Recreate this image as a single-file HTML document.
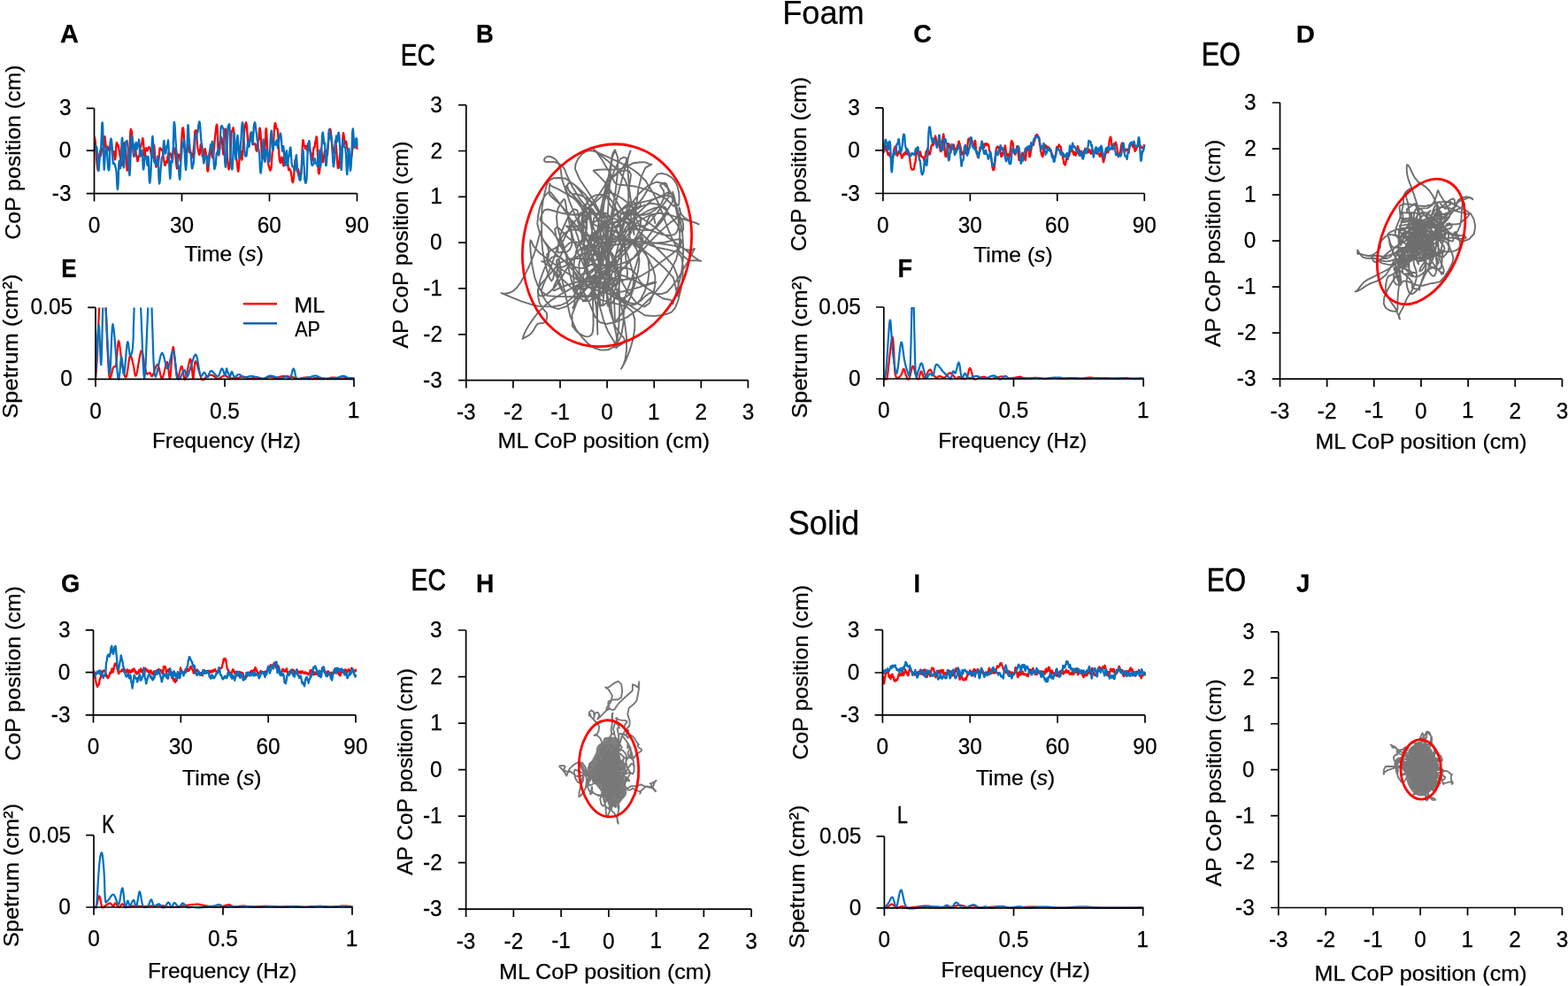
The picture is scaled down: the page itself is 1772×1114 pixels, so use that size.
<!DOCTYPE html>
<html><head><meta charset="utf-8"><title>Figure</title>
<style>html,body{margin:0;padding:0;background:#fff;width:1772px;height:1114px;overflow:hidden} text{stroke:#000;stroke-width:0.25px}</style>
</head><body>
<svg width="1772" height="1114" viewBox="0 0 1772 1114" style="display:block;font-family:&quot;Liberation Sans&quot;, sans-serif">
<defs><clipPath id="cA"><rect x="106.5" y="120.4" width="299" height="100.2"/></clipPath><clipPath id="cC"><rect x="997.9" y="119.9" width="297.4" height="100.6"/></clipPath><clipPath id="cG"><rect x="105.5" y="709.8" width="298.5" height="100"/></clipPath><clipPath id="cI"><rect x="997.4" y="709.7" width="298.6" height="100.2"/></clipPath><clipPath id="cE"><rect x="107" y="347.4" width="295" height="84.9"/></clipPath><clipPath id="cF"><rect x="997.8" y="347" width="296.4" height="85"/></clipPath><clipPath id="cK"><rect x="105" y="943.7" width="295" height="85.3"/></clipPath><clipPath id="cL"><rect x="998.4" y="944.9" width="295.3" height="85"/></clipPath></defs><rect width="100%" height="100%" fill="#fff"/>
<polyline points="106.5,159.4 106.8,154.9 107.2,156.5 107.5,158.5 107.8,161.0 108.2,165.0 108.5,170.6 108.8,176.0 109.1,180.6 109.5,184.4 109.8,186.9 110.1,189.2 110.5,191.7 110.8,192.4 111.1,190.7 111.5,186.8 111.8,181.7 112.1,177.4 112.4,174.4 112.8,173.0 113.1,173.2 113.4,175.1 113.8,176.0 114.1,174.5 114.4,172.9 114.8,171.0 115.1,169.1 115.4,168.0 115.7,167.7 116.1,168.5 116.4,169.4 116.7,169.9 117.1,168.2 117.4,163.2 117.7,157.8 118.0,154.7 118.4,154.1 118.7,155.6 119.0,158.6 119.4,163.6 119.7,167.9 120.0,168.2 120.4,166.9 120.7,166.4 121.0,165.6 121.3,165.4 121.7,165.8 122.0,166.8 122.3,168.3 122.7,169.2 123.0,169.6 123.3,170.0 123.7,170.4 124.0,170.5 124.3,168.3 124.7,163.9 125.0,159.9 125.3,159.0 125.6,160.0 126.0,162.1 126.3,165.2 126.6,167.8 127.0,169.3 127.3,170.3 127.6,172.0 128.0,173.4 128.3,172.8 128.6,171.2 128.9,172.4 129.3,175.9 129.6,178.8 129.9,180.3 130.3,179.8 130.6,177.3 130.9,172.7 131.2,166.6 131.6,162.0 131.9,161.0 132.2,162.4 132.6,164.4 132.9,165.2 133.2,164.6 133.6,163.7 133.9,164.4 134.2,166.7 134.6,169.4 134.9,171.6 135.2,173.6 135.5,175.2 135.9,177.7 136.2,180.4 136.5,182.4 136.9,184.1 137.2,186.1 137.5,187.2 137.8,186.0 138.2,184.6 138.5,183.7 138.8,181.7 139.2,177.6 139.5,171.2 139.8,165.3 140.2,162.2 140.5,161.3 140.8,162.3 141.2,164.2 141.5,166.3 141.8,168.3 142.1,170.2 142.5,174.3 142.8,181.3 143.1,187.8 143.5,191.4 143.8,192.6 144.1,192.6 144.4,190.4 144.8,186.7 145.1,182.6 145.4,179.3 145.8,176.6 146.1,174.2 146.4,170.2 146.8,163.4 147.1,155.3 147.4,149.0 147.8,145.9 148.1,146.0 148.4,147.1 148.7,148.1 149.1,150.3 149.4,155.7 149.7,161.8 150.1,166.2 150.4,170.3 150.7,174.0 151.1,176.1 151.4,176.8 151.7,176.0 152.0,174.3 152.4,172.5 152.7,171.2 153.0,169.5 153.4,170.2 153.7,173.2 154.0,175.0 154.3,175.8 154.7,177.5 155.0,180.2 155.3,182.2 155.7,182.1 156.0,180.5 156.3,178.5 156.7,176.7 157.0,176.1 157.3,175.9 157.7,174.2 158.0,170.5 158.3,167.6 158.6,166.7 159.0,166.0 159.3,164.9 159.6,163.3 160.0,162.7 160.3,162.2 160.6,160.1 160.9,157.5 161.3,156.1 161.6,157.5 161.9,160.2 162.3,164.0 162.6,168.4 162.9,172.8 163.3,176.4 163.6,177.6 163.9,175.7 164.2,171.8 164.6,168.8 164.9,167.6 165.2,167.3 165.6,168.0 165.9,169.2 166.2,169.9 166.6,170.3 166.9,169.6 167.2,168.1 167.6,167.2 167.9,166.5 168.2,166.0 168.5,166.3 168.9,166.8 169.2,167.0 169.5,167.4 169.9,168.9 170.2,170.7 170.5,172.4 170.8,174.6 171.2,177.0 171.5,178.2 171.8,178.1 172.2,175.8 172.5,171.7 172.8,168.0 173.2,165.9 173.5,164.4 173.8,163.6 174.1,163.8 174.5,166.9 174.8,171.8 175.1,176.6 175.5,180.4 175.8,184.6 176.1,187.9 176.5,188.5 176.8,187.8 177.1,186.8 177.4,186.5 177.8,187.1 178.1,187.2 178.4,186.6 178.8,185.9 179.1,184.1 179.4,180.7 179.8,176.7 180.1,172.3 180.4,168.4 180.8,167.1 181.1,167.8 181.4,168.8 181.7,168.9 182.1,169.2 182.4,169.5 182.7,169.1 183.1,168.5 183.4,169.0 183.7,170.1 184.1,172.5 184.4,175.9 184.7,178.8 185.0,180.1 185.4,181.4 185.7,183.8 186.0,186.0 186.4,186.9 186.7,186.8 187.0,185.6 187.3,183.9 187.7,182.5 188.0,182.2 188.3,182.9 188.7,183.9 189.0,182.4 189.3,178.6 189.7,176.2 190.0,175.5 190.3,174.0 190.6,172.4 191.0,172.3 191.3,173.0 191.6,173.5 192.0,173.5 192.3,173.4 192.6,173.5 193.0,174.0 193.3,175.3 193.6,177.0 193.9,178.6 194.3,179.2 194.6,178.1 194.9,176.4 195.3,174.1 195.6,171.5 195.9,168.8 196.3,166.9 196.6,167.1 196.9,167.6 197.2,168.1 197.6,168.8 197.9,169.9 198.2,173.5 198.6,178.6 198.9,182.7 199.2,185.2 199.6,188.1 199.9,190.3 200.2,188.7 200.6,183.5 200.9,178.3 201.2,175.3 201.5,174.5 201.9,174.9 202.2,175.0 202.5,175.0 202.9,175.6 203.2,177.5 203.5,180.5 203.8,181.6 204.2,177.6 204.5,171.7 204.8,165.8 205.2,160.0 205.5,154.5 205.8,148.8 206.2,145.6 206.5,144.6 206.8,144.3 207.1,145.2 207.5,148.0 207.8,152.6 208.1,158.7 208.5,165.6 208.8,170.3 209.1,173.1 209.5,174.6 209.8,173.9 210.1,172.2 210.4,171.5 210.8,170.7 211.1,169.6 211.4,168.7 211.8,167.4 212.1,165.0 212.4,163.9 212.8,165.7 213.1,168.4 213.4,170.5 213.8,171.9 214.1,171.9 214.4,171.6 214.7,171.5 215.1,172.0 215.4,173.0 215.7,173.2 216.1,173.0 216.4,174.3 216.7,176.5 217.1,178.0 217.4,177.8 217.7,176.2 218.0,174.9 218.4,172.7 218.7,169.7 219.0,166.5 219.4,162.9 219.7,159.1 220.0,153.8 220.3,148.7 220.7,147.7 221.0,147.7 221.3,147.3 221.7,147.2 222.0,148.6 222.3,153.5 222.7,160.1 223.0,164.7 223.3,166.9 223.6,168.2 224.0,169.6 224.3,171.3 224.6,172.9 225.0,174.3 225.3,174.9 225.6,174.1 226.0,171.8 226.3,168.0 226.6,164.3 226.9,163.0 227.3,163.3 227.6,164.0 227.9,166.2 228.3,170.6 228.6,174.8 228.9,176.5 229.3,177.3 229.6,177.3 229.9,176.5 230.2,175.8 230.6,174.5 230.9,172.0 231.2,169.7 231.6,168.2 231.9,168.2 232.2,170.0 232.6,172.6 232.9,174.5 233.2,176.2 233.6,180.4 233.9,186.0 234.2,190.5 234.5,193.1 234.9,193.6 235.2,192.9 235.5,190.3 235.9,186.0 236.2,182.5 236.5,179.4 236.8,175.8 237.2,172.0 237.5,169.6 237.8,168.1 238.2,166.4 238.5,166.0 238.8,168.6 239.2,172.8 239.5,175.6 239.8,177.1 240.2,178.2 240.5,178.5 240.8,177.2 241.1,174.7 241.5,172.3 241.8,169.1 242.1,164.4 242.5,160.3 242.8,157.2 243.1,154.7 243.4,151.7 243.8,148.3 244.1,145.5 244.4,143.0 244.8,141.0 245.1,140.6 245.4,142.2 245.8,146.3 246.1,155.7 246.4,165.7 246.8,172.7 247.1,175.4 247.4,174.1 247.7,170.8 248.1,167.6 248.4,164.0 248.7,161.0 249.1,159.4 249.4,157.3 249.7,155.6 250.0,155.1 250.4,155.8 250.7,157.2 251.0,159.6 251.4,163.7 251.7,168.6 252.0,172.8 252.4,174.6 252.7,173.0 253.0,168.6 253.3,162.8 253.7,155.4 254.0,148.4 254.3,146.0 254.7,145.6 255.0,145.9 255.3,146.6 255.7,148.4 256.0,154.7 256.3,163.3 256.6,171.9 257.0,179.1 257.3,183.6 257.6,185.7 258.0,188.4 258.3,190.7 258.6,191.5 259.0,190.3 259.3,188.0 259.6,186.1 259.9,183.0 260.3,176.9 260.6,170.5 260.9,163.7 261.3,155.6 261.6,149.8 261.9,148.2 262.3,147.8 262.6,147.5 262.9,146.3 263.2,144.9 263.6,144.3 263.9,145.5 264.2,148.0 264.6,151.3 264.9,156.3 265.2,161.7 265.6,165.6 265.9,169.8 266.2,174.6 266.5,177.0 266.9,177.8 267.2,179.2 267.5,181.4 267.9,184.1 268.2,187.6 268.5,190.3 268.9,192.4 269.2,193.7 269.5,193.0 269.9,189.5 270.2,184.4 270.5,179.6 270.8,175.7 271.2,172.9 271.5,170.9 271.8,170.4 272.2,171.5 272.5,173.8 272.8,177.4 273.1,180.6 273.5,179.9 273.8,177.2 274.1,174.1 274.5,170.2 274.8,165.5 275.1,160.0 275.5,154.8 275.8,151.5 276.1,149.2 276.4,146.7 276.8,144.0 277.1,142.0 277.4,140.4 277.8,138.9 278.1,138.3 278.4,139.1 278.8,141.3 279.1,144.9 279.4,149.8 279.8,155.7 280.1,161.1 280.4,164.6 280.7,165.7 281.1,165.7 281.4,165.1 281.7,163.7 282.1,161.0 282.4,157.5 282.7,153.7 283.0,151.1 283.4,151.6 283.7,151.6 284.0,150.5 284.4,149.5 284.7,149.8 285.0,152.9 285.4,156.5 285.7,159.4 286.0,161.4 286.4,162.6 286.7,163.1 287.0,163.1 287.3,162.8 287.7,162.4 288.0,162.2 288.3,162.5 288.7,163.4 289.0,165.2 289.3,167.9 289.6,170.0 290.0,170.7 290.3,170.1 290.6,168.6 291.0,166.4 291.3,163.0 291.6,159.7 292.0,158.6 292.3,158.5 292.6,155.6 292.9,149.6 293.3,145.1 293.6,144.6 293.9,146.0 294.3,148.4 294.6,152.0 294.9,157.8 295.3,165.3 295.6,170.4 295.9,174.8 296.2,178.5 296.6,179.5 296.9,177.9 297.2,177.2 297.6,177.7 297.9,178.4 298.2,178.9 298.6,177.7 298.9,174.8 299.2,170.9 299.5,165.6 299.9,158.8 300.2,151.5 300.5,146.1 300.9,145.1 301.2,147.8 301.5,154.2 301.9,161.9 302.2,169.4 302.5,176.0 302.9,181.1 303.2,184.4 303.5,186.8 303.8,188.1 304.2,188.7 304.5,189.9 304.8,191.5 305.2,192.5 305.5,192.5 305.8,192.1 306.1,191.2 306.5,189.7 306.8,186.6 307.1,181.0 307.5,175.4 307.8,172.0 308.1,170.8 308.5,170.2 308.8,167.2 309.1,161.5 309.4,155.3 309.8,149.6 310.1,144.7 310.4,141.4 310.8,139.6 311.1,139.0 311.4,139.7 311.8,141.7 312.1,143.9 312.4,145.3 312.8,145.5 313.1,145.3 313.4,145.7 313.7,146.5 314.1,149.0 314.4,154.9 314.7,162.9 315.1,169.9 315.4,174.7 315.7,178.5 316.0,181.0 316.4,182.7 316.7,183.7 317.0,184.1 317.4,183.8 317.7,181.9 318.0,179.1 318.4,177.5 318.7,178.2 319.0,179.3 319.4,180.3 319.7,182.6 320.0,185.4 320.3,187.3 320.7,187.4 321.0,184.5 321.3,180.8 321.7,177.4 322.0,175.5 322.3,175.3 322.6,174.6 323.0,174.5 323.3,176.5 323.6,179.0 324.0,181.4 324.3,184.8 324.6,187.0 325.0,186.2 325.3,185.6 325.6,187.4 325.9,190.2 326.3,192.2 326.6,191.9 326.9,190.5 327.3,190.6 327.6,192.0 327.9,192.5 328.3,192.8 328.6,193.6 328.9,195.0 329.2,197.1 329.6,199.7 329.9,202.3 330.2,204.4 330.6,205.7 330.9,206.2 331.2,205.6 331.6,203.9 331.9,201.1 332.2,197.6 332.5,193.4 332.9,188.5 333.2,184.1 333.5,180.7 333.9,179.9 334.2,182.0 334.5,184.7 334.9,187.5 335.2,190.4 335.5,192.9 335.9,193.6 336.2,192.8 336.5,191.5 336.8,190.8 337.2,192.0 337.5,193.6 337.8,194.8 338.2,196.0 338.5,197.6 338.8,198.7 339.1,199.0 339.5,198.9 339.8,198.2 340.1,196.7 340.5,193.9 340.8,188.9 341.1,181.0 341.5,172.5 341.8,165.4 342.1,160.3 342.4,158.2 342.8,158.7 343.1,160.6 343.4,162.7 343.8,164.1 344.1,164.8 344.4,165.7 344.8,166.9 345.1,167.9 345.4,167.5 345.8,166.4 346.1,164.8 346.4,164.8 346.7,167.5 347.1,169.8 347.4,168.6 347.7,164.9 348.1,162.3 348.4,163.6 348.7,166.1 349.0,166.6 349.4,166.9 349.7,168.3 350.0,169.4 350.4,170.1 350.7,170.9 351.0,171.9 351.4,172.7 351.7,174.7 352.0,178.2 352.4,180.6 352.7,181.4 353.0,181.5 353.3,179.7 353.7,175.8 354.0,171.8 354.3,168.7 354.7,166.7 355.0,166.2 355.3,166.8 355.6,165.4 356.0,162.6 356.3,160.7 356.6,159.4 357.0,158.0 357.3,156.2 357.6,154.3 358.0,154.6 358.3,159.5 358.6,166.3 358.9,172.9 359.3,181.0 359.6,189.6 359.9,195.0 360.3,196.3 360.6,196.2 360.9,194.9 361.3,192.3 361.6,187.3 361.9,180.7 362.2,174.3 362.6,169.0 362.9,167.8 363.2,169.8 363.6,172.6 363.9,175.9 364.2,179.0 364.6,181.3 364.9,183.2 365.2,183.0 365.6,180.0 365.9,177.3 366.2,175.7 366.5,173.8 366.9,171.3 367.2,170.2 367.5,169.9 367.9,169.5 368.2,171.3 368.5,172.9 368.8,173.1 369.2,173.8 369.5,175.2 369.8,175.4 370.2,173.2 370.5,168.8 370.8,164.1 371.2,160.0 371.5,156.3 371.8,153.0 372.1,149.9 372.5,147.2 372.8,145.8 373.1,145.7 373.5,146.5 373.8,148.3 374.1,151.4 374.5,154.9 374.8,158.0 375.1,162.0 375.4,165.3 375.8,167.0 376.1,169.2 376.4,171.2 376.8,171.5 377.1,172.1 377.4,172.8 377.8,172.2 378.1,169.6 378.4,165.6 378.8,161.5 379.1,159.1 379.4,159.7 379.7,163.0 380.1,167.5 380.4,171.6 380.7,176.6 381.1,182.0 381.4,185.6 381.7,188.5 382.1,189.9 382.4,189.8 382.7,189.7 383.0,188.4 383.4,183.3 383.7,178.0 384.0,175.7 384.4,174.4 384.7,173.1 385.0,172.7 385.3,172.7 385.7,172.1 386.0,169.9 386.3,166.9 386.7,165.1 387.0,162.0 387.3,156.7 387.7,152.2 388.0,150.1 388.3,150.9 388.6,153.2 389.0,156.0 389.3,159.0 389.6,161.3 390.0,162.6 390.3,162.5 390.6,161.2 391.0,159.7 391.3,159.9 391.6,162.2 391.9,165.4 392.3,167.3 392.6,167.7 392.9,168.5 393.3,170.0 393.6,171.8 393.9,174.1 394.3,177.0 394.6,179.6 394.9,181.3 395.2,181.5 395.6,181.4 395.9,181.8 396.2,181.3 396.6,179.9 396.9,178.7 397.2,177.3 397.6,174.5 397.9,171.8 398.2,169.9 398.6,166.6 398.9,163.0 399.2,162.3 399.5,162.8 399.9,162.5 400.2,161.7 400.5,161.1 400.9,161.1 401.2,161.1 401.5,160.9 401.8,161.0 402.2,160.7 402.5,160.8 402.8,161.9 403.2,164.1 403.5,167.9" fill="none" stroke="#ff0000" stroke-width="2.3" stroke-linejoin="round" stroke-linecap="round" clip-path="url(#cA)"/>
<polyline points="106.5,165.1 106.8,161.0 107.2,162.8 107.5,166.7 107.8,168.9 108.2,169.1 108.5,168.8 108.8,167.6 109.1,166.0 109.5,167.1 109.8,171.4 110.1,177.9 110.5,184.4 110.8,187.8 111.1,190.9 111.5,192.9 111.8,190.5 112.1,185.9 112.4,181.6 112.8,176.4 113.1,171.7 113.4,169.3 113.8,169.3 114.1,168.4 114.4,162.2 114.8,152.5 115.1,143.4 115.4,138.8 115.7,138.4 116.1,141.7 116.4,151.5 116.7,163.1 117.1,175.4 117.4,186.9 117.7,191.8 118.0,188.3 118.4,182.0 118.7,176.9 119.0,172.8 119.4,169.7 119.7,167.5 120.0,166.3 120.4,166.4 120.7,167.5 121.0,170.6 121.3,175.9 121.7,182.4 122.0,187.9 122.3,190.8 122.7,191.8 123.0,192.4 123.3,191.9 123.7,187.9 124.0,179.1 124.3,168.5 124.7,160.8 125.0,157.8 125.3,156.6 125.6,156.6 126.0,158.9 126.3,162.2 126.6,166.9 127.0,172.9 127.3,178.1 127.6,182.4 128.0,185.0 128.3,184.9 128.6,184.5 128.9,184.1 129.3,184.7 129.6,185.7 129.9,186.8 130.3,188.2 130.6,188.8 130.9,190.0 131.2,191.7 131.6,194.6 131.9,200.5 132.2,207.5 132.6,212.4 132.9,214.0 133.2,212.6 133.6,207.3 133.9,197.9 134.2,187.8 134.6,182.0 134.9,181.8 135.2,185.0 135.5,189.0 135.9,190.3 136.2,188.1 136.5,183.0 136.9,175.3 137.2,168.1 137.5,161.3 137.8,156.5 138.2,155.8 138.5,160.2 138.8,168.5 139.2,178.7 139.5,186.7 139.8,189.3 140.2,187.2 140.5,183.2 140.8,177.7 141.2,171.7 141.5,167.0 141.8,162.9 142.1,160.4 142.5,160.1 142.8,160.3 143.1,159.2 143.5,159.0 143.8,160.9 144.1,162.7 144.4,164.8 144.8,169.7 145.1,177.6 145.4,185.2 145.8,190.7 146.1,195.8 146.4,198.2 146.8,195.9 147.1,189.1 147.4,180.4 147.8,171.8 148.1,162.8 148.4,156.3 148.7,153.6 149.1,153.3 149.4,155.3 149.7,157.2 150.1,159.4 150.4,162.7 150.7,166.8 151.1,172.0 151.4,176.5 151.7,176.4 152.0,172.6 152.4,167.0 152.7,163.1 153.0,163.0 153.4,161.9 153.7,160.8 154.0,164.1 154.3,168.4 154.7,168.6 155.0,165.1 155.3,162.7 155.7,164.0 156.0,165.3 156.3,163.3 156.7,159.9 157.0,157.6 157.3,160.0 157.7,165.9 158.0,171.6 158.3,175.7 158.6,176.8 159.0,174.7 159.3,172.1 159.6,170.6 160.0,169.7 160.3,169.6 160.6,170.5 160.9,173.6 161.3,179.9 161.6,187.0 161.9,191.3 162.3,191.4 162.6,188.8 162.9,185.0 163.3,181.2 163.6,178.9 163.9,178.0 164.2,178.3 164.6,178.6 164.9,177.8 165.2,176.2 165.6,177.1 165.9,180.6 166.2,184.8 166.6,186.8 166.9,184.6 167.2,179.4 167.6,176.8 167.9,180.5 168.2,189.7 168.5,199.0 168.9,204.9 169.2,206.8 169.5,205.7 169.9,203.0 170.2,199.2 170.5,193.7 170.8,186.8 171.2,178.5 171.5,169.2 171.8,160.6 172.2,155.0 172.5,153.8 172.8,156.9 173.2,162.8 173.5,170.2 173.8,177.7 174.1,182.4 174.5,183.4 174.8,182.7 175.1,182.7 175.5,183.9 175.8,185.4 176.1,186.7 176.5,186.1 176.8,184.2 177.1,182.4 177.4,180.9 177.8,178.5 178.1,176.4 178.4,176.8 178.8,180.8 179.1,190.0 179.4,200.0 179.8,205.3 180.1,207.5 180.4,206.6 180.8,203.8 181.1,198.9 181.4,193.1 181.7,189.8 182.1,187.0 182.4,183.3 182.7,179.3 183.1,177.8 183.4,177.2 183.7,176.4 184.1,174.4 184.4,170.7 184.7,165.1 185.0,160.3 185.4,158.9 185.7,162.0 186.0,167.5 186.4,171.8 186.7,173.5 187.0,173.5 187.3,173.2 187.7,171.4 188.0,168.6 188.3,165.9 188.7,164.5 189.0,164.6 189.3,163.4 189.7,160.1 190.0,158.5 190.3,160.9 190.6,167.8 191.0,176.9 191.3,186.3 191.6,194.2 192.0,199.7 192.3,201.8 192.6,199.2 193.0,192.7 193.3,185.9 193.6,181.7 193.9,181.5 194.3,183.6 194.6,183.6 194.9,181.5 195.3,178.8 195.6,172.2 195.9,160.2 196.3,146.5 196.6,139.1 196.9,137.9 197.2,139.2 197.6,142.3 197.9,147.2 198.2,153.9 198.6,160.0 198.9,164.9 199.2,169.3 199.6,172.1 199.9,174.6 200.2,179.2 200.6,184.8 200.9,188.7 201.2,188.0 201.5,186.8 201.9,188.8 202.2,193.2 202.5,198.3 202.9,202.2 203.2,202.9 203.5,201.1 203.8,195.2 204.2,186.9 204.5,180.7 204.8,177.6 205.2,174.4 205.5,168.9 205.8,163.5 206.2,161.4 206.5,162.7 206.8,165.2 207.1,165.7 207.5,161.6 207.8,157.4 208.1,157.9 208.5,163.6 208.8,172.8 209.1,181.6 209.5,187.1 209.8,190.7 210.1,192.0 210.4,189.9 210.8,183.5 211.1,175.4 211.4,167.1 211.8,157.3 212.1,147.3 212.4,141.2 212.8,141.6 213.1,146.8 213.4,153.6 213.8,158.4 214.1,162.0 214.4,165.4 214.7,167.9 215.1,170.4 215.4,172.4 215.7,174.1 216.1,178.7 216.4,184.9 216.7,188.8 217.1,190.5 217.4,190.2 217.7,188.6 218.0,186.8 218.4,185.8 218.7,185.0 219.0,181.5 219.4,177.2 219.7,172.5 220.0,164.7 220.3,156.7 220.7,153.2 221.0,152.8 221.3,154.5 221.7,156.7 222.0,156.4 222.3,153.2 222.7,150.8 223.0,150.1 223.3,149.6 223.6,148.0 224.0,145.3 224.3,142.4 224.6,139.8 225.0,138.0 225.3,137.4 225.6,138.1 226.0,140.1 226.3,143.6 226.6,148.3 226.9,153.5 227.3,157.6 227.6,160.4 227.9,162.4 228.3,164.5 228.6,167.0 228.9,170.1 229.3,174.0 229.6,178.0 229.9,182.0 230.2,184.4 230.6,183.7 230.9,181.4 231.2,179.1 231.6,177.2 231.9,176.8 232.2,177.7 232.6,178.1 232.9,177.2 233.2,176.3 233.6,175.8 233.9,177.6 234.2,182.0 234.5,185.5 234.9,187.6 235.2,188.7 235.5,187.7 235.9,182.7 236.2,176.9 236.5,172.8 236.8,171.1 237.2,171.1 237.5,168.5 237.8,164.4 238.2,163.2 238.5,164.1 238.8,164.9 239.2,164.5 239.5,162.4 239.8,160.0 240.2,160.1 240.5,162.0 240.8,166.3 241.1,172.5 241.5,179.4 241.8,185.9 242.1,190.1 242.5,191.2 242.8,189.1 243.1,187.9 243.4,187.9 243.8,185.7 244.1,181.7 244.4,177.3 244.8,173.6 245.1,172.4 245.4,172.7 245.8,171.7 246.1,170.2 246.4,169.6 246.8,170.7 247.1,173.4 247.4,174.3 247.7,172.5 248.1,169.9 248.4,167.9 248.7,161.8 249.1,151.9 249.4,144.9 249.7,143.2 250.0,142.9 250.4,142.7 250.7,142.2 251.0,142.2 251.4,143.6 251.7,144.6 252.0,144.7 252.4,145.1 252.7,146.9 253.0,153.0 253.3,161.9 253.7,170.1 254.0,178.1 254.3,184.4 254.7,188.1 255.0,188.9 255.3,186.8 255.7,182.1 256.0,175.5 256.3,169.0 256.6,162.8 257.0,155.1 257.3,147.2 257.6,143.5 258.0,142.1 258.3,141.9 258.6,141.1 259.0,140.2 259.3,141.2 259.6,145.0 259.9,155.5 260.3,169.5 260.6,178.3 260.9,182.2 261.3,186.8 261.6,190.0 261.9,190.7 262.3,191.5 262.6,190.6 262.9,186.6 263.2,179.9 263.6,171.7 263.9,161.8 264.2,153.9 264.6,149.9 264.9,150.8 265.2,156.8 265.6,165.6 265.9,173.8 266.2,179.0 266.5,180.3 266.9,177.8 267.2,172.2 267.5,165.2 267.9,159.9 268.2,155.0 268.5,152.9 268.9,155.8 269.2,160.8 269.5,166.7 269.9,172.2 270.2,176.8 270.5,178.9 270.8,177.7 271.2,174.7 271.5,170.0 271.8,164.6 272.2,161.3 272.5,157.4 272.8,151.4 273.1,145.1 273.5,140.9 273.8,138.5 274.1,138.5 274.5,140.2 274.8,142.4 275.1,145.9 275.5,152.5 275.8,159.8 276.1,165.8 276.4,171.2 276.8,174.9 277.1,176.3 277.4,176.5 277.8,176.5 278.1,176.6 278.4,176.2 278.8,174.5 279.1,171.7 279.4,168.0 279.8,163.6 280.1,160.4 280.4,159.9 280.7,162.0 281.1,165.2 281.4,165.7 281.7,162.3 282.1,160.5 282.4,160.3 282.7,158.3 283.0,154.2 283.4,151.1 283.7,149.8 284.0,149.5 284.4,151.0 284.7,154.6 285.0,159.4 285.4,163.4 285.7,163.2 286.0,158.2 286.4,151.2 286.7,145.2 287.0,141.7 287.3,140.0 287.7,138.8 288.0,138.2 288.3,139.0 288.7,141.2 289.0,144.2 289.3,147.0 289.6,149.0 290.0,151.0 290.3,154.4 290.6,157.7 291.0,159.3 291.3,161.8 291.6,165.6 292.0,168.3 292.3,169.2 292.6,170.9 292.9,172.7 293.3,175.7 293.6,182.5 293.9,190.1 294.3,194.2 294.6,195.5 294.9,194.7 295.3,190.1 295.6,186.5 295.9,184.5 296.2,182.4 296.6,177.5 296.9,169.3 297.2,161.1 297.6,157.3 297.9,159.6 298.2,165.3 298.6,171.7 298.9,177.6 299.2,181.3 299.5,182.9 299.9,181.5 300.2,176.8 300.5,172.2 300.9,169.5 301.2,169.4 301.5,170.3 301.9,170.6 302.2,171.3 302.5,173.2 302.9,175.7 303.2,178.1 303.5,178.8 303.8,180.0 304.2,182.6 304.5,182.2 304.8,176.5 305.2,168.6 305.5,161.4 305.8,156.0 306.1,151.8 306.5,148.7 306.8,147.6 307.1,150.4 307.5,156.4 307.8,162.2 308.1,166.8 308.5,169.2 308.8,168.2 309.1,164.3 309.4,160.7 309.8,160.5 310.1,161.8 310.4,162.8 310.8,163.4 311.1,163.7 311.4,163.4 311.8,162.6 312.1,161.2 312.4,159.2 312.8,158.2 313.1,159.9 313.4,163.4 313.7,166.3 314.1,167.5 314.4,166.0 314.7,163.2 315.1,160.8 315.4,157.1 315.7,154.1 316.0,153.3 316.4,152.6 316.7,150.9 317.0,150.6 317.4,152.5 317.7,154.5 318.0,158.1 318.4,163.8 318.7,168.3 319.0,170.5 319.4,171.0 319.7,169.2 320.0,166.5 320.3,165.2 320.7,168.1 321.0,174.0 321.3,179.6 321.7,184.3 322.0,186.7 322.3,186.0 322.6,183.5 323.0,178.3 323.3,173.0 323.6,170.6 324.0,170.1 324.3,172.8 324.6,179.9 325.0,185.6 325.3,186.3 325.6,182.4 325.9,178.4 326.3,176.8 326.6,176.8 326.9,175.2 327.3,171.8 327.6,169.0 327.9,167.1 328.3,166.5 328.6,168.6 328.9,173.5 329.2,179.0 329.6,183.9 329.9,186.9 330.2,187.9 330.6,187.9 330.9,187.9 331.2,188.1 331.6,188.9 331.9,190.0 332.2,191.3 332.5,192.3 332.9,192.4 333.2,190.9 333.5,187.1 333.9,182.9 334.2,179.7 334.5,176.8 334.9,175.2 335.2,177.2 335.5,183.2 335.9,188.9 336.2,192.0 336.5,194.0 336.8,196.2 337.2,198.1 337.5,198.6 337.8,199.9 338.2,201.7 338.5,203.0 338.8,203.6 339.1,203.8 339.5,203.3 339.8,201.6 340.1,198.8 340.5,194.9 340.8,190.3 341.1,185.4 341.5,179.8 341.8,173.8 342.1,169.4 342.4,168.9 342.8,172.3 343.1,178.7 343.4,185.0 343.8,190.4 344.1,197.9 344.4,203.1 344.8,205.1 345.1,206.3 345.4,206.8 345.8,206.4 346.1,205.1 346.4,203.3 346.7,198.6 347.1,188.3 347.4,178.1 347.7,171.1 348.1,166.6 348.4,163.5 348.7,161.6 349.0,160.6 349.4,159.1 349.7,159.9 350.0,163.7 350.4,168.4 350.7,172.7 351.0,175.4 351.4,177.8 351.7,181.5 352.0,184.6 352.4,185.9 352.7,186.8 353.0,186.9 353.3,186.4 353.7,185.8 354.0,185.5 354.3,185.7 354.7,183.6 355.0,181.0 355.3,179.4 355.6,179.0 356.0,179.5 356.3,180.9 356.6,182.9 357.0,184.6 357.3,184.9 357.6,184.3 358.0,184.2 358.3,185.8 358.6,187.5 358.9,186.9 359.3,182.6 359.6,176.6 359.9,171.5 360.3,169.9 360.6,174.2 360.9,181.8 361.3,187.1 361.6,188.9 361.9,189.1 362.2,188.5 362.6,185.6 362.9,179.4 363.2,171.5 363.6,164.3 363.9,158.0 364.2,152.9 364.6,150.1 364.9,149.6 365.2,151.9 365.6,155.7 365.9,159.7 366.2,162.6 366.5,162.4 366.9,161.0 367.2,163.4 367.5,171.7 367.9,181.4 368.2,186.6 368.5,187.3 368.8,186.1 369.2,182.0 369.5,176.3 369.8,172.4 370.2,169.2 370.5,165.6 370.8,161.5 371.2,156.9 371.5,151.4 371.8,146.7 372.1,146.6 372.5,148.8 372.8,152.6 373.1,156.1 373.5,156.5 373.8,154.4 374.1,154.1 374.5,155.5 374.8,158.3 375.1,162.6 375.4,168.2 375.8,173.8 376.1,179.2 376.4,184.4 376.8,188.0 377.1,188.4 377.4,185.8 377.8,182.4 378.1,179.3 378.4,175.3 378.8,170.0 379.1,164.6 379.4,160.5 379.7,156.6 380.1,153.5 380.4,153.9 380.7,157.9 381.1,160.0 381.4,157.6 381.7,154.7 382.1,152.4 382.4,150.3 382.7,149.8 383.0,150.8 383.4,153.7 383.7,158.5 384.0,164.4 384.4,170.9 384.7,177.8 385.0,185.3 385.3,190.1 385.7,191.9 386.0,190.5 386.3,184.0 386.7,173.5 387.0,164.1 387.3,159.4 387.7,157.9 388.0,158.8 388.3,161.6 388.6,164.5 389.0,165.8 389.3,165.7 389.6,165.6 390.0,166.0 390.3,168.0 390.6,170.9 391.0,174.4 391.3,180.5 391.6,188.8 391.9,195.2 392.3,197.2 392.6,193.5 392.9,186.1 393.3,178.9 393.6,172.7 393.9,168.7 394.3,168.0 394.6,170.7 394.9,177.0 395.2,184.9 395.6,191.0 395.9,192.9 396.2,192.0 396.6,189.0 396.9,184.2 397.2,178.3 397.6,170.3 397.9,160.3 398.2,150.9 398.6,146.0 398.9,145.5 399.2,148.4 399.5,153.0 399.9,158.1 400.2,163.4 400.5,166.7 400.9,166.9 401.2,165.2 401.5,163.1 401.8,160.9 402.2,158.2 402.5,156.5 402.8,156.1 403.2,157.5 403.5,163.4" fill="none" stroke="#0070c0" stroke-width="2.3" stroke-linejoin="round" stroke-linecap="round" clip-path="url(#cA)"/>
<path d="M106.5 122.4V218.6M97.7 218.6H403.5M97.7 122.4H106.5M97.7 170.2H106.5M97.7 218.6H106.5M106.5 218.6V227.4M205.5 218.6V227.4M304.5 218.6V227.4M403.5 218.6V227.4" stroke="#000" stroke-width="1.7" fill="none"/>
<text x="66.95" y="130.43" font-size="25" textLength="13.56" lengthAdjust="spacingAndGlyphs">3</text>
<text x="66.83" y="178.22" font-size="25" textLength="13.56" lengthAdjust="spacingAndGlyphs">0</text>
<text x="58.78" y="226.62" font-size="25" textLength="21.67" lengthAdjust="spacingAndGlyphs">-3</text>
<text x="99.67" y="262.9" font-size="25" textLength="13.56" lengthAdjust="spacingAndGlyphs">0</text>
<text x="191.91" y="262.9" font-size="25" textLength="27.11" lengthAdjust="spacingAndGlyphs">30</text>
<text x="290.79" y="262.9" font-size="25" textLength="27.11" lengthAdjust="spacingAndGlyphs">60</text>
<text x="389.85" y="262.9" font-size="25" textLength="27.11" lengthAdjust="spacingAndGlyphs">90</text>
<polyline points="997.9,171.2 998.2,170.8 998.6,169.8 998.9,170.4 999.2,171.2 999.5,170.2 999.9,167.8 1000.2,166.3 1000.5,165.1 1000.9,164.2 1001.2,165.0 1001.5,166.3 1001.8,167.8 1002.2,170.4 1002.5,171.6 1002.8,171.5 1003.2,173.4 1003.5,174.8 1003.8,173.8 1004.1,172.7 1004.5,172.9 1004.8,173.2 1005.1,174.7 1005.4,176.3 1005.8,176.1 1006.1,176.5 1006.4,177.3 1006.8,177.3 1007.1,177.6 1007.4,177.9 1007.7,179.0 1008.1,181.6 1008.4,182.1 1008.7,179.8 1009.1,177.5 1009.4,176.4 1009.7,174.5 1010.0,171.8 1010.4,168.8 1010.7,167.5 1011.0,167.3 1011.4,166.0 1011.7,165.4 1012.0,165.9 1012.3,167.2 1012.7,168.4 1013.0,169.3 1013.3,171.8 1013.7,175.2 1014.0,176.0 1014.3,173.8 1014.6,173.3 1015.0,174.4 1015.3,173.6 1015.6,172.1 1016.0,171.3 1016.3,170.2 1016.6,170.7 1016.9,172.7 1017.3,173.2 1017.6,173.0 1017.9,173.5 1018.2,174.2 1018.6,175.7 1018.9,177.9 1019.2,178.6 1019.6,178.3 1019.9,177.3 1020.2,176.3 1020.5,175.8 1020.9,174.9 1021.2,173.5 1021.5,173.5 1021.9,174.1 1022.2,174.9 1022.5,174.4 1022.8,173.4 1023.2,171.9 1023.5,171.4 1023.8,171.2 1024.2,172.0 1024.5,173.5 1024.8,174.1 1025.1,174.2 1025.5,173.3 1025.8,170.9 1026.1,170.0 1026.5,171.0 1026.8,172.8 1027.1,172.7 1027.4,172.4 1027.8,175.4 1028.1,178.7 1028.4,181.7 1028.8,184.6 1029.1,186.9 1029.4,188.7 1029.7,190.1 1030.1,191.1 1030.4,191.5 1030.7,191.5 1031.1,191.5 1031.4,191.5 1031.7,191.5 1032.0,191.2 1032.4,191.2 1032.7,191.3 1033.0,190.0 1033.3,188.1 1033.7,185.9 1034.0,184.1 1034.3,183.7 1034.7,182.0 1035.0,178.5 1035.3,174.9 1035.6,173.2 1036.0,172.5 1036.3,171.8 1036.6,171.1 1037.0,171.2 1037.3,171.8 1037.6,173.0 1037.9,174.3 1038.3,175.2 1038.6,175.5 1038.9,176.0 1039.3,175.1 1039.6,172.6 1039.9,171.4 1040.2,172.1 1040.6,173.9 1040.9,175.4 1041.2,176.6 1041.6,177.3 1041.9,177.2 1042.2,177.1 1042.5,177.1 1042.9,177.3 1043.2,177.7 1043.5,178.1 1043.9,179.1 1044.2,181.1 1044.5,181.8 1044.8,180.9 1045.2,179.2 1045.5,177.7 1045.8,175.8 1046.1,173.3 1046.5,172.6 1046.8,171.1 1047.1,170.4 1047.5,170.2 1047.8,169.3 1048.1,168.3 1048.4,168.7 1048.8,169.8 1049.1,171.3 1049.4,173.3 1049.8,174.5 1050.1,174.7 1050.4,174.6 1050.7,174.4 1051.1,173.6 1051.4,172.0 1051.7,169.5 1052.1,167.0 1052.4,165.2 1052.7,164.4 1053.0,164.3 1053.4,163.7 1053.7,162.9 1054.0,163.9 1054.4,164.3 1054.7,163.6 1055.0,162.7 1055.3,161.8 1055.7,161.2 1056.0,159.4 1056.3,156.8 1056.7,154.6 1057.0,153.5 1057.3,154.1 1057.6,155.8 1058.0,157.8 1058.3,160.7 1058.6,163.3 1058.9,164.5 1059.3,164.4 1059.6,163.2 1059.9,160.9 1060.3,160.0 1060.6,160.5 1060.9,162.4 1061.2,163.8 1061.6,164.3 1061.9,165.2 1062.2,167.6 1062.6,169.9 1062.9,171.0 1063.2,171.3 1063.5,171.0 1063.9,169.4 1064.2,166.1 1064.5,162.9 1064.9,160.9 1065.2,158.8 1065.5,156.5 1065.8,153.4 1066.2,151.5 1066.5,152.8 1066.8,156.4 1067.2,161.4 1067.5,166.3 1067.8,170.5 1068.1,174.3 1068.5,176.6 1068.8,177.1 1069.1,176.9 1069.5,176.3 1069.8,174.7 1070.1,172.0 1070.4,168.8 1070.8,165.6 1071.1,164.1 1071.4,163.4 1071.8,162.3 1072.1,162.7 1072.4,162.7 1072.7,163.3 1073.1,165.5 1073.4,167.5 1073.7,169.3 1074.0,171.7 1074.4,172.3 1074.7,170.3 1075.0,169.0 1075.4,168.8 1075.7,168.4 1076.0,167.8 1076.3,166.8 1076.7,166.7 1077.0,165.7 1077.3,163.8 1077.7,163.5 1078.0,164.7 1078.3,166.2 1078.6,167.6 1079.0,167.7 1079.3,168.1 1079.6,168.9 1080.0,168.3 1080.3,168.4 1080.6,169.6 1080.9,170.0 1081.3,168.8 1081.6,167.0 1081.9,165.7 1082.3,164.2 1082.6,163.4 1082.9,163.5 1083.2,161.4 1083.6,159.6 1083.9,160.2 1084.2,161.3 1084.6,162.4 1084.9,164.1 1085.2,164.9 1085.5,166.2 1085.9,168.0 1086.2,169.8 1086.5,172.1 1086.8,173.9 1087.2,174.6 1087.5,174.0 1087.8,173.5 1088.2,173.4 1088.5,172.1 1088.8,171.7 1089.1,172.3 1089.5,171.7 1089.8,171.3 1090.1,171.5 1090.5,172.2 1090.8,173.4 1091.1,172.8 1091.4,171.6 1091.8,172.4 1092.1,173.1 1092.4,172.0 1092.8,170.1 1093.1,167.5 1093.4,164.7 1093.7,161.6 1094.1,158.8 1094.4,157.0 1094.7,156.8 1095.1,157.9 1095.4,158.5 1095.7,158.3 1096.0,157.2 1096.4,156.1 1096.7,155.7 1097.0,156.1 1097.4,156.5 1097.7,157.0 1098.0,157.7 1098.3,158.8 1098.7,161.1 1099.0,162.9 1099.3,163.6 1099.6,164.2 1100.0,165.1 1100.3,164.2 1100.6,162.9 1101.0,163.2 1101.3,162.3 1101.6,159.8 1101.9,158.9 1102.3,160.2 1102.6,163.8 1102.9,168.1 1103.3,170.5 1103.6,170.9 1103.9,171.2 1104.2,172.5 1104.6,174.9 1104.9,177.2 1105.2,177.8 1105.6,176.5 1105.9,175.5 1106.2,174.6 1106.5,173.2 1106.9,171.7 1107.2,168.6 1107.5,166.6 1107.9,167.5 1108.2,167.8 1108.5,166.8 1108.8,166.8 1109.2,167.8 1109.5,167.2 1109.8,166.9 1110.2,167.5 1110.5,166.0 1110.8,163.5 1111.1,163.0 1111.5,165.5 1111.8,167.2 1112.1,166.1 1112.4,163.6 1112.8,162.5 1113.1,163.0 1113.4,163.8 1113.8,164.3 1114.1,163.6 1114.4,162.3 1114.7,162.1 1115.1,163.0 1115.4,163.3 1115.7,163.7 1116.1,163.2 1116.4,162.8 1116.7,163.2 1117.0,163.6 1117.4,164.9 1117.7,167.7 1118.0,169.6 1118.4,170.8 1118.7,172.2 1119.0,174.1 1119.3,175.1 1119.7,176.4 1120.0,178.2 1120.3,179.8 1120.7,181.9 1121.0,184.9 1121.3,187.5 1121.6,189.5 1122.0,191.1 1122.3,192.0 1122.6,192.3 1123.0,192.1 1123.3,191.4 1123.6,190.2 1123.9,187.9 1124.3,184.4 1124.6,180.4 1124.9,177.1 1125.3,174.1 1125.6,170.9 1125.9,168.1 1126.2,167.0 1126.6,167.0 1126.9,166.0 1127.2,165.5 1127.5,166.2 1127.9,166.5 1128.2,166.3 1128.5,167.2 1128.9,168.4 1129.2,167.7 1129.5,166.6 1129.8,166.8 1130.2,169.1 1130.5,172.7 1130.8,174.2 1131.2,175.6 1131.5,177.1 1131.8,176.0 1132.1,173.6 1132.5,173.0 1132.8,174.5 1133.1,175.6 1133.5,174.6 1133.8,172.2 1134.1,169.8 1134.4,169.0 1134.8,169.2 1135.1,168.9 1135.4,166.8 1135.8,164.5 1136.1,164.9 1136.4,167.3 1136.7,169.4 1137.1,171.7 1137.4,173.1 1137.7,173.9 1138.1,176.2 1138.4,176.9 1138.7,175.5 1139.0,174.2 1139.4,174.5 1139.7,175.7 1140.0,178.0 1140.3,178.9 1140.7,177.3 1141.0,175.6 1141.3,173.3 1141.7,170.5 1142.0,168.1 1142.3,165.1 1142.6,161.8 1143.0,159.4 1143.3,159.1 1143.6,159.9 1144.0,160.4 1144.3,160.5 1144.6,161.4 1144.9,164.5 1145.3,168.7 1145.6,171.0 1145.9,172.5 1146.3,173.2 1146.6,172.9 1146.9,173.5 1147.2,174.7 1147.6,174.1 1147.9,171.4 1148.2,168.9 1148.6,168.3 1148.9,167.9 1149.2,166.3 1149.5,165.1 1149.9,167.8 1150.2,170.4 1150.5,171.4 1150.9,174.1 1151.2,177.8 1151.5,180.5 1151.8,181.0 1152.2,180.5 1152.5,179.4 1152.8,178.5 1153.1,178.4 1153.5,177.9 1153.8,177.2 1154.1,176.7 1154.5,177.0 1154.8,177.0 1155.1,174.6 1155.4,172.7 1155.8,173.3 1156.1,173.9 1156.4,174.0 1156.8,174.1 1157.1,174.4 1157.4,176.2 1157.7,177.6 1158.1,179.2 1158.4,180.5 1158.7,181.1 1159.1,179.9 1159.4,176.2 1159.7,172.3 1160.0,170.0 1160.4,169.2 1160.7,168.0 1161.0,166.8 1161.4,166.4 1161.7,166.4 1162.0,166.8 1162.3,168.1 1162.7,170.5 1163.0,174.1 1163.3,177.1 1163.7,177.2 1164.0,176.6 1164.3,175.5 1164.6,173.4 1165.0,171.0 1165.3,169.0 1165.6,167.2 1165.9,164.6 1166.3,163.5 1166.6,163.5 1166.9,163.0 1167.3,162.4 1167.6,163.2 1167.9,163.8 1168.2,161.9 1168.6,159.9 1168.9,159.8 1169.2,158.9 1169.6,157.3 1169.9,155.3 1170.2,153.7 1170.5,153.2 1170.9,153.1 1171.2,152.7 1171.5,152.2 1171.9,152.1 1172.2,152.3 1172.5,152.9 1172.8,153.8 1173.2,154.6 1173.5,155.5 1173.8,155.5 1174.2,155.1 1174.5,156.7 1174.8,160.8 1175.1,163.8 1175.5,164.7 1175.8,167.6 1176.1,171.3 1176.5,172.1 1176.8,172.7 1177.1,174.7 1177.4,175.4 1177.8,175.8 1178.1,176.8 1178.4,177.0 1178.8,175.9 1179.1,172.1 1179.4,167.2 1179.7,164.9 1180.1,164.1 1180.4,164.8 1180.7,166.4 1181.0,167.1 1181.4,165.7 1181.7,164.2 1182.0,165.0 1182.4,166.0 1182.7,166.3 1183.0,167.1 1183.3,167.8 1183.7,166.8 1184.0,165.8 1184.3,166.5 1184.7,167.8 1185.0,167.2 1185.3,166.7 1185.6,168.3 1186.0,169.9 1186.3,169.6 1186.6,169.1 1187.0,168.7 1187.3,169.3 1187.6,169.6 1187.9,171.1 1188.3,173.6 1188.6,174.3 1188.9,174.2 1189.3,174.9 1189.6,176.0 1189.9,176.3 1190.2,177.1 1190.6,177.9 1190.9,178.0 1191.2,178.2 1191.6,177.9 1191.9,177.3 1192.2,177.4 1192.5,177.4 1192.9,175.3 1193.2,173.2 1193.5,171.6 1193.8,168.7 1194.2,166.2 1194.5,167.0 1194.8,168.9 1195.2,168.5 1195.5,167.6 1195.8,166.7 1196.1,165.8 1196.5,164.0 1196.8,163.4 1197.1,164.3 1197.5,164.5 1197.8,164.7 1198.1,165.7 1198.4,165.8 1198.8,166.1 1199.1,167.7 1199.4,169.9 1199.8,172.0 1200.1,172.8 1200.4,172.8 1200.7,174.9 1201.1,177.9 1201.4,179.3 1201.7,180.3 1202.1,183.2 1202.4,185.1 1202.7,184.4 1203.0,184.5 1203.4,185.8 1203.7,186.6 1204.0,186.1 1204.4,184.0 1204.7,182.0 1205.0,180.2 1205.3,177.8 1205.7,176.3 1206.0,176.5 1206.3,176.2 1206.6,174.6 1207.0,174.0 1207.3,175.3 1207.6,176.6 1208.0,176.4 1208.3,175.5 1208.6,174.4 1208.9,172.9 1209.3,171.1 1209.6,169.7 1209.9,169.4 1210.3,169.6 1210.6,169.9 1210.9,169.7 1211.2,170.8 1211.6,171.2 1211.9,170.3 1212.2,169.9 1212.6,171.3 1212.9,173.1 1213.2,174.0 1213.5,174.9 1213.9,174.5 1214.2,172.9 1214.5,171.9 1214.9,171.7 1215.2,173.2 1215.5,175.7 1215.8,175.5 1216.2,173.6 1216.5,173.0 1216.8,173.0 1217.2,172.4 1217.5,169.0 1217.8,165.2 1218.1,165.1 1218.5,167.3 1218.8,168.5 1219.1,168.8 1219.5,169.0 1219.8,170.2 1220.1,172.2 1220.4,174.1 1220.8,175.3 1221.1,175.5 1221.4,174.1 1221.7,172.7 1222.1,172.1 1222.4,172.0 1222.7,173.0 1223.1,175.1 1223.4,177.4 1223.7,178.8 1224.0,177.8 1224.4,175.0 1224.7,172.9 1225.0,171.4 1225.4,170.1 1225.7,169.4 1226.0,168.6 1226.3,167.8 1226.7,167.7 1227.0,169.6 1227.3,171.4 1227.7,171.8 1228.0,172.5 1228.3,172.3 1228.6,171.7 1229.0,171.9 1229.3,171.3 1229.6,171.4 1230.0,172.2 1230.3,171.6 1230.6,169.9 1230.9,168.8 1231.3,169.0 1231.6,169.7 1231.9,171.0 1232.3,172.2 1232.6,173.2 1232.9,173.8 1233.2,173.1 1233.6,172.7 1233.9,171.2 1234.2,169.0 1234.5,169.3 1234.9,170.7 1235.2,171.3 1235.5,171.1 1235.9,170.8 1236.2,171.7 1236.5,171.9 1236.8,170.9 1237.2,171.0 1237.5,171.7 1237.8,172.1 1238.2,170.9 1238.5,170.6 1238.8,171.9 1239.1,173.1 1239.5,173.8 1239.8,173.4 1240.1,171.8 1240.5,170.8 1240.8,170.9 1241.1,172.1 1241.4,173.1 1241.8,173.4 1242.1,174.0 1242.4,175.2 1242.8,176.6 1243.1,176.8 1243.4,176.6 1243.7,175.9 1244.1,173.3 1244.4,170.9 1244.7,170.8 1245.1,171.2 1245.4,172.8 1245.7,175.8 1246.0,178.5 1246.4,179.7 1246.7,181.5 1247.0,183.4 1247.3,182.9 1247.7,180.3 1248.0,178.6 1248.3,178.8 1248.7,177.5 1249.0,174.0 1249.3,172.3 1249.6,172.7 1250.0,173.0 1250.3,172.0 1250.6,170.6 1251.0,170.6 1251.3,170.5 1251.6,170.8 1251.9,172.0 1252.3,172.0 1252.6,170.3 1252.9,167.4 1253.3,163.6 1253.6,159.8 1253.9,157.9 1254.2,157.3 1254.6,155.6 1254.9,154.6 1255.2,154.8 1255.6,156.8 1255.9,159.7 1256.2,162.0 1256.5,165.0 1256.9,167.9 1257.2,168.6 1257.5,168.1 1257.9,168.4 1258.2,167.9 1258.5,167.0 1258.8,167.1 1259.2,166.5 1259.5,164.3 1259.8,163.3 1260.1,162.7 1260.5,161.1 1260.8,160.7 1261.1,162.0 1261.5,162.4 1261.8,163.3 1262.1,166.3 1262.4,167.9 1262.8,169.4 1263.1,172.6 1263.4,175.7 1263.8,177.1 1264.1,176.8 1264.4,176.0 1264.7,175.9 1265.1,175.4 1265.4,173.9 1265.7,172.5 1266.1,170.8 1266.4,169.3 1266.7,167.3 1267.0,165.0 1267.4,163.4 1267.7,162.4 1268.0,161.6 1268.4,161.7 1268.7,162.5 1269.0,162.9 1269.3,163.2 1269.7,164.8 1270.0,167.4 1270.3,170.6 1270.7,172.2 1271.0,171.1 1271.3,169.6 1271.6,169.0 1272.0,169.7 1272.3,170.3 1272.6,169.8 1273.0,168.6 1273.3,169.0 1273.6,169.9 1273.9,168.8 1274.3,168.9 1274.6,169.6 1274.9,170.2 1275.2,171.7 1275.6,172.6 1275.9,171.4 1276.2,168.3 1276.6,166.3 1276.9,165.3 1277.2,163.4 1277.5,162.3 1277.9,161.7 1278.2,161.3 1278.5,162.0 1278.9,163.3 1279.2,162.9 1279.5,161.7 1279.8,163.2 1280.2,165.6 1280.5,166.3 1280.8,164.7 1281.2,163.0 1281.5,163.3 1281.8,164.7 1282.1,167.6 1282.5,170.3 1282.8,170.8 1283.1,170.3 1283.5,169.3 1283.8,168.7 1284.1,168.5 1284.4,167.7 1284.8,166.6 1285.1,165.7 1285.4,165.2 1285.8,165.7 1286.1,164.9 1286.4,162.0 1286.7,159.8 1287.1,158.7 1287.4,158.4 1287.7,160.2 1288.0,163.7 1288.4,165.5 1288.7,164.9 1289.0,164.6 1289.4,165.4 1289.7,166.5 1290.0,167.1 1290.3,166.9 1290.7,167.2 1291.0,167.2 1291.3,166.6 1291.7,167.7 1292.0,167.7 1292.3,166.6 1292.6,165.5 1293.0,164.1 1293.3,165.2" fill="none" stroke="#ff0000" stroke-width="2.3" stroke-linejoin="round" stroke-linecap="round" clip-path="url(#cC)"/>
<polyline points="997.9,171.3 998.2,172.1 998.6,171.7 998.9,169.6 999.2,167.0 999.5,164.2 999.9,162.0 1000.2,160.7 1000.5,158.1 1000.9,157.8 1001.2,159.3 1001.5,160.8 1001.8,160.3 1002.2,160.5 1002.5,163.5 1002.8,167.0 1003.2,168.5 1003.5,169.2 1003.8,169.1 1004.1,165.9 1004.5,161.7 1004.8,160.1 1005.1,160.0 1005.4,159.8 1005.8,160.8 1006.1,163.7 1006.4,169.2 1006.8,178.7 1007.1,187.6 1007.4,192.8 1007.7,194.3 1008.1,193.1 1008.4,189.5 1008.7,184.4 1009.1,179.4 1009.4,175.5 1009.7,172.8 1010.0,171.9 1010.4,171.4 1010.7,171.8 1011.0,172.3 1011.4,173.8 1011.7,174.5 1012.0,173.4 1012.3,172.2 1012.7,169.5 1013.0,166.1 1013.3,163.7 1013.7,162.8 1014.0,163.2 1014.3,162.5 1014.6,161.0 1015.0,159.6 1015.3,157.9 1015.6,157.0 1016.0,158.2 1016.3,161.1 1016.6,164.3 1016.9,168.5 1017.3,172.1 1017.6,172.9 1017.9,172.3 1018.2,171.7 1018.6,170.4 1018.9,168.5 1019.2,167.1 1019.6,165.3 1019.9,162.3 1020.2,158.9 1020.5,155.5 1020.9,152.8 1021.2,151.6 1021.5,151.8 1021.9,152.0 1022.2,153.2 1022.5,156.7 1022.8,161.8 1023.2,165.1 1023.5,166.3 1023.8,166.9 1024.2,168.4 1024.5,171.2 1024.8,171.7 1025.1,169.1 1025.5,168.5 1025.8,170.2 1026.1,172.0 1026.5,172.8 1026.8,173.6 1027.1,175.3 1027.4,176.2 1027.8,176.1 1028.1,176.4 1028.4,176.8 1028.8,176.3 1029.1,175.9 1029.4,175.8 1029.7,175.0 1030.1,173.8 1030.4,173.2 1030.7,173.0 1031.1,173.2 1031.4,173.5 1031.7,174.1 1032.0,174.3 1032.4,174.0 1032.7,174.0 1033.0,174.5 1033.3,175.0 1033.7,174.3 1034.0,172.4 1034.3,170.8 1034.7,168.6 1035.0,167.9 1035.3,169.1 1035.6,169.8 1036.0,168.7 1036.3,167.8 1036.6,166.8 1037.0,166.1 1037.3,166.2 1037.6,167.4 1037.9,170.8 1038.3,174.5 1038.6,177.3 1038.9,179.8 1039.3,181.2 1039.6,181.0 1039.9,182.0 1040.2,185.1 1040.6,188.6 1040.9,191.6 1041.2,194.2 1041.6,196.0 1041.9,196.9 1042.2,197.2 1042.5,197.0 1042.9,196.4 1043.2,195.4 1043.5,194.4 1043.9,192.6 1044.2,189.2 1044.5,185.1 1044.8,182.4 1045.2,181.2 1045.5,180.1 1045.8,181.2 1046.1,184.1 1046.5,186.1 1046.8,186.6 1047.1,186.8 1047.5,186.2 1047.8,183.0 1048.1,178.6 1048.4,172.6 1048.8,164.5 1049.1,156.8 1049.4,150.6 1049.8,146.4 1050.1,143.9 1050.4,143.3 1050.7,143.3 1051.1,144.4 1051.4,147.4 1051.7,150.1 1052.1,152.4 1052.4,155.5 1052.7,157.0 1053.0,157.6 1053.4,159.4 1053.7,161.2 1054.0,160.2 1054.4,157.7 1054.7,156.5 1055.0,157.2 1055.3,158.3 1055.7,158.4 1056.0,158.7 1056.3,159.6 1056.7,160.2 1057.0,160.5 1057.3,161.6 1057.6,163.1 1058.0,163.9 1058.3,164.5 1058.6,165.9 1058.9,166.8 1059.3,166.1 1059.6,164.6 1059.9,162.5 1060.3,160.8 1060.6,158.7 1060.9,155.1 1061.2,152.7 1061.6,152.9 1061.9,155.7 1062.2,158.1 1062.6,158.7 1062.9,160.4 1063.2,164.1 1063.5,168.0 1063.9,169.7 1064.2,169.2 1064.5,168.5 1064.9,168.8 1065.2,168.8 1065.5,169.5 1065.8,168.8 1066.2,164.8 1066.5,160.8 1066.8,158.2 1067.2,156.4 1067.5,157.1 1067.8,157.5 1068.1,157.0 1068.5,157.4 1068.8,158.4 1069.1,160.5 1069.5,162.0 1069.8,162.0 1070.1,162.1 1070.4,163.7 1070.8,167.0 1071.1,171.1 1071.4,175.9 1071.8,179.8 1072.1,181.3 1072.4,181.0 1072.7,180.5 1073.1,177.9 1073.4,174.6 1073.7,172.4 1074.0,170.2 1074.4,167.7 1074.7,166.0 1075.0,165.3 1075.4,164.2 1075.7,163.0 1076.0,163.5 1076.3,165.1 1076.7,166.5 1077.0,167.6 1077.3,168.4 1077.7,169.1 1078.0,169.1 1078.3,170.2 1078.6,173.5 1079.0,175.1 1079.3,173.4 1079.6,171.7 1080.0,172.0 1080.3,172.7 1080.6,171.6 1080.9,170.4 1081.3,170.0 1081.6,169.8 1081.9,169.1 1082.3,167.8 1082.6,167.9 1082.9,167.3 1083.2,165.9 1083.6,164.8 1083.9,163.9 1084.2,164.9 1084.6,166.4 1084.9,168.2 1085.2,172.5 1085.5,177.1 1085.9,180.8 1086.2,184.6 1086.5,187.7 1086.8,187.5 1087.2,184.3 1087.5,181.6 1087.8,180.7 1088.2,180.5 1088.5,180.9 1088.8,179.7 1089.1,175.8 1089.5,170.3 1089.8,166.8 1090.1,165.5 1090.5,164.6 1090.8,163.9 1091.1,164.0 1091.4,166.1 1091.8,168.8 1092.1,170.9 1092.4,172.4 1092.8,174.2 1093.1,175.7 1093.4,174.6 1093.7,173.6 1094.1,173.4 1094.4,172.3 1094.7,169.6 1095.1,167.1 1095.4,167.2 1095.7,167.3 1096.0,166.1 1096.4,162.0 1096.7,157.5 1097.0,155.4 1097.4,155.1 1097.7,155.6 1098.0,157.2 1098.3,158.4 1098.7,161.2 1099.0,165.1 1099.3,165.9 1099.6,165.6 1100.0,166.8 1100.3,167.5 1100.6,167.0 1101.0,166.2 1101.3,166.0 1101.6,167.3 1101.9,169.3 1102.3,169.6 1102.6,169.2 1102.9,170.4 1103.3,172.0 1103.6,172.8 1103.9,174.1 1104.2,174.3 1104.6,172.6 1104.9,172.8 1105.2,174.4 1105.6,176.6 1105.9,178.4 1106.2,177.1 1106.5,173.0 1106.9,170.9 1107.2,171.3 1107.5,170.9 1107.9,169.4 1108.2,167.8 1108.5,166.1 1108.8,163.4 1109.2,161.1 1109.5,159.7 1109.8,159.8 1110.2,161.5 1110.5,163.2 1110.8,166.0 1111.1,168.8 1111.5,170.9 1111.8,172.5 1112.1,173.5 1112.4,173.9 1112.8,174.0 1113.1,173.9 1113.4,172.3 1113.8,169.8 1114.1,169.6 1114.4,171.5 1114.7,173.4 1115.1,174.0 1115.4,174.0 1115.7,174.5 1116.1,175.3 1116.4,177.9 1116.7,179.5 1117.0,179.5 1117.4,179.4 1117.7,177.6 1118.0,175.7 1118.4,175.7 1118.7,175.2 1119.0,172.8 1119.3,171.7 1119.7,173.1 1120.0,175.2 1120.3,178.2 1120.7,181.5 1121.0,183.8 1121.3,185.0 1121.6,186.1 1122.0,187.1 1122.3,187.5 1122.6,187.5 1123.0,187.4 1123.3,186.8 1123.6,185.3 1123.9,183.4 1124.3,181.5 1124.6,179.2 1124.9,175.9 1125.3,172.4 1125.6,171.4 1125.9,171.5 1126.2,172.3 1126.6,174.2 1126.9,175.1 1127.2,174.9 1127.5,175.1 1127.9,174.5 1128.2,172.5 1128.5,170.4 1128.9,169.4 1129.2,169.1 1129.5,168.3 1129.8,166.9 1130.2,166.0 1130.5,164.4 1130.8,164.3 1131.2,165.8 1131.5,166.4 1131.8,167.5 1132.1,168.9 1132.5,168.1 1132.8,167.1 1133.1,167.4 1133.5,168.4 1133.8,170.8 1134.1,171.6 1134.4,170.6 1134.8,170.8 1135.1,171.8 1135.4,173.4 1135.8,176.0 1136.1,178.4 1136.4,179.8 1136.7,181.3 1137.1,182.2 1137.4,181.8 1137.7,180.7 1138.1,179.2 1138.4,178.6 1138.7,178.9 1139.0,178.7 1139.4,177.8 1139.7,177.1 1140.0,179.4 1140.3,183.5 1140.7,184.8 1141.0,184.0 1141.3,184.5 1141.7,185.3 1142.0,185.1 1142.3,184.5 1142.6,182.1 1143.0,177.7 1143.3,174.5 1143.6,172.4 1144.0,169.5 1144.3,167.6 1144.6,167.2 1144.9,167.9 1145.3,168.2 1145.6,168.8 1145.9,169.8 1146.3,170.4 1146.6,170.7 1146.9,172.0 1147.2,173.4 1147.6,172.1 1147.9,170.0 1148.2,171.1 1148.6,172.3 1148.9,170.1 1149.2,168.2 1149.5,168.4 1149.9,167.6 1150.2,166.6 1150.5,165.8 1150.9,165.3 1151.2,165.8 1151.5,167.0 1151.8,168.4 1152.2,170.7 1152.5,173.7 1152.8,177.1 1153.1,180.2 1153.5,182.9 1153.8,184.8 1154.1,184.4 1154.5,181.2 1154.8,179.0 1155.1,180.1 1155.4,181.9 1155.8,181.9 1156.1,180.0 1156.4,176.8 1156.8,175.6 1157.1,174.3 1157.4,172.7 1157.7,172.1 1158.1,171.9 1158.4,170.0 1158.7,167.9 1159.1,167.7 1159.4,168.1 1159.7,168.0 1160.0,167.4 1160.4,166.6 1160.7,166.4 1161.0,167.2 1161.4,167.8 1161.7,166.9 1162.0,165.6 1162.3,165.5 1162.7,164.9 1163.0,165.3 1163.3,166.4 1163.7,168.9 1164.0,170.7 1164.3,168.5 1164.6,165.4 1165.0,162.8 1165.3,161.2 1165.6,162.7 1165.9,164.9 1166.3,165.3 1166.6,164.1 1166.9,162.0 1167.3,161.7 1167.6,160.9 1167.9,158.8 1168.2,157.9 1168.6,156.9 1168.9,156.2 1169.2,156.7 1169.6,156.4 1169.9,155.4 1170.2,154.8 1170.5,154.7 1170.9,154.7 1171.2,154.8 1171.5,155.1 1171.9,155.3 1172.2,155.1 1172.5,154.8 1172.8,154.5 1173.2,154.5 1173.5,154.7 1173.8,155.7 1174.2,157.0 1174.5,158.4 1174.8,160.0 1175.1,161.3 1175.5,162.9 1175.8,164.6 1176.1,166.4 1176.5,168.2 1176.8,168.7 1177.1,168.0 1177.4,166.7 1177.8,165.8 1178.1,165.1 1178.4,164.5 1178.8,164.3 1179.1,163.4 1179.4,162.0 1179.7,162.2 1180.1,165.0 1180.4,168.3 1180.7,169.8 1181.0,171.1 1181.4,173.4 1181.7,174.8 1182.0,173.7 1182.4,173.0 1182.7,173.0 1183.0,172.5 1183.3,170.5 1183.7,168.4 1184.0,167.2 1184.3,168.0 1184.7,168.8 1185.0,169.0 1185.3,169.4 1185.6,169.9 1186.0,168.6 1186.3,167.5 1186.6,169.1 1187.0,170.9 1187.3,171.3 1187.6,170.8 1187.9,170.9 1188.3,172.9 1188.6,176.0 1188.9,177.7 1189.3,177.1 1189.6,175.5 1189.9,176.1 1190.2,178.7 1190.6,181.2 1190.9,182.7 1191.2,182.4 1191.6,182.6 1191.9,181.5 1192.2,179.2 1192.5,177.3 1192.9,176.3 1193.2,175.9 1193.5,173.8 1193.8,171.5 1194.2,171.1 1194.5,169.8 1194.8,167.5 1195.2,167.5 1195.5,168.8 1195.8,169.0 1196.1,168.5 1196.5,168.8 1196.8,169.1 1197.1,169.3 1197.5,169.9 1197.8,171.6 1198.1,172.4 1198.4,173.3 1198.8,174.6 1199.1,174.2 1199.4,173.1 1199.8,173.8 1200.1,174.3 1200.4,173.1 1200.7,172.9 1201.1,174.0 1201.4,173.6 1201.7,173.3 1202.1,175.7 1202.4,177.0 1202.7,177.0 1203.0,177.1 1203.4,176.9 1203.7,175.8 1204.0,175.2 1204.4,175.1 1204.7,175.2 1205.0,174.7 1205.3,173.8 1205.7,173.0 1206.0,174.4 1206.3,177.6 1206.6,180.1 1207.0,179.2 1207.3,175.9 1207.6,173.2 1208.0,173.5 1208.3,173.1 1208.6,169.8 1208.9,165.6 1209.3,164.5 1209.6,166.1 1209.9,167.4 1210.3,167.7 1210.6,168.3 1210.9,169.6 1211.2,168.8 1211.6,166.1 1211.9,163.1 1212.2,161.7 1212.6,163.6 1212.9,165.1 1213.2,166.3 1213.5,166.3 1213.9,165.1 1214.2,165.6 1214.5,166.1 1214.9,166.1 1215.2,166.8 1215.5,167.4 1215.8,168.4 1216.2,169.6 1216.5,169.3 1216.8,169.3 1217.2,171.0 1217.5,171.4 1217.8,169.3 1218.1,169.1 1218.5,172.2 1218.8,173.8 1219.1,174.1 1219.5,174.8 1219.8,175.7 1220.1,175.9 1220.4,175.6 1220.8,174.6 1221.1,173.8 1221.4,172.9 1221.7,171.6 1222.1,170.6 1222.4,170.8 1222.7,174.3 1223.1,178.2 1223.4,179.1 1223.7,179.4 1224.0,179.6 1224.4,177.9 1224.7,176.5 1225.0,175.3 1225.4,173.5 1225.7,171.7 1226.0,170.1 1226.3,168.9 1226.7,168.8 1227.0,169.8 1227.3,171.4 1227.7,173.1 1228.0,172.4 1228.3,170.5 1228.6,169.6 1229.0,168.2 1229.3,166.9 1229.6,165.0 1230.0,162.0 1230.3,159.2 1230.6,158.9 1230.9,160.3 1231.3,160.4 1231.6,160.4 1231.9,160.3 1232.3,159.9 1232.6,160.6 1232.9,163.3 1233.2,164.9 1233.6,164.1 1233.9,163.8 1234.2,165.7 1234.5,168.8 1234.9,171.6 1235.2,173.3 1235.5,176.1 1235.9,177.6 1236.2,175.8 1236.5,173.3 1236.8,171.8 1237.2,171.2 1237.5,170.5 1237.8,168.3 1238.2,166.8 1238.5,166.4 1238.8,166.2 1239.1,167.6 1239.5,170.9 1239.8,173.1 1240.1,173.3 1240.5,173.1 1240.8,171.8 1241.1,169.2 1241.4,167.7 1241.8,167.5 1242.1,167.3 1242.4,166.8 1242.8,168.7 1243.1,170.9 1243.4,171.0 1243.7,169.2 1244.1,166.2 1244.4,164.6 1244.7,165.0 1245.1,165.9 1245.4,167.8 1245.7,170.2 1246.0,172.0 1246.4,174.2 1246.7,175.8 1247.0,176.3 1247.3,177.5 1247.7,178.1 1248.0,176.8 1248.3,175.0 1248.7,173.5 1249.0,172.0 1249.3,170.6 1249.6,168.8 1250.0,167.4 1250.3,169.1 1250.6,170.1 1251.0,168.5 1251.3,166.5 1251.6,166.4 1251.9,168.1 1252.3,168.9 1252.6,167.1 1252.9,164.9 1253.3,165.8 1253.6,167.4 1253.9,168.4 1254.2,169.0 1254.6,169.0 1254.9,168.8 1255.2,168.2 1255.6,167.8 1255.9,167.2 1256.2,167.7 1256.5,167.7 1256.9,165.9 1257.2,165.8 1257.5,166.8 1257.9,166.1 1258.2,164.1 1258.5,162.5 1258.8,163.6 1259.2,164.9 1259.5,166.6 1259.8,169.1 1260.1,169.7 1260.5,170.6 1260.8,173.2 1261.1,175.2 1261.5,174.5 1261.8,173.6 1262.1,174.3 1262.4,174.3 1262.8,173.9 1263.1,173.7 1263.4,174.0 1263.8,175.6 1264.1,177.0 1264.4,176.4 1264.7,175.4 1265.1,175.7 1265.4,176.1 1265.7,175.9 1266.1,176.0 1266.4,176.6 1266.7,175.8 1267.0,175.1 1267.4,173.8 1267.7,170.7 1268.0,167.7 1268.4,165.9 1268.7,164.6 1269.0,162.4 1269.3,161.6 1269.7,162.4 1270.0,162.9 1270.3,165.9 1270.7,170.2 1271.0,173.7 1271.3,175.9 1271.6,176.7 1272.0,176.6 1272.3,176.8 1272.6,176.7 1273.0,176.4 1273.3,177.7 1273.6,179.9 1273.9,178.4 1274.3,175.0 1274.6,172.7 1274.9,171.7 1275.2,170.7 1275.6,168.8 1275.9,166.4 1276.2,164.9 1276.6,163.3 1276.9,162.4 1277.2,163.9 1277.5,164.6 1277.9,162.6 1278.2,160.9 1278.5,161.2 1278.9,161.9 1279.2,162.0 1279.5,161.1 1279.8,160.6 1280.2,161.5 1280.5,161.7 1280.8,161.3 1281.2,160.6 1281.5,159.6 1281.8,160.7 1282.1,162.7 1282.5,164.0 1282.8,164.9 1283.1,165.2 1283.5,164.6 1283.8,165.2 1284.1,165.9 1284.4,165.0 1284.8,165.3 1285.1,165.0 1285.4,164.4 1285.8,163.5 1286.1,160.7 1286.4,157.3 1286.7,155.5 1287.1,155.3 1287.4,157.2 1287.7,161.1 1288.0,165.0 1288.4,169.7 1288.7,174.8 1289.0,179.4 1289.4,181.8 1289.7,181.4 1290.0,180.1 1290.3,177.2 1290.7,173.5 1291.0,170.9 1291.3,170.6 1291.7,171.2 1292.0,170.3 1292.3,169.5 1292.6,168.6 1293.0,165.3 1293.3,165.0" fill="none" stroke="#0070c0" stroke-width="2.3" stroke-linejoin="round" stroke-linecap="round" clip-path="url(#cC)"/>
<path d="M997.9 121.9V218.5M989.1 218.5H1293.3M989.1 121.9H997.9M989.1 169.8H997.9M989.1 218.5H997.9M997.9 218.5V227.3M1096.37 218.5V227.3M1194.83 218.5V227.3M1293.3 218.5V227.3" stroke="#000" stroke-width="1.7" fill="none"/>
<text x="958.35" y="129.93" font-size="25" textLength="13.56" lengthAdjust="spacingAndGlyphs">3</text>
<text x="958.23" y="177.83" font-size="25" textLength="13.56" lengthAdjust="spacingAndGlyphs">0</text>
<text x="950.18" y="226.53" font-size="25" textLength="21.67" lengthAdjust="spacingAndGlyphs">-3</text>
<text x="991.07" y="262.8" font-size="25" textLength="13.56" lengthAdjust="spacingAndGlyphs">0</text>
<text x="1082.78" y="262.8" font-size="25" textLength="27.11" lengthAdjust="spacingAndGlyphs">30</text>
<text x="1181.12" y="262.8" font-size="25" textLength="27.11" lengthAdjust="spacingAndGlyphs">60</text>
<text x="1279.65" y="262.8" font-size="25" textLength="27.11" lengthAdjust="spacingAndGlyphs">90</text>
<polyline points="105.5,758.7 105.8,758.1 106.2,758.6 106.5,759.0 106.8,759.3 107.1,760.6 107.5,763.4 107.8,766.2 108.1,768.6 108.5,770.7 108.8,772.6 109.1,773.4 109.5,774.0 109.8,775.4 110.1,775.9 110.4,774.6 110.8,774.6 111.1,774.0 111.4,773.2 111.8,773.1 112.1,772.1 112.4,769.9 112.7,767.6 113.1,766.4 113.4,766.2 113.7,765.9 114.1,763.8 114.4,761.2 114.7,760.2 115.1,760.1 115.4,760.8 115.7,760.5 116.0,758.4 116.4,758.0 116.7,758.2 117.0,757.6 117.4,757.3 117.7,757.5 118.0,757.8 118.3,758.4 118.7,759.0 119.0,759.5 119.3,760.7 119.7,761.3 120.0,762.6 120.3,764.2 120.7,763.3 121.0,763.4 121.3,765.2 121.6,765.9 122.0,766.1 122.3,765.5 122.6,764.6 123.0,764.4 123.3,763.4 123.6,763.2 123.9,762.1 124.3,759.9 124.6,760.1 124.9,759.2 125.3,759.5 125.6,760.6 125.9,759.2 126.3,756.6 126.6,755.3 126.9,756.9 127.2,759.4 127.6,759.5 127.9,758.7 128.2,757.6 128.6,756.2 128.9,753.7 129.2,751.9 129.5,751.4 129.9,750.3 130.2,749.6 130.5,749.5 130.9,749.6 131.2,750.5 131.5,752.5 131.9,752.9 132.2,753.9 132.5,755.9 132.8,756.7 133.2,757.1 133.5,759.0 133.8,760.9 134.2,761.2 134.5,760.2 134.8,759.3 135.2,759.2 135.5,758.7 135.8,758.4 136.1,758.7 136.5,758.5 136.8,758.4 137.1,758.5 137.5,757.4 137.8,756.3 138.1,756.6 138.4,756.5 138.8,756.4 139.1,757.2 139.4,758.1 139.8,758.7 140.1,759.1 140.4,757.8 140.8,756.4 141.1,756.7 141.4,757.9 141.7,759.2 142.1,759.1 142.4,759.2 142.7,759.3 143.1,759.6 143.4,758.7 143.7,756.5 144.0,756.4 144.4,757.8 144.7,757.9 145.0,758.2 145.4,759.8 145.7,759.3 146.0,757.3 146.4,757.3 146.7,758.5 147.0,759.7 147.3,760.0 147.7,759.0 148.0,758.4 148.3,759.3 148.7,758.9 149.0,756.7 149.3,756.6 149.6,756.7 150.0,757.8 150.3,758.5 150.6,757.5 151.0,756.1 151.3,755.4 151.6,756.0 152.0,756.5 152.3,757.0 152.6,757.5 152.9,759.4 153.3,760.6 153.6,760.2 153.9,759.5 154.3,759.5 154.6,761.1 154.9,761.6 155.2,761.2 155.6,760.7 155.9,759.2 156.2,758.9 156.6,760.2 156.9,759.0 157.2,757.0 157.6,757.9 157.9,759.1 158.2,758.4 158.5,757.4 158.9,756.7 159.2,755.4 159.5,756.9 159.9,758.7 160.2,759.1 160.5,759.3 160.8,758.6 161.2,758.4 161.5,757.1 161.8,756.3 162.2,757.4 162.5,758.9 162.8,760.7 163.2,760.8 163.5,758.9 163.8,757.6 164.1,756.0 164.5,754.9 164.8,755.7 165.1,756.4 165.5,756.5 165.8,757.0 166.1,757.7 166.4,758.8 166.8,758.3 167.1,757.0 167.4,757.7 167.8,759.4 168.1,759.6 168.4,759.2 168.8,759.6 169.1,760.3 169.4,758.8 169.7,757.8 170.1,757.7 170.4,757.4 170.7,758.6 171.1,759.0 171.4,759.9 171.7,761.6 172.0,760.8 172.4,760.5 172.7,761.2 173.0,761.8 173.4,760.5 173.7,758.7 174.0,758.4 174.4,758.9 174.7,759.6 175.0,761.7 175.3,762.8 175.7,760.6 176.0,759.1 176.3,759.1 176.7,757.8 177.0,757.5 177.3,757.8 177.6,757.2 178.0,758.1 178.3,759.4 178.6,758.6 179.0,756.5 179.3,756.0 179.6,757.3 180.0,757.2 180.3,756.6 180.6,757.7 180.9,758.0 181.3,757.1 181.6,757.0 181.9,757.4 182.3,757.8 182.6,758.6 182.9,759.0 183.2,760.4 183.6,761.1 183.9,760.2 184.2,759.4 184.6,756.6 184.9,753.0 185.2,753.2 185.6,754.3 185.9,754.1 186.2,754.0 186.5,753.3 186.9,753.1 187.2,754.8 187.5,757.4 187.9,759.8 188.2,760.3 188.5,759.3 188.8,758.3 189.2,758.1 189.5,758.4 189.8,757.7 190.2,756.3 190.5,757.1 190.8,758.9 191.2,759.2 191.5,758.8 191.8,759.3 192.1,760.6 192.5,761.7 192.8,762.0 193.1,762.5 193.5,763.1 193.8,763.6 194.1,765.2 194.4,766.1 194.8,764.5 195.1,764.9 195.4,767.0 195.8,767.2 196.1,767.9 196.4,769.1 196.8,768.7 197.1,767.0 197.4,767.7 197.7,770.6 198.1,770.8 198.4,769.3 198.7,768.3 199.1,768.4 199.4,769.4 199.7,768.9 200.1,767.0 200.4,766.3 200.7,765.9 201.0,764.9 201.4,764.4 201.7,764.9 202.0,764.6 202.4,762.9 202.7,760.9 203.0,761.0 203.3,760.7 203.7,757.5 204.0,754.4 204.3,755.3 204.7,756.9 205.0,757.2 205.3,758.0 205.7,759.0 206.0,760.0 206.3,760.2 206.6,760.5 207.0,761.1 207.3,760.8 207.6,760.4 208.0,759.2 208.3,758.8 208.6,758.6 208.9,758.3 209.3,757.8 209.6,756.2 209.9,756.5 210.3,757.5 210.6,757.9 210.9,758.6 211.3,758.1 211.6,756.8 211.9,755.6 212.2,756.2 212.6,757.6 212.9,758.1 213.2,758.0 213.6,757.2 213.9,757.0 214.2,756.9 214.5,755.2 214.9,753.8 215.2,754.1 215.5,754.0 215.9,753.1 216.2,753.4 216.5,754.1 216.9,755.6 217.2,756.3 217.5,756.3 217.8,756.6 218.2,757.8 218.5,759.3 218.8,760.7 219.2,759.8 219.5,758.0 219.8,757.1 220.1,756.3 220.5,757.3 220.8,759.9 221.1,760.1 221.5,758.1 221.8,757.4 222.1,757.3 222.5,757.3 222.8,756.5 223.1,757.0 223.4,758.2 223.8,758.3 224.1,758.6 224.4,759.5 224.8,761.2 225.1,761.6 225.4,762.1 225.7,762.3 226.1,761.6 226.4,761.1 226.7,760.6 227.1,760.1 227.4,760.6 227.7,761.8 228.1,762.6 228.4,763.1 228.7,763.3 229.0,762.5 229.4,761.3 229.7,761.0 230.0,759.9 230.4,757.5 230.7,757.0 231.0,758.6 231.3,759.1 231.7,758.6 232.0,758.2 232.3,758.5 232.7,759.6 233.0,758.7 233.3,758.2 233.7,758.3 234.0,759.0 234.3,759.1 234.6,759.6 235.0,760.0 235.3,759.4 235.6,758.1 236.0,757.6 236.3,758.8 236.6,758.4 236.9,758.1 237.3,759.8 237.6,759.4 237.9,758.3 238.3,759.0 238.6,759.6 238.9,758.2 239.3,757.5 239.6,758.0 239.9,758.8 240.2,759.0 240.6,759.0 240.9,758.9 241.2,757.7 241.6,756.7 241.9,757.2 242.2,758.1 242.5,758.0 242.9,756.6 243.2,756.2 243.5,757.1 243.9,758.1 244.2,758.4 244.5,759.3 244.9,760.2 245.2,760.2 245.5,759.4 245.8,759.4 246.2,758.9 246.5,757.8 246.8,757.2 247.2,756.9 247.5,756.7 247.8,756.2 248.1,755.5 248.5,754.8 248.8,754.8 249.1,755.1 249.5,755.1 249.8,755.2 250.1,755.1 250.5,754.3 250.8,753.9 251.1,752.4 251.4,750.7 251.8,749.3 252.1,749.0 252.4,747.0 252.8,744.3 253.1,744.7 253.4,745.4 253.8,745.6 254.1,744.5 254.4,743.9 254.7,744.5 255.1,744.8 255.4,745.9 255.7,748.7 256.1,750.9 256.4,753.5 256.7,755.1 257.0,755.9 257.4,756.9 257.7,756.9 258.0,756.7 258.4,757.7 258.7,759.0 259.0,759.7 259.4,759.9 259.7,759.8 260.0,760.2 260.3,760.6 260.7,760.4 261.0,759.6 261.3,760.3 261.7,761.3 262.0,760.4 262.3,758.7 262.6,757.6 263.0,756.9 263.3,756.1 263.6,756.8 264.0,757.4 264.3,757.4 264.6,758.2 265.0,760.2 265.3,761.2 265.6,760.4 265.9,759.5 266.3,759.1 266.6,760.6 266.9,761.1 267.3,760.6 267.6,761.5 267.9,763.2 268.2,763.1 268.6,762.0 268.9,762.7 269.2,763.6 269.6,762.6 269.9,762.0 270.2,762.2 270.6,761.0 270.9,759.0 271.2,760.0 271.5,760.8 271.9,760.7 272.2,760.7 272.5,760.2 272.9,759.6 273.2,760.0 273.5,760.4 273.8,760.4 274.2,760.2 274.5,760.5 274.8,762.6 275.2,764.6 275.5,765.4 275.8,765.4 276.2,765.7 276.5,765.3 276.8,765.5 277.1,765.9 277.5,766.9 277.8,765.7 278.1,763.3 278.5,763.2 278.8,764.2 279.1,764.4 279.4,763.5 279.8,762.3 280.1,762.4 280.4,762.6 280.8,762.4 281.1,761.8 281.4,761.0 281.8,761.1 282.1,763.1 282.4,762.6 282.7,760.5 283.1,759.4 283.4,758.4 283.7,758.2 284.1,758.2 284.4,757.6 284.7,758.3 285.0,759.0 285.4,758.8 285.7,758.5 286.0,758.7 286.4,759.2 286.7,758.3 287.0,756.8 287.4,756.4 287.7,756.6 288.0,756.0 288.3,754.4 288.7,753.9 289.0,756.5 289.3,758.1 289.7,757.1 290.0,756.6 290.3,757.7 290.6,759.1 291.0,759.9 291.3,760.1 291.6,760.5 292.0,760.5 292.3,761.2 292.6,761.1 293.0,759.8 293.3,759.5 293.6,759.4 293.9,759.8 294.3,759.0 294.6,758.0 294.9,759.2 295.3,761.0 295.6,760.2 295.9,758.9 296.2,759.3 296.6,759.6 296.9,759.7 297.2,760.0 297.6,760.3 297.9,759.6 298.2,758.9 298.6,758.9 298.9,760.3 299.2,760.8 299.5,759.9 299.9,758.9 300.2,758.6 300.5,758.8 300.9,758.2 301.2,758.3 301.5,758.6 301.8,758.3 302.2,757.6 302.5,756.6 302.8,756.4 303.2,756.3 303.5,756.2 303.8,755.8 304.2,755.1 304.5,754.3 304.8,754.2 305.1,753.7 305.5,752.2 305.8,751.2 306.1,751.5 306.5,752.1 306.8,752.3 307.1,752.9 307.4,753.4 307.8,753.2 308.1,752.6 308.4,753.0 308.8,752.7 309.1,751.3 309.4,749.7 309.8,748.9 310.1,749.7 310.4,749.7 310.7,750.1 311.1,751.0 311.4,752.3 311.7,753.0 312.1,753.9 312.4,754.9 312.7,754.2 313.0,752.1 313.4,751.3 313.7,752.5 314.0,753.5 314.4,752.5 314.7,752.6 315.0,753.9 315.4,755.6 315.7,756.7 316.0,757.4 316.3,758.6 316.7,760.6 317.0,760.8 317.3,759.8 317.7,760.7 318.0,760.4 318.3,759.3 318.7,758.7 319.0,757.3 319.3,755.8 319.6,755.9 320.0,757.9 320.3,758.1 320.6,756.6 321.0,757.4 321.3,758.2 321.6,758.8 321.9,758.5 322.3,758.6 322.6,758.5 322.9,757.5 323.3,756.9 323.6,755.4 323.9,755.3 324.3,757.3 324.6,758.7 324.9,760.0 325.2,760.7 325.6,761.1 325.9,761.1 326.2,760.4 326.6,759.4 326.9,759.4 327.2,760.4 327.5,760.6 327.9,760.6 328.2,760.0 328.5,758.9 328.9,759.5 329.2,760.2 329.5,759.2 329.9,757.2 330.2,756.6 330.5,757.3 330.8,757.0 331.2,756.7 331.5,757.0 331.8,757.1 332.2,758.0 332.5,759.7 332.8,760.8 333.1,761.0 333.5,760.8 333.8,759.8 334.1,759.6 334.5,759.1 334.8,757.8 335.1,756.8 335.5,756.9 335.8,758.0 336.1,759.1 336.4,758.5 336.8,759.3 337.1,759.7 337.4,759.5 337.8,760.4 338.1,760.5 338.4,759.4 338.7,758.3 339.1,758.7 339.4,759.4 339.7,760.0 340.1,760.7 340.4,760.7 340.7,760.2 341.1,758.6 341.4,758.1 341.7,759.8 342.0,759.8 342.4,759.5 342.7,759.6 343.0,760.2 343.4,760.9 343.7,760.7 344.0,760.3 344.3,759.5 344.7,759.5 345.0,760.1 345.3,760.9 345.7,760.6 346.0,759.8 346.3,760.4 346.7,761.1 347.0,760.5 347.3,760.5 347.6,761.1 348.0,761.7 348.3,762.3 348.6,761.6 349.0,760.6 349.3,760.9 349.6,761.2 349.9,759.9 350.3,757.9 350.6,757.4 350.9,757.5 351.3,757.5 351.6,757.6 351.9,756.9 352.3,757.6 352.6,759.3 352.9,760.3 353.2,759.1 353.6,758.8 353.9,760.0 354.2,761.7 354.6,762.3 354.9,760.9 355.2,759.3 355.5,759.9 355.9,761.9 356.2,761.6 356.5,760.9 356.9,760.0 357.2,759.4 357.5,760.0 357.9,761.3 358.2,762.1 358.5,762.1 358.8,762.1 359.2,761.9 359.5,760.1 359.8,759.5 360.2,760.0 360.5,759.9 360.8,760.8 361.1,761.1 361.5,760.0 361.8,759.7 362.1,760.4 362.5,760.5 362.8,759.0 363.1,757.9 363.5,757.9 363.8,757.7 364.1,757.2 364.4,756.5 364.8,756.3 365.1,756.4 365.4,754.9 365.8,753.8 366.1,754.5 366.4,756.3 366.7,757.8 367.1,758.3 367.4,759.4 367.7,760.5 368.1,761.8 368.4,762.7 368.7,761.6 369.1,760.0 369.4,759.7 369.7,759.7 370.0,758.9 370.4,758.4 370.7,758.2 371.0,758.5 371.4,758.9 371.7,759.9 372.0,760.7 372.3,761.3 372.7,762.3 373.0,762.5 373.3,761.6 373.7,760.5 374.0,760.0 374.3,759.7 374.7,760.9 375.0,762.7 375.3,761.7 375.6,760.0 376.0,759.8 376.3,761.1 376.6,761.4 377.0,760.7 377.3,759.0 377.6,757.0 378.0,757.5 378.3,760.1 378.6,759.4 378.9,758.8 379.3,759.2 379.6,757.4 379.9,757.0 380.3,758.2 380.6,758.6 380.9,756.5 381.2,755.9 381.6,757.0 381.9,758.0 382.2,760.2 382.6,761.7 382.9,761.2 383.2,760.7 383.6,762.1 383.9,763.0 384.2,763.1 384.5,763.5 384.9,762.3 385.2,760.8 385.5,759.3 385.9,758.5 386.2,758.7 386.5,759.4 386.8,759.7 387.2,759.5 387.5,759.8 387.8,759.8 388.2,760.0 388.5,759.8 388.8,760.5 389.2,758.5 389.5,756.6 389.8,758.1 390.1,757.9 390.5,756.7 390.8,756.6 391.1,757.3 391.5,758.5 391.8,760.1 392.1,760.2 392.4,759.2 392.8,758.9 393.1,758.2 393.4,756.9 393.8,756.1 394.1,756.7 394.4,757.4 394.8,757.7 395.1,758.2 395.4,758.8 395.7,758.9 396.1,759.5 396.4,758.8 396.7,756.1 397.1,754.9 397.4,754.8 397.7,755.5 398.0,757.6 398.4,758.9 398.7,758.4 399.0,757.8 399.4,758.1 399.7,758.3 400.0,757.9 400.4,758.1 400.7,758.4 401.0,758.6 401.3,757.4 401.7,756.6 402.0,758.0" fill="none" stroke="#ff0000" stroke-width="2.3" stroke-linejoin="round" stroke-linecap="round" clip-path="url(#cG)"/>
<polyline points="105.5,763.4 105.8,765.5 106.2,764.7 106.5,762.9 106.8,762.0 107.1,762.1 107.5,761.9 107.8,761.4 108.1,761.7 108.5,761.6 108.8,760.5 109.1,760.6 109.5,761.3 109.8,759.7 110.1,758.4 110.4,758.6 110.8,759.4 111.1,760.2 111.4,760.5 111.8,760.1 112.1,758.6 112.4,757.4 112.7,759.1 113.1,761.9 113.4,760.8 113.7,758.0 114.1,758.2 114.4,759.4 114.7,759.8 115.1,762.0 115.4,762.7 115.7,762.4 116.0,764.2 116.4,765.5 116.7,766.1 117.0,765.3 117.4,764.2 117.7,764.0 118.0,763.3 118.3,762.2 118.7,762.7 119.0,762.6 119.3,760.2 119.7,754.9 120.0,749.3 120.3,747.8 120.7,746.5 121.0,744.0 121.3,742.0 121.6,740.9 122.0,740.7 122.3,739.6 122.6,741.0 123.0,741.1 123.3,740.3 123.6,741.8 123.9,741.0 124.3,739.0 124.6,738.6 124.9,736.3 125.3,732.6 125.6,731.4 125.9,730.9 126.3,729.8 126.6,732.6 126.9,735.4 127.2,736.4 127.6,738.2 127.9,739.0 128.2,738.6 128.6,736.9 128.9,734.4 129.2,732.3 129.5,730.7 129.9,731.0 130.2,730.4 130.5,729.9 130.9,732.1 131.2,735.6 131.5,738.8 131.9,742.7 132.2,746.2 132.5,750.8 132.8,754.5 133.2,754.7 133.5,756.0 133.8,757.1 134.2,755.4 134.5,753.9 134.8,752.3 135.2,750.0 135.5,747.8 135.8,747.3 136.1,745.8 136.5,742.5 136.8,740.5 137.1,741.4 137.5,743.5 137.8,745.1 138.1,745.5 138.4,746.8 138.8,749.5 139.1,752.0 139.4,753.3 139.8,754.2 140.1,755.1 140.4,756.7 140.8,758.3 141.1,759.4 141.4,760.6 141.7,762.0 142.1,763.6 142.4,763.8 142.7,764.2 143.1,762.9 143.4,763.1 143.7,764.3 144.0,763.2 144.4,761.9 144.7,761.8 145.0,761.4 145.4,761.7 145.7,764.3 146.0,766.1 146.4,766.6 146.7,766.6 147.0,763.9 147.3,762.8 147.7,763.6 148.0,766.3 148.3,770.1 148.7,771.7 149.0,772.6 149.3,775.8 149.6,777.5 150.0,774.9 150.3,772.7 150.6,770.3 151.0,768.1 151.3,765.1 151.6,762.8 152.0,762.9 152.3,764.5 152.6,766.1 152.9,766.2 153.3,765.5 153.6,766.0 153.9,767.1 154.3,766.7 154.6,766.3 154.9,768.4 155.2,770.6 155.6,769.8 155.9,767.4 156.2,765.3 156.6,765.3 156.9,764.8 157.2,763.7 157.6,762.9 157.9,761.8 158.2,763.5 158.5,768.4 158.9,768.8 159.2,765.7 159.5,765.7 159.9,768.1 160.2,767.4 160.5,765.4 160.8,764.9 161.2,764.3 161.5,763.2 161.8,760.9 162.2,757.9 162.5,754.5 162.8,755.1 163.2,759.5 163.5,763.6 163.8,766.1 164.1,766.8 164.5,767.8 164.8,769.8 165.1,772.3 165.5,772.0 165.8,769.0 166.1,767.9 166.4,767.7 166.8,765.7 167.1,764.8 167.4,764.5 167.8,762.7 168.1,762.2 168.4,762.5 168.8,761.3 169.1,762.0 169.4,762.9 169.7,763.6 170.1,764.8 170.4,765.8 170.7,765.5 171.1,764.8 171.4,766.1 171.7,766.7 172.0,767.6 172.4,768.3 172.7,767.5 173.0,767.7 173.4,767.8 173.7,764.5 174.0,763.3 174.4,765.7 174.7,765.0 175.0,762.2 175.3,759.6 175.7,758.4 176.0,758.7 176.3,759.3 176.7,760.8 177.0,762.0 177.3,761.7 177.6,760.0 178.0,758.1 178.3,758.8 178.6,760.8 179.0,760.9 179.3,760.4 179.6,758.4 180.0,756.8 180.3,758.4 180.6,761.2 180.9,762.5 181.3,763.7 181.6,764.6 181.9,765.8 182.3,767.1 182.6,770.0 182.9,770.4 183.2,768.9 183.6,767.3 183.9,766.5 184.2,764.9 184.6,762.5 184.9,760.8 185.2,762.4 185.6,764.0 185.9,762.7 186.2,762.5 186.5,763.4 186.9,763.0 187.2,761.9 187.5,762.1 187.9,764.9 188.2,765.7 188.5,763.3 188.8,761.7 189.2,762.5 189.5,764.3 189.8,766.8 190.2,766.4 190.5,762.8 190.8,762.0 191.2,761.5 191.5,760.3 191.8,757.2 192.1,755.2 192.5,756.4 192.8,757.1 193.1,758.1 193.5,761.9 193.8,763.7 194.1,764.7 194.4,763.3 194.8,759.8 195.1,761.7 195.4,764.9 195.8,764.1 196.1,760.9 196.4,758.5 196.8,758.5 197.1,761.1 197.4,761.3 197.7,760.2 198.1,762.4 198.4,764.1 198.7,763.0 199.1,762.6 199.4,766.8 199.7,768.3 200.1,764.4 200.4,760.6 200.7,759.1 201.0,759.4 201.4,761.8 201.7,763.2 202.0,764.1 202.4,764.4 202.7,765.6 203.0,766.4 203.3,765.9 203.7,763.7 204.0,760.5 204.3,759.0 204.7,757.3 205.0,757.2 205.3,758.1 205.7,759.0 206.0,759.9 206.3,760.6 206.6,761.2 207.0,761.7 207.3,763.4 207.6,763.3 208.0,761.2 208.3,760.0 208.6,760.3 208.9,759.4 209.3,760.4 209.6,760.2 209.9,757.9 210.3,757.6 210.6,756.6 210.9,754.3 211.3,753.7 211.6,753.2 211.9,752.4 212.2,750.7 212.6,747.9 212.9,746.0 213.2,745.1 213.6,743.2 213.9,742.1 214.2,742.2 214.5,742.6 214.9,743.1 215.2,744.2 215.5,745.7 215.9,746.2 216.2,746.9 216.5,747.7 216.9,747.5 217.2,748.2 217.5,750.0 217.8,752.0 218.2,752.5 218.5,751.2 218.8,752.4 219.2,754.5 219.5,753.8 219.8,752.2 220.1,753.2 220.5,757.7 220.8,760.7 221.1,760.5 221.5,761.4 221.8,761.1 222.1,761.3 222.5,763.1 222.8,763.0 223.1,761.9 223.4,761.3 223.8,759.9 224.1,758.2 224.4,759.2 224.8,759.7 225.1,759.2 225.4,760.2 225.7,761.5 226.1,762.9 226.4,762.4 226.7,761.7 227.1,761.5 227.4,760.7 227.7,760.9 228.1,761.6 228.4,761.1 228.7,760.1 229.0,758.9 229.4,757.2 229.7,758.1 230.0,760.9 230.4,760.4 230.7,757.6 231.0,758.4 231.3,760.8 231.7,760.2 232.0,759.4 232.3,759.0 232.7,758.1 233.0,760.1 233.3,760.8 233.7,759.0 234.0,758.9 234.3,757.9 234.6,758.0 235.0,759.1 235.3,759.8 235.6,760.1 236.0,761.0 236.3,762.4 236.6,764.3 236.9,765.1 237.3,765.2 237.6,764.9 237.9,765.7 238.3,766.7 238.6,765.6 238.9,763.1 239.3,762.4 239.6,762.4 239.9,763.5 240.2,765.9 240.6,765.3 240.9,764.2 241.2,766.1 241.6,766.4 241.9,765.2 242.2,765.8 242.5,765.6 242.9,764.5 243.2,764.5 243.5,763.9 243.9,761.6 244.2,762.2 244.5,761.7 244.9,760.0 245.2,759.7 245.5,760.7 245.8,760.5 246.2,760.2 246.5,759.1 246.8,756.5 247.2,755.0 247.5,754.0 247.8,755.2 248.1,757.7 248.5,757.9 248.8,760.7 249.1,762.6 249.5,762.7 249.8,762.3 250.1,763.1 250.5,764.2 250.8,765.5 251.1,766.5 251.4,766.6 251.8,767.4 252.1,767.5 252.4,765.9 252.8,766.6 253.1,766.2 253.4,764.7 253.8,764.5 254.1,763.9 254.4,763.6 254.7,764.8 255.1,766.0 255.4,765.8 255.7,765.1 256.1,765.3 256.4,766.1 256.7,765.7 257.0,763.1 257.4,761.0 257.7,759.5 258.0,758.8 258.4,758.8 258.7,760.6 259.0,762.6 259.4,762.3 259.7,761.9 260.0,762.9 260.3,763.7 260.7,764.5 261.0,765.1 261.3,762.4 261.7,761.3 262.0,764.3 262.3,766.8 262.6,765.6 263.0,763.4 263.3,764.1 263.6,764.7 264.0,763.9 264.3,764.7 264.6,766.7 265.0,768.4 265.3,768.8 265.6,767.0 265.9,765.6 266.3,765.3 266.6,763.8 266.9,761.8 267.3,760.3 267.6,758.6 267.9,759.3 268.2,762.3 268.6,761.5 268.9,759.6 269.2,758.9 269.6,758.8 269.9,760.6 270.2,763.5 270.6,764.5 270.9,764.5 271.2,765.6 271.5,766.0 271.9,763.8 272.2,761.1 272.5,760.9 272.9,762.3 273.2,762.6 273.5,762.1 273.8,762.3 274.2,764.6 274.5,767.7 274.8,768.6 275.2,767.7 275.5,766.2 275.8,766.5 276.2,767.8 276.5,767.3 276.8,766.9 277.1,767.2 277.5,764.6 277.8,762.7 278.1,761.8 278.5,760.0 278.8,760.1 279.1,762.4 279.4,763.1 279.8,761.3 280.1,759.6 280.4,760.0 280.8,759.8 281.1,759.7 281.4,762.3 281.8,763.3 282.1,763.1 282.4,763.1 282.7,762.0 283.1,761.2 283.4,762.4 283.7,763.4 284.1,761.7 284.4,760.8 284.7,760.7 285.0,760.8 285.4,760.6 285.7,760.1 286.0,760.8 286.4,763.1 286.7,763.6 287.0,762.4 287.4,761.4 287.7,760.0 288.0,760.0 288.3,762.0 288.7,763.1 289.0,761.9 289.3,761.5 289.7,762.7 290.0,762.6 290.3,762.0 290.6,761.6 291.0,762.0 291.3,762.1 291.6,762.2 292.0,763.5 292.3,765.0 292.6,766.3 293.0,766.3 293.3,764.9 293.6,764.5 293.9,764.1 294.3,763.3 294.6,760.6 294.9,759.2 295.3,759.2 295.6,759.4 295.9,760.3 296.2,760.6 296.6,760.5 296.9,759.8 297.2,759.4 297.6,760.6 297.9,761.4 298.2,761.8 298.6,762.1 298.9,763.3 299.2,764.5 299.5,765.1 299.9,763.1 300.2,760.0 300.5,761.1 300.9,762.3 301.2,762.0 301.5,761.2 301.8,758.8 302.2,756.5 302.5,755.0 302.8,753.6 303.2,752.6 303.5,753.7 303.8,756.3 304.2,757.2 304.5,758.8 304.8,760.6 305.1,760.2 305.5,758.3 305.8,758.2 306.1,756.8 306.5,755.2 306.8,753.3 307.1,751.4 307.4,751.6 307.8,752.1 308.1,752.5 308.4,753.8 308.8,755.3 309.1,755.5 309.4,754.0 309.8,752.8 310.1,751.7 310.4,751.1 310.7,750.3 311.1,749.0 311.4,747.9 311.7,748.3 312.1,748.1 312.4,747.8 312.7,749.4 313.0,754.2 313.4,759.6 313.7,760.3 314.0,757.1 314.4,754.8 314.7,755.0 315.0,755.6 315.4,754.6 315.7,755.3 316.0,758.7 316.3,761.8 316.7,762.7 317.0,761.1 317.3,759.2 317.7,761.1 318.0,763.4 318.3,762.5 318.7,761.9 319.0,762.2 319.3,762.8 319.6,761.7 320.0,761.3 320.3,762.2 320.6,763.1 321.0,765.4 321.3,768.0 321.6,771.3 321.9,771.1 322.3,769.2 322.6,770.8 322.9,772.3 323.3,770.6 323.6,768.9 323.9,767.3 324.3,764.5 324.6,762.9 324.9,761.9 325.2,761.6 325.6,762.1 325.9,761.6 326.2,760.3 326.6,761.0 326.9,763.0 327.2,762.4 327.5,758.8 327.9,758.0 328.2,758.6 328.5,758.3 328.9,757.4 329.2,756.6 329.5,757.4 329.9,758.1 330.2,757.8 330.5,759.6 330.8,761.4 331.2,762.5 331.5,763.5 331.8,762.9 332.2,762.4 332.5,764.4 332.8,764.7 333.1,763.2 333.5,761.3 333.8,760.1 334.1,760.4 334.5,760.6 334.8,760.1 335.1,757.4 335.5,756.4 335.8,759.1 336.1,761.9 336.4,762.4 336.8,762.4 337.1,763.5 337.4,763.1 337.8,764.1 338.1,766.0 338.4,766.0 338.7,765.4 339.1,764.2 339.4,763.9 339.7,763.5 340.1,764.4 340.4,766.2 340.7,767.5 341.1,770.3 341.4,771.7 341.7,770.3 342.0,770.9 342.4,772.7 342.7,773.2 343.0,772.7 343.4,771.8 343.7,773.2 344.0,775.3 344.3,773.6 344.7,771.0 345.0,768.5 345.3,767.0 345.7,767.8 346.0,766.6 346.3,765.0 346.7,765.0 347.0,766.0 347.3,767.0 347.6,768.2 348.0,769.0 348.3,770.0 348.6,771.8 349.0,770.2 349.3,767.9 349.6,767.2 349.9,767.5 350.3,767.1 350.6,765.0 350.9,762.6 351.3,763.1 351.6,764.9 351.9,762.7 352.3,759.1 352.6,759.2 352.9,762.0 353.2,762.3 353.6,758.9 353.9,755.3 354.2,753.8 354.6,754.2 354.9,754.6 355.2,754.4 355.5,754.5 355.9,752.8 356.2,752.4 356.5,752.9 356.9,754.7 357.2,756.2 357.5,756.2 357.9,755.9 358.2,758.2 358.5,760.8 358.8,761.3 359.2,760.9 359.5,760.6 359.8,762.5 360.2,764.0 360.5,760.8 360.8,757.7 361.1,759.0 361.5,760.5 361.8,761.8 362.1,764.3 362.5,765.3 362.8,764.9 363.1,764.4 363.5,761.1 363.8,757.4 364.1,754.7 364.4,754.6 364.8,755.3 365.1,753.7 365.4,753.4 365.8,755.8 366.1,758.4 366.4,759.5 366.7,759.3 367.1,758.0 367.4,758.5 367.7,760.8 368.1,761.4 368.4,762.1 368.7,764.0 369.1,764.0 369.4,763.3 369.7,764.2 370.0,762.8 370.4,762.4 370.7,762.9 371.0,761.5 371.4,760.3 371.7,760.0 372.0,761.1 372.3,761.8 372.7,761.8 373.0,760.7 373.3,762.4 373.7,765.9 374.0,766.7 374.3,766.8 374.7,767.9 375.0,768.5 375.3,768.1 375.6,766.4 376.0,763.7 376.3,761.4 376.6,759.8 377.0,759.0 377.3,759.3 377.6,758.6 378.0,758.2 378.3,757.2 378.6,755.3 378.9,755.2 379.3,757.8 379.6,760.2 379.9,760.7 380.3,757.7 380.6,754.9 380.9,756.0 381.2,756.3 381.6,755.5 381.9,754.8 382.2,755.5 382.6,757.1 382.9,756.2 383.2,756.4 383.6,758.9 383.9,757.9 384.2,755.9 384.5,755.9 384.9,757.6 385.2,757.9 385.5,756.2 385.9,755.5 386.2,755.6 386.5,756.9 386.8,758.3 387.2,758.8 387.5,757.5 387.8,757.0 388.2,759.2 388.5,759.8 388.8,760.7 389.2,761.9 389.5,762.4 389.8,762.5 390.1,761.5 390.5,759.4 390.8,758.6 391.1,760.8 391.5,762.2 391.8,762.9 392.1,764.8 392.4,765.8 392.8,766.2 393.1,765.4 393.4,763.0 393.8,762.6 394.1,763.6 394.4,763.0 394.8,760.4 395.1,760.3 395.4,762.4 395.7,762.2 396.1,760.5 396.4,761.6 396.7,760.9 397.1,757.2 397.4,756.1 397.7,757.2 398.0,756.9 398.4,755.4 398.7,756.4 399.0,759.2 399.4,759.8 399.7,758.9 400.0,760.6 400.4,762.2 400.7,761.9 401.0,763.6 401.3,764.5 401.7,764.6 402.0,763.1" fill="none" stroke="#0070c0" stroke-width="2.3" stroke-linejoin="round" stroke-linecap="round" clip-path="url(#cG)"/>
<path d="M105.5 711.8V807.8M96.7 807.8H402M96.7 711.8H105.5M96.7 759.7H105.5M96.7 807.8H105.5M105.5 807.8V816.6M204.33 807.8V816.6M303.17 807.8V816.6M402 807.8V816.6" stroke="#000" stroke-width="1.7" fill="none"/>
<text x="65.95" y="719.82" font-size="25" textLength="13.56" lengthAdjust="spacingAndGlyphs">3</text>
<text x="65.83" y="767.73" font-size="25" textLength="13.56" lengthAdjust="spacingAndGlyphs">0</text>
<text x="57.78" y="815.82" font-size="25" textLength="21.67" lengthAdjust="spacingAndGlyphs">-3</text>
<text x="98.67" y="852.1" font-size="25" textLength="13.56" lengthAdjust="spacingAndGlyphs">0</text>
<text x="190.74" y="852.1" font-size="25" textLength="27.11" lengthAdjust="spacingAndGlyphs">30</text>
<text x="289.46" y="852.1" font-size="25" textLength="27.11" lengthAdjust="spacingAndGlyphs">60</text>
<text x="388.35" y="852.1" font-size="25" textLength="27.11" lengthAdjust="spacingAndGlyphs">90</text>
<polyline points="997.4,763.6 997.7,766.1 998.1,767.9 998.4,770.9 998.7,772.4 999.0,772.2 999.4,770.8 999.7,768.0 1000.0,765.1 1000.4,763.7 1000.7,763.8 1001.0,761.9 1001.4,760.0 1001.7,759.5 1002.0,759.6 1002.3,759.6 1002.7,759.5 1003.0,760.0 1003.3,758.7 1003.7,759.2 1004.0,761.9 1004.3,763.5 1004.7,765.2 1005.0,764.1 1005.3,763.0 1005.6,764.0 1006.0,764.8 1006.3,766.0 1006.6,767.1 1007.0,765.4 1007.3,763.2 1007.6,763.1 1007.9,762.8 1008.3,761.6 1008.6,761.9 1008.9,763.8 1009.3,765.4 1009.6,764.7 1009.9,764.9 1010.3,767.3 1010.6,769.2 1010.9,769.1 1011.2,769.4 1011.6,769.8 1011.9,768.6 1012.2,768.0 1012.6,767.9 1012.9,768.0 1013.2,768.8 1013.5,768.6 1013.9,768.2 1014.2,766.9 1014.5,766.4 1014.9,765.8 1015.2,763.6 1015.5,762.0 1015.9,762.5 1016.2,763.0 1016.5,760.9 1016.8,760.6 1017.2,763.0 1017.5,763.3 1017.8,763.0 1018.2,761.8 1018.5,761.7 1018.8,762.7 1019.2,762.5 1019.5,761.2 1019.8,758.8 1020.1,758.5 1020.5,760.9 1020.8,763.0 1021.1,763.1 1021.5,761.7 1021.8,760.3 1022.1,760.1 1022.4,759.8 1022.8,758.6 1023.1,756.5 1023.4,757.1 1023.8,758.7 1024.1,759.7 1024.4,759.0 1024.8,759.3 1025.1,760.9 1025.4,762.0 1025.7,762.7 1026.1,763.0 1026.4,763.0 1026.7,762.3 1027.1,760.1 1027.4,757.8 1027.7,756.8 1028.0,755.9 1028.4,755.3 1028.7,756.1 1029.0,757.0 1029.4,757.5 1029.7,757.5 1030.0,758.3 1030.4,758.4 1030.7,759.0 1031.0,759.7 1031.3,759.7 1031.7,760.7 1032.0,762.0 1032.3,761.5 1032.7,761.1 1033.0,761.7 1033.3,761.7 1033.7,762.3 1034.0,762.6 1034.3,762.1 1034.6,761.0 1035.0,759.4 1035.3,759.4 1035.6,761.3 1036.0,761.9 1036.3,762.1 1036.6,762.7 1036.9,761.3 1037.3,760.1 1037.6,759.1 1037.9,758.8 1038.3,759.8 1038.6,761.0 1038.9,761.5 1039.3,760.8 1039.6,759.5 1039.9,757.8 1040.2,756.6 1040.6,758.4 1040.9,761.6 1041.2,761.6 1041.6,760.8 1041.9,761.4 1042.2,761.1 1042.5,759.9 1042.9,761.2 1043.2,762.4 1043.5,761.7 1043.9,759.6 1044.2,757.7 1044.5,756.7 1044.9,756.4 1045.2,756.7 1045.5,757.2 1045.8,757.7 1046.2,757.5 1046.5,759.8 1046.8,762.1 1047.2,763.9 1047.5,765.2 1047.8,763.4 1048.2,761.5 1048.5,760.9 1048.8,761.5 1049.1,761.7 1049.5,761.0 1049.8,759.9 1050.1,759.5 1050.5,760.1 1050.8,761.8 1051.1,764.2 1051.4,764.1 1051.8,761.6 1052.1,758.6 1052.4,757.1 1052.8,756.5 1053.1,755.4 1053.4,754.5 1053.8,755.0 1054.1,755.4 1054.4,755.3 1054.7,755.6 1055.1,755.2 1055.4,756.7 1055.7,759.5 1056.1,759.6 1056.4,760.2 1056.7,761.6 1057.0,762.4 1057.4,765.3 1057.7,764.9 1058.0,762.8 1058.4,762.0 1058.7,761.3 1059.0,759.6 1059.4,758.6 1059.7,758.2 1060.0,757.7 1060.3,757.9 1060.7,759.0 1061.0,760.2 1061.3,760.4 1061.7,759.2 1062.0,758.3 1062.3,757.8 1062.7,757.4 1063.0,757.6 1063.3,758.7 1063.6,758.9 1064.0,757.5 1064.3,756.9 1064.6,758.2 1065.0,760.0 1065.3,760.0 1065.6,758.1 1065.9,757.1 1066.3,759.7 1066.6,762.4 1066.9,762.2 1067.3,761.6 1067.6,761.6 1067.9,760.7 1068.3,760.6 1068.6,761.8 1068.9,761.4 1069.2,759.8 1069.6,760.3 1069.9,761.2 1070.2,760.6 1070.6,760.5 1070.9,761.5 1071.2,760.8 1071.5,759.1 1071.9,758.8 1072.2,759.3 1072.5,758.7 1072.9,757.8 1073.2,757.6 1073.5,758.1 1073.9,759.2 1074.2,759.6 1074.5,760.0 1074.8,759.9 1075.2,761.1 1075.5,763.2 1075.8,763.3 1076.2,762.0 1076.5,761.9 1076.8,763.3 1077.2,762.6 1077.5,759.9 1077.8,759.4 1078.1,759.9 1078.5,760.0 1078.8,761.1 1079.1,759.5 1079.5,757.6 1079.8,756.6 1080.1,756.0 1080.4,755.5 1080.8,754.9 1081.1,756.1 1081.4,757.8 1081.8,759.2 1082.1,760.0 1082.4,760.7 1082.8,760.2 1083.1,760.2 1083.4,761.1 1083.7,762.5 1084.1,764.6 1084.4,767.1 1084.7,767.9 1085.1,766.5 1085.4,764.9 1085.7,763.4 1086.1,762.4 1086.4,761.9 1086.7,762.4 1087.0,764.4 1087.4,765.8 1087.7,766.9 1088.0,767.9 1088.4,767.8 1088.7,767.8 1089.0,768.4 1089.3,768.5 1089.7,768.1 1090.0,768.1 1090.3,767.3 1090.7,766.2 1091.0,766.1 1091.3,766.9 1091.7,768.0 1092.0,767.4 1092.3,765.5 1092.6,764.8 1093.0,764.0 1093.3,762.3 1093.6,761.2 1094.0,761.5 1094.3,762.2 1094.6,761.9 1094.9,761.3 1095.3,760.7 1095.6,759.3 1095.9,757.9 1096.3,757.4 1096.6,759.4 1096.9,761.4 1097.3,759.8 1097.6,758.6 1097.9,760.1 1098.2,762.4 1098.6,763.3 1098.9,763.2 1099.2,763.2 1099.6,762.3 1099.9,759.8 1100.2,757.2 1100.6,756.3 1100.9,756.2 1101.2,756.0 1101.5,756.5 1101.9,757.0 1102.2,757.7 1102.5,759.3 1102.9,760.5 1103.2,760.1 1103.5,759.8 1103.8,760.3 1104.2,759.1 1104.5,757.3 1104.8,756.0 1105.2,756.1 1105.5,757.6 1105.8,758.8 1106.2,758.2 1106.5,758.2 1106.8,758.8 1107.1,759.2 1107.5,759.9 1107.8,760.3 1108.1,759.7 1108.5,758.4 1108.8,759.7 1109.1,760.3 1109.4,757.7 1109.8,756.6 1110.1,757.8 1110.4,758.5 1110.8,758.7 1111.1,759.4 1111.4,760.8 1111.8,761.9 1112.1,761.7 1112.4,761.2 1112.7,761.0 1113.1,760.8 1113.4,760.3 1113.7,759.5 1114.1,760.1 1114.4,761.5 1114.7,761.5 1115.1,761.3 1115.4,761.0 1115.7,761.0 1116.0,760.1 1116.4,758.6 1116.7,758.9 1117.0,759.1 1117.4,757.1 1117.7,754.9 1118.0,754.6 1118.3,756.2 1118.7,757.5 1119.0,756.5 1119.3,756.8 1119.7,758.5 1120.0,760.5 1120.3,761.0 1120.7,759.2 1121.0,758.7 1121.3,757.7 1121.6,755.9 1122.0,757.7 1122.3,760.1 1122.6,759.8 1123.0,760.6 1123.3,760.3 1123.6,759.4 1123.9,760.4 1124.3,760.3 1124.6,760.1 1124.9,760.1 1125.3,758.6 1125.6,757.0 1125.9,755.6 1126.3,754.5 1126.6,754.2 1126.9,752.9 1127.2,752.3 1127.6,753.9 1127.9,754.1 1128.2,753.0 1128.6,753.1 1128.9,753.1 1129.2,752.6 1129.6,752.2 1129.9,751.4 1130.2,750.1 1130.5,749.4 1130.9,749.5 1131.2,749.4 1131.5,749.1 1131.9,749.7 1132.2,751.5 1132.5,752.2 1132.8,752.3 1133.2,753.0 1133.5,754.4 1133.8,755.8 1134.2,756.0 1134.5,756.8 1134.8,757.8 1135.2,757.8 1135.5,758.9 1135.8,759.1 1136.1,758.2 1136.5,758.6 1136.8,759.3 1137.1,760.3 1137.5,760.4 1137.8,759.6 1138.1,758.6 1138.4,757.4 1138.8,758.4 1139.1,760.5 1139.4,760.8 1139.8,759.8 1140.1,759.3 1140.4,758.9 1140.8,758.4 1141.1,758.6 1141.4,759.4 1141.7,760.4 1142.1,761.5 1142.4,761.9 1142.7,761.0 1143.1,761.4 1143.4,761.2 1143.7,759.5 1144.1,760.1 1144.4,762.3 1144.7,762.5 1145.0,761.1 1145.4,761.0 1145.7,761.6 1146.0,762.0 1146.4,761.3 1146.7,760.5 1147.0,758.2 1147.3,755.1 1147.7,754.0 1148.0,755.4 1148.3,758.4 1148.7,759.5 1149.0,759.1 1149.3,759.9 1149.7,763.2 1150.0,765.0 1150.3,765.2 1150.6,764.0 1151.0,763.4 1151.3,761.8 1151.6,759.7 1152.0,759.3 1152.3,759.2 1152.6,761.3 1153.0,762.6 1153.3,762.0 1153.6,762.1 1153.9,761.3 1154.3,760.8 1154.6,761.4 1154.9,761.6 1155.3,760.6 1155.6,758.7 1155.9,759.0 1156.2,761.2 1156.6,761.3 1156.9,761.7 1157.2,762.3 1157.6,761.4 1157.9,761.3 1158.2,762.0 1158.6,761.6 1158.9,761.8 1159.2,762.6 1159.5,762.6 1159.9,763.0 1160.2,763.5 1160.5,762.0 1160.9,762.2 1161.2,763.4 1161.5,763.6 1161.8,764.1 1162.2,763.1 1162.5,760.2 1162.8,758.5 1163.2,758.6 1163.5,758.1 1163.8,757.1 1164.2,756.5 1164.5,756.6 1164.8,756.6 1165.1,756.8 1165.5,757.9 1165.8,759.5 1166.1,760.0 1166.5,759.6 1166.8,757.8 1167.1,756.1 1167.5,754.9 1167.8,756.7 1168.1,759.4 1168.4,759.6 1168.8,760.0 1169.1,760.3 1169.4,760.9 1169.8,762.0 1170.1,762.0 1170.4,761.3 1170.7,761.7 1171.1,761.8 1171.4,762.0 1171.7,762.1 1172.1,760.3 1172.4,757.9 1172.7,757.2 1173.1,757.3 1173.4,758.1 1173.7,759.8 1174.0,759.9 1174.4,760.1 1174.7,759.7 1175.0,758.7 1175.4,759.7 1175.7,761.5 1176.0,761.8 1176.3,761.1 1176.7,758.8 1177.0,758.3 1177.3,758.9 1177.7,758.8 1178.0,759.9 1178.3,760.6 1178.7,759.8 1179.0,758.9 1179.3,758.6 1179.6,759.0 1180.0,760.0 1180.3,760.1 1180.6,761.5 1181.0,761.3 1181.3,758.8 1181.6,757.3 1182.0,755.9 1182.3,755.5 1182.6,758.1 1182.9,759.3 1183.3,758.2 1183.6,757.4 1183.9,757.8 1184.3,758.1 1184.6,757.0 1184.9,754.3 1185.2,753.6 1185.6,754.2 1185.9,754.5 1186.2,754.9 1186.6,757.9 1186.9,759.5 1187.2,760.1 1187.6,762.0 1187.9,762.8 1188.2,761.7 1188.5,759.2 1188.9,757.6 1189.2,757.8 1189.5,759.0 1189.9,760.3 1190.2,760.3 1190.5,761.1 1190.8,761.7 1191.2,760.9 1191.5,760.5 1191.8,761.8 1192.2,762.5 1192.5,762.3 1192.8,761.8 1193.2,762.3 1193.5,762.8 1193.8,762.6 1194.1,763.0 1194.5,763.9 1194.8,764.0 1195.1,762.8 1195.5,760.4 1195.8,760.4 1196.1,761.4 1196.5,760.4 1196.8,759.9 1197.1,760.1 1197.4,759.1 1197.8,758.6 1198.1,758.1 1198.4,758.6 1198.8,761.1 1199.1,760.9 1199.4,760.9 1199.7,760.5 1200.1,758.4 1200.4,757.5 1200.7,757.0 1201.1,757.4 1201.4,759.9 1201.7,761.7 1202.1,760.9 1202.4,760.3 1202.7,759.9 1203.0,759.9 1203.4,758.7 1203.7,758.8 1204.0,759.9 1204.4,759.0 1204.7,757.1 1205.0,756.6 1205.3,757.6 1205.7,758.2 1206.0,759.6 1206.3,760.0 1206.7,759.3 1207.0,758.6 1207.3,758.3 1207.7,758.0 1208.0,758.6 1208.3,760.5 1208.6,761.5 1209.0,760.8 1209.3,760.8 1209.6,761.9 1210.0,761.9 1210.3,761.5 1210.6,760.3 1211.0,760.1 1211.3,760.3 1211.6,760.8 1211.9,761.8 1212.3,761.3 1212.6,761.2 1212.9,761.6 1213.3,762.0 1213.6,760.4 1213.9,759.7 1214.2,759.3 1214.6,758.7 1214.9,758.4 1215.2,758.4 1215.6,758.3 1215.9,756.0 1216.2,755.3 1216.6,756.6 1216.9,757.7 1217.2,758.5 1217.5,759.3 1217.9,761.4 1218.2,762.4 1218.5,761.6 1218.9,760.5 1219.2,758.3 1219.5,757.9 1219.8,758.5 1220.2,759.0 1220.5,758.4 1220.8,757.6 1221.2,759.4 1221.5,760.7 1221.8,760.0 1222.2,759.6 1222.5,759.9 1222.8,760.3 1223.1,761.7 1223.5,763.2 1223.8,763.6 1224.1,763.7 1224.5,765.2 1224.8,765.0 1225.1,763.1 1225.5,761.0 1225.8,761.3 1226.1,762.4 1226.4,762.3 1226.8,761.4 1227.1,762.2 1227.4,763.5 1227.8,763.1 1228.1,762.2 1228.4,762.7 1228.7,762.4 1229.1,760.2 1229.4,757.9 1229.7,758.7 1230.1,760.1 1230.4,759.6 1230.7,760.0 1231.1,759.9 1231.4,758.8 1231.7,759.4 1232.0,761.4 1232.4,761.2 1232.7,760.3 1233.0,760.0 1233.4,759.0 1233.7,756.6 1234.0,755.0 1234.4,755.3 1234.7,755.9 1235.0,756.9 1235.3,758.8 1235.7,759.5 1236.0,760.0 1236.3,761.4 1236.7,762.6 1237.0,762.4 1237.3,762.0 1237.6,762.3 1238.0,762.9 1238.3,763.2 1238.6,762.5 1239.0,761.3 1239.3,759.6 1239.6,758.7 1240.0,759.1 1240.3,759.2 1240.6,757.6 1240.9,755.6 1241.3,755.8 1241.6,755.7 1241.9,754.2 1242.3,753.4 1242.6,754.6 1242.9,755.6 1243.2,754.8 1243.6,754.5 1243.9,755.2 1244.2,755.6 1244.6,756.0 1244.9,756.0 1245.2,755.9 1245.6,755.2 1245.9,754.4 1246.2,753.8 1246.5,753.1 1246.9,753.5 1247.2,754.6 1247.5,755.0 1247.9,754.3 1248.2,752.8 1248.5,751.8 1248.9,752.5 1249.2,754.1 1249.5,755.6 1249.8,757.0 1250.2,758.4 1250.5,760.4 1250.8,763.0 1251.2,762.3 1251.5,760.5 1251.8,759.3 1252.1,759.2 1252.5,761.5 1252.8,763.0 1253.1,763.1 1253.5,762.1 1253.8,761.3 1254.1,759.9 1254.5,758.6 1254.8,757.0 1255.1,755.6 1255.4,756.9 1255.8,757.7 1256.1,757.0 1256.4,756.8 1256.8,758.1 1257.1,757.5 1257.4,756.2 1257.7,757.0 1258.1,758.7 1258.4,757.5 1258.7,756.0 1259.1,756.9 1259.4,758.8 1259.7,760.5 1260.1,761.3 1260.4,761.5 1260.7,761.5 1261.0,760.9 1261.4,759.4 1261.7,760.5 1262.0,760.8 1262.4,759.5 1262.7,757.5 1263.0,757.4 1263.4,758.4 1263.7,756.9 1264.0,755.2 1264.3,753.9 1264.7,752.8 1265.0,753.2 1265.3,755.2 1265.7,756.5 1266.0,757.7 1266.3,759.6 1266.6,759.6 1267.0,758.0 1267.3,757.0 1267.6,756.8 1268.0,756.9 1268.3,757.9 1268.6,758.6 1269.0,759.1 1269.3,761.1 1269.6,763.7 1269.9,764.1 1270.3,763.8 1270.6,763.3 1270.9,762.0 1271.3,760.8 1271.6,759.8 1271.9,759.3 1272.2,758.8 1272.6,759.0 1272.9,759.4 1273.2,758.0 1273.6,758.5 1273.9,760.5 1274.2,762.0 1274.6,762.3 1274.9,761.7 1275.2,761.1 1275.5,760.4 1275.9,758.0 1276.2,757.2 1276.5,758.1 1276.9,758.0 1277.2,755.7 1277.5,754.5 1277.9,754.7 1278.2,756.1 1278.5,757.6 1278.8,756.8 1279.2,755.8 1279.5,756.3 1279.8,757.1 1280.2,757.6 1280.5,759.1 1280.8,761.0 1281.1,762.2 1281.5,762.7 1281.8,762.9 1282.1,763.4 1282.5,763.5 1282.8,762.0 1283.1,760.6 1283.5,760.2 1283.8,759.8 1284.1,758.8 1284.4,759.4 1284.8,761.0 1285.1,761.5 1285.4,760.9 1285.8,760.0 1286.1,760.6 1286.4,759.9 1286.7,757.6 1287.1,756.9 1287.4,758.0 1287.7,759.1 1288.1,759.6 1288.4,761.6 1288.7,763.6 1289.1,764.2 1289.4,764.8 1289.7,766.3 1290.0,765.9 1290.4,763.6 1290.7,762.9 1291.0,763.3 1291.4,763.5 1291.7,762.2 1292.0,759.9 1292.4,760.0 1292.7,761.3 1293.0,760.2 1293.3,759.8 1293.7,761.0 1294.0,760.9" fill="none" stroke="#ff0000" stroke-width="2.3" stroke-linejoin="round" stroke-linecap="round" clip-path="url(#cI)"/>
<polyline points="997.4,756.8 997.7,757.2 998.1,759.1 998.4,760.2 998.7,761.1 999.0,759.9 999.4,758.8 999.7,758.8 1000.0,758.2 1000.4,757.4 1000.7,756.8 1001.0,757.1 1001.4,757.3 1001.7,757.3 1002.0,757.5 1002.3,758.4 1002.7,757.5 1003.0,755.4 1003.3,756.0 1003.7,758.4 1004.0,758.7 1004.3,758.7 1004.7,758.4 1005.0,756.6 1005.3,756.1 1005.6,756.3 1006.0,754.6 1006.3,753.2 1006.6,753.9 1007.0,754.9 1007.3,755.1 1007.6,753.7 1007.9,752.2 1008.3,751.8 1008.6,752.4 1008.9,753.8 1009.3,753.5 1009.6,752.2 1009.9,753.3 1010.3,753.1 1010.6,752.1 1010.9,752.2 1011.2,751.7 1011.6,751.4 1011.9,752.2 1012.2,754.0 1012.6,754.7 1012.9,754.7 1013.2,755.7 1013.5,757.1 1013.9,756.8 1014.2,756.1 1014.5,757.1 1014.9,757.4 1015.2,757.2 1015.5,757.9 1015.9,758.6 1016.2,759.2 1016.5,757.6 1016.8,755.7 1017.2,756.6 1017.5,756.5 1017.8,755.6 1018.2,754.9 1018.5,756.0 1018.8,758.3 1019.2,759.2 1019.5,758.1 1019.8,757.2 1020.1,755.5 1020.5,753.9 1020.8,754.1 1021.1,754.9 1021.5,756.0 1021.8,755.2 1022.1,752.8 1022.4,751.4 1022.8,752.2 1023.1,750.8 1023.4,747.8 1023.8,748.1 1024.1,749.2 1024.4,749.3 1024.8,750.1 1025.1,751.9 1025.4,752.6 1025.7,752.7 1026.1,753.3 1026.4,753.3 1026.7,752.5 1027.1,752.6 1027.4,753.2 1027.7,752.0 1028.0,751.7 1028.4,754.4 1028.7,755.4 1029.0,754.4 1029.4,755.7 1029.7,758.0 1030.0,759.1 1030.4,759.2 1030.7,759.4 1031.0,760.6 1031.3,763.1 1031.7,762.6 1032.0,760.8 1032.3,761.1 1032.7,762.1 1033.0,760.6 1033.3,759.6 1033.7,760.3 1034.0,757.8 1034.3,756.9 1034.6,759.4 1035.0,760.9 1035.3,759.6 1035.6,760.1 1036.0,763.6 1036.3,765.7 1036.6,765.5 1036.9,765.2 1037.3,764.1 1037.6,763.1 1037.9,762.8 1038.3,761.1 1038.6,760.1 1038.9,760.0 1039.3,761.0 1039.6,760.7 1039.9,760.8 1040.2,760.2 1040.6,757.9 1040.9,757.8 1041.2,758.5 1041.6,759.0 1041.9,758.5 1042.2,758.0 1042.5,757.4 1042.9,756.9 1043.2,758.9 1043.5,761.0 1043.9,761.7 1044.2,763.1 1044.5,762.6 1044.9,760.5 1045.2,761.9 1045.5,764.5 1045.8,764.9 1046.2,764.9 1046.5,762.6 1046.8,762.3 1047.2,761.5 1047.5,758.5 1047.8,757.3 1048.2,757.7 1048.5,758.8 1048.8,758.7 1049.1,758.8 1049.5,758.0 1049.8,757.8 1050.1,760.1 1050.5,760.4 1050.8,760.1 1051.1,760.6 1051.4,760.6 1051.8,762.1 1052.1,763.5 1052.4,763.2 1052.8,763.0 1053.1,761.8 1053.4,762.0 1053.8,762.4 1054.1,763.3 1054.4,764.1 1054.7,763.4 1055.1,762.3 1055.4,761.5 1055.7,761.3 1056.1,761.7 1056.4,761.5 1056.7,761.1 1057.0,761.0 1057.4,761.5 1057.7,761.3 1058.0,759.8 1058.4,759.3 1058.7,758.4 1059.0,757.8 1059.4,760.1 1059.7,764.4 1060.0,767.1 1060.3,767.6 1060.7,766.6 1061.0,766.6 1061.3,765.6 1061.7,765.6 1062.0,765.8 1062.3,763.7 1062.7,761.4 1063.0,761.1 1063.3,763.0 1063.6,765.2 1064.0,766.1 1064.3,766.2 1064.6,766.8 1065.0,766.4 1065.3,765.7 1065.6,765.2 1065.9,764.6 1066.3,763.5 1066.6,762.8 1066.9,762.8 1067.3,764.4 1067.6,765.1 1067.9,765.0 1068.3,766.2 1068.6,766.5 1068.9,766.1 1069.2,765.2 1069.6,766.1 1069.9,764.9 1070.2,761.6 1070.6,759.0 1070.9,756.9 1071.2,757.2 1071.5,759.0 1071.9,759.0 1072.2,758.8 1072.5,761.0 1072.9,763.1 1073.2,764.4 1073.5,766.4 1073.9,766.4 1074.2,765.6 1074.5,764.3 1074.8,762.5 1075.2,759.9 1075.5,758.8 1075.8,758.7 1076.2,757.7 1076.5,758.6 1076.8,759.5 1077.2,758.2 1077.5,756.4 1077.8,757.8 1078.1,759.5 1078.5,761.5 1078.8,764.2 1079.1,765.1 1079.5,766.0 1079.8,766.3 1080.1,766.3 1080.4,765.5 1080.8,764.8 1081.1,764.4 1081.4,763.4 1081.8,760.9 1082.1,757.4 1082.4,755.4 1082.8,754.4 1083.1,755.3 1083.4,758.2 1083.7,759.6 1084.1,758.1 1084.4,757.3 1084.7,760.2 1085.1,763.8 1085.4,763.2 1085.7,761.6 1086.1,761.6 1086.4,762.8 1086.7,763.2 1087.0,760.9 1087.4,758.3 1087.7,756.9 1088.0,759.2 1088.4,761.0 1088.7,758.8 1089.0,757.6 1089.3,758.1 1089.7,757.8 1090.0,757.5 1090.3,756.7 1090.7,757.3 1091.0,757.9 1091.3,757.5 1091.7,758.3 1092.0,759.1 1092.3,759.6 1092.6,758.6 1093.0,759.1 1093.3,759.9 1093.6,760.1 1094.0,760.4 1094.3,759.7 1094.6,759.9 1094.9,761.2 1095.3,760.6 1095.6,759.4 1095.9,760.0 1096.3,761.9 1096.6,760.6 1096.9,759.3 1097.3,760.7 1097.6,761.3 1097.9,763.5 1098.2,763.3 1098.6,762.1 1098.9,760.7 1099.2,758.7 1099.6,759.3 1099.9,760.5 1100.2,760.9 1100.6,760.3 1100.9,760.5 1101.2,761.5 1101.5,763.9 1101.9,764.5 1102.2,763.2 1102.5,761.5 1102.9,759.5 1103.2,758.9 1103.5,758.4 1103.8,757.7 1104.2,757.8 1104.5,757.8 1104.8,757.9 1105.2,759.0 1105.5,759.7 1105.8,760.6 1106.2,763.1 1106.5,765.8 1106.8,766.4 1107.1,765.5 1107.5,765.3 1107.8,763.0 1108.1,759.2 1108.5,756.4 1108.8,755.0 1109.1,754.7 1109.4,755.8 1109.8,756.9 1110.1,757.1 1110.4,757.6 1110.8,758.8 1111.1,760.8 1111.4,762.1 1111.8,762.7 1112.1,763.7 1112.4,765.0 1112.7,763.7 1113.1,761.3 1113.4,762.3 1113.7,761.5 1114.1,759.8 1114.4,759.8 1114.7,760.9 1115.1,762.6 1115.4,762.8 1115.7,763.1 1116.0,762.3 1116.4,761.4 1116.7,761.0 1117.0,760.6 1117.4,761.8 1117.7,762.1 1118.0,761.2 1118.3,761.7 1118.7,760.7 1119.0,760.2 1119.3,760.3 1119.7,758.5 1120.0,757.8 1120.3,759.0 1120.7,759.9 1121.0,759.6 1121.3,757.0 1121.6,754.9 1122.0,755.0 1122.3,754.1 1122.6,753.9 1123.0,755.7 1123.3,757.1 1123.6,756.3 1123.9,756.4 1124.3,757.2 1124.6,756.9 1124.9,757.9 1125.3,758.8 1125.6,758.7 1125.9,759.0 1126.3,759.4 1126.6,759.7 1126.9,760.0 1127.2,760.6 1127.6,761.0 1127.9,761.6 1128.2,762.6 1128.6,761.0 1128.9,760.2 1129.2,760.1 1129.6,760.4 1129.9,760.4 1130.2,761.1 1130.5,761.7 1130.9,762.6 1131.2,764.4 1131.5,764.6 1131.9,764.2 1132.2,764.6 1132.5,764.8 1132.8,764.7 1133.2,763.4 1133.5,764.5 1133.8,766.6 1134.2,764.3 1134.5,759.9 1134.8,757.9 1135.2,755.7 1135.5,755.1 1135.8,755.1 1136.1,753.1 1136.5,751.5 1136.8,752.1 1137.1,752.9 1137.5,755.4 1137.8,758.5 1138.1,759.3 1138.4,758.1 1138.8,757.6 1139.1,761.0 1139.4,762.8 1139.8,763.5 1140.1,763.8 1140.4,762.5 1140.8,760.9 1141.1,762.5 1141.4,763.9 1141.7,763.7 1142.1,764.1 1142.4,763.7 1142.7,762.6 1143.1,764.4 1143.4,766.5 1143.7,766.0 1144.1,764.3 1144.4,763.0 1144.7,763.0 1145.0,762.4 1145.4,761.8 1145.7,762.2 1146.0,761.3 1146.4,759.9 1146.7,759.5 1147.0,759.5 1147.3,759.6 1147.7,758.6 1148.0,757.6 1148.3,756.8 1148.7,756.2 1149.0,756.4 1149.3,756.5 1149.7,755.7 1150.0,753.8 1150.3,753.1 1150.6,751.9 1151.0,751.0 1151.3,750.8 1151.6,751.8 1152.0,753.6 1152.3,753.2 1152.6,752.5 1153.0,753.7 1153.3,756.6 1153.6,759.0 1153.9,759.0 1154.3,756.6 1154.6,752.9 1154.9,751.4 1155.3,751.6 1155.6,751.1 1155.9,751.1 1156.2,752.4 1156.6,753.6 1156.9,754.1 1157.2,752.6 1157.6,751.1 1157.9,752.7 1158.2,755.9 1158.6,758.0 1158.9,757.9 1159.2,754.6 1159.5,752.8 1159.9,752.8 1160.2,753.9 1160.5,754.3 1160.9,753.4 1161.2,753.1 1161.5,754.3 1161.8,756.0 1162.2,755.7 1162.5,755.6 1162.8,757.4 1163.2,760.2 1163.5,760.4 1163.8,758.9 1164.2,759.7 1164.5,759.7 1164.8,758.9 1165.1,760.6 1165.5,762.1 1165.8,761.7 1166.1,762.4 1166.5,761.7 1166.8,759.4 1167.1,758.2 1167.5,758.4 1167.8,757.8 1168.1,756.5 1168.4,757.2 1168.8,758.1 1169.1,758.6 1169.4,760.3 1169.8,761.0 1170.1,761.0 1170.4,761.0 1170.7,760.4 1171.1,757.8 1171.4,754.9 1171.7,755.1 1172.1,756.9 1172.4,757.4 1172.7,757.2 1173.1,757.6 1173.4,758.7 1173.7,759.7 1174.0,759.7 1174.4,760.8 1174.7,760.2 1175.0,758.6 1175.4,758.5 1175.7,759.0 1176.0,761.5 1176.3,763.8 1176.7,764.9 1177.0,765.0 1177.3,762.6 1177.7,760.2 1178.0,759.8 1178.3,760.9 1178.7,761.9 1179.0,762.6 1179.3,763.8 1179.6,765.3 1180.0,765.3 1180.3,766.1 1180.6,768.1 1181.0,767.7 1181.3,766.9 1181.6,768.4 1182.0,770.2 1182.3,770.0 1182.6,768.9 1182.9,767.1 1183.3,766.4 1183.6,768.8 1183.9,770.3 1184.3,768.3 1184.6,765.6 1184.9,764.7 1185.2,764.7 1185.6,765.1 1185.9,765.1 1186.2,763.7 1186.6,761.5 1186.9,760.3 1187.2,762.0 1187.6,763.6 1187.9,765.7 1188.2,766.3 1188.5,764.9 1188.9,763.6 1189.2,764.0 1189.5,764.9 1189.9,765.9 1190.2,767.0 1190.5,765.8 1190.8,764.3 1191.2,764.2 1191.5,762.9 1191.8,761.7 1192.2,762.7 1192.5,763.0 1192.8,760.8 1193.2,758.2 1193.5,756.6 1193.8,756.0 1194.1,755.5 1194.5,755.6 1194.8,757.6 1195.1,760.3 1195.5,760.5 1195.8,760.0 1196.1,760.9 1196.5,762.1 1196.8,763.4 1197.1,764.9 1197.4,764.7 1197.8,763.9 1198.1,764.1 1198.4,763.5 1198.8,762.2 1199.1,760.8 1199.4,759.6 1199.7,758.4 1200.1,757.1 1200.4,757.0 1200.7,756.6 1201.1,753.9 1201.4,751.8 1201.7,752.8 1202.1,754.3 1202.4,754.7 1202.7,754.4 1203.0,753.8 1203.4,754.2 1203.7,753.4 1204.0,751.2 1204.4,750.4 1204.7,750.8 1205.0,748.4 1205.3,747.0 1205.7,748.7 1206.0,749.4 1206.3,748.6 1206.7,747.6 1207.0,748.8 1207.3,750.3 1207.7,751.6 1208.0,753.2 1208.3,754.2 1208.6,753.3 1209.0,751.3 1209.3,750.9 1209.6,753.6 1210.0,755.8 1210.3,755.5 1210.6,754.5 1211.0,755.0 1211.3,756.5 1211.6,757.3 1211.9,758.3 1212.3,759.0 1212.6,757.2 1212.9,755.7 1213.3,756.2 1213.6,756.3 1213.9,755.8 1214.2,756.5 1214.6,757.3 1214.9,756.9 1215.2,757.2 1215.6,759.3 1215.9,760.0 1216.2,759.0 1216.6,756.9 1216.9,755.8 1217.2,755.3 1217.5,755.5 1217.9,756.2 1218.2,756.7 1218.5,755.9 1218.9,755.9 1219.2,756.4 1219.5,757.1 1219.8,759.0 1220.2,758.2 1220.5,758.1 1220.8,760.4 1221.2,760.7 1221.5,760.9 1221.8,759.3 1222.2,757.4 1222.5,758.1 1222.8,759.1 1223.1,758.3 1223.5,758.2 1223.8,759.0 1224.1,758.6 1224.5,757.4 1224.8,758.8 1225.1,761.3 1225.5,761.4 1225.8,759.1 1226.1,759.2 1226.4,760.0 1226.8,760.2 1227.1,760.1 1227.4,760.1 1227.8,758.9 1228.1,757.6 1228.4,757.3 1228.7,757.5 1229.1,758.0 1229.4,757.4 1229.7,757.7 1230.1,758.2 1230.4,756.0 1230.7,753.2 1231.1,753.0 1231.4,754.4 1231.7,756.3 1232.0,758.4 1232.4,759.8 1232.7,760.0 1233.0,761.3 1233.4,764.1 1233.7,766.5 1234.0,766.1 1234.4,763.2 1234.7,760.7 1235.0,758.1 1235.3,757.2 1235.7,757.6 1236.0,756.5 1236.3,755.3 1236.7,755.7 1237.0,755.5 1237.3,755.0 1237.6,756.0 1238.0,758.3 1238.3,759.1 1238.6,759.7 1239.0,761.1 1239.3,762.2 1239.6,764.4 1240.0,764.4 1240.3,761.7 1240.6,758.0 1240.9,755.5 1241.3,756.3 1241.6,757.9 1241.9,757.3 1242.3,756.5 1242.6,757.1 1242.9,757.5 1243.2,757.9 1243.6,759.4 1243.9,759.8 1244.2,757.4 1244.6,755.7 1244.9,755.8 1245.2,756.1 1245.6,756.1 1245.9,756.9 1246.2,756.8 1246.5,757.5 1246.9,759.5 1247.2,759.7 1247.5,760.3 1247.9,762.3 1248.2,763.4 1248.5,762.7 1248.9,761.5 1249.2,758.8 1249.5,756.4 1249.8,756.6 1250.2,756.7 1250.5,757.7 1250.8,759.1 1251.2,758.7 1251.5,759.2 1251.8,761.7 1252.1,763.1 1252.5,763.6 1252.8,763.9 1253.1,764.2 1253.5,764.7 1253.8,766.7 1254.1,766.6 1254.5,765.0 1254.8,763.8 1255.1,763.3 1255.4,763.3 1255.8,763.1 1256.1,763.7 1256.4,765.7 1256.8,765.8 1257.1,764.7 1257.4,763.9 1257.7,763.8 1258.1,763.4 1258.4,763.0 1258.7,764.5 1259.1,767.1 1259.4,767.2 1259.7,765.7 1260.1,763.8 1260.4,761.5 1260.7,760.6 1261.0,760.1 1261.4,759.1 1261.7,757.2 1262.0,756.7 1262.4,758.7 1262.7,759.2 1263.0,758.8 1263.4,757.7 1263.7,757.5 1264.0,756.8 1264.3,756.4 1264.7,756.6 1265.0,755.3 1265.3,754.4 1265.7,756.1 1266.0,757.9 1266.3,757.6 1266.6,758.6 1267.0,759.9 1267.3,759.3 1267.6,759.6 1268.0,761.0 1268.3,761.1 1268.6,760.9 1269.0,761.8 1269.3,761.4 1269.6,759.8 1269.9,758.4 1270.3,758.1 1270.6,759.9 1270.9,760.7 1271.3,760.0 1271.6,758.4 1271.9,759.4 1272.2,761.1 1272.6,760.6 1272.9,761.3 1273.2,764.1 1273.6,763.8 1273.9,760.8 1274.2,759.0 1274.6,760.3 1274.9,761.3 1275.2,761.2 1275.5,761.3 1275.9,762.8 1276.2,763.3 1276.5,761.1 1276.9,761.1 1277.2,763.6 1277.5,763.9 1277.9,761.0 1278.2,760.5 1278.5,760.9 1278.8,760.3 1279.2,759.4 1279.5,760.6 1279.8,762.0 1280.2,763.4 1280.5,762.8 1280.8,761.1 1281.1,760.5 1281.5,759.4 1281.8,759.6 1282.1,760.2 1282.5,759.4 1282.8,759.3 1283.1,762.2 1283.5,763.6 1283.8,762.5 1284.1,762.1 1284.4,761.1 1284.8,759.8 1285.1,759.1 1285.4,760.1 1285.8,760.3 1286.1,760.9 1286.4,760.9 1286.7,758.9 1287.1,758.4 1287.4,761.2 1287.7,763.5 1288.1,762.4 1288.4,760.0 1288.7,759.1 1289.1,760.1 1289.4,760.8 1289.7,758.0 1290.0,756.1 1290.4,756.6 1290.7,757.1 1291.0,758.7 1291.4,759.8 1291.7,759.7 1292.0,761.3 1292.4,762.7 1292.7,762.5 1293.0,760.2 1293.3,759.8 1293.7,762.1 1294.0,762.4" fill="none" stroke="#0070c0" stroke-width="2.3" stroke-linejoin="round" stroke-linecap="round" clip-path="url(#cI)"/>
<path d="M997.4 711.7V807.9M988.6 807.9H1294M988.6 711.7H997.4M988.6 760H997.4M988.6 807.9H997.4M997.4 807.9V816.7M1096.27 807.9V816.7M1195.13 807.9V816.7M1294 807.9V816.7" stroke="#000" stroke-width="1.7" fill="none"/>
<text x="957.85" y="719.73" font-size="25" textLength="13.56" lengthAdjust="spacingAndGlyphs">3</text>
<text x="957.73" y="768.02" font-size="25" textLength="13.56" lengthAdjust="spacingAndGlyphs">0</text>
<text x="949.68" y="815.92" font-size="25" textLength="21.67" lengthAdjust="spacingAndGlyphs">-3</text>
<text x="990.57" y="852.2" font-size="25" textLength="13.56" lengthAdjust="spacingAndGlyphs">0</text>
<text x="1082.68" y="852.2" font-size="25" textLength="27.11" lengthAdjust="spacingAndGlyphs">30</text>
<text x="1181.42" y="852.2" font-size="25" textLength="27.11" lengthAdjust="spacingAndGlyphs">60</text>
<text x="1280.35" y="852.2" font-size="25" textLength="27.11" lengthAdjust="spacingAndGlyphs">90</text>
<polyline points="108.1,428.0 108.3,425.0 108.6,421.1 109.0,416.3 109.4,410.8 109.8,404.7 110.1,398.2 110.4,390.7 110.7,382.2 111.0,373.0 111.4,363.8 111.8,355.0 112.2,347.2 112.7,339.7 113.3,331.8 113.9,324.4 114.5,318.3 115.2,314.0 115.8,312.4 116.4,314.0 117.1,318.3 117.7,324.4 118.3,331.8 118.9,339.7 119.4,347.2 119.9,355.0 120.3,363.8 120.6,373.1 121.0,382.2 121.3,390.8 121.7,398.2 122.0,404.8 122.4,411.0 122.7,416.6 123.0,421.3 123.4,424.9 123.9,427.1 124.5,427.4 125.2,425.9 125.9,423.3 126.6,420.2 127.3,417.3 128.0,415.4 128.6,414.6 129.1,414.4 129.6,414.5 130.1,414.4 130.6,413.6 131.2,411.7 131.6,408.0 132.1,402.6 132.6,396.5 133.1,390.9 133.6,386.7 134.1,385.1 134.7,386.6 135.3,390.5 135.9,395.9 136.6,401.8 137.2,407.4 137.9,411.7 138.6,415.3 139.4,418.9 140.1,422.2 140.9,424.7 141.7,426.2 142.4,426.2 143.2,424.0 144.0,419.7 144.8,414.3 145.5,408.8 146.3,404.3 147.0,401.8 147.6,401.5 148.2,402.5 148.8,404.5 149.4,407.0 150.0,409.5 150.6,411.7 151.1,414.2 151.6,417.3 152.0,420.4 152.5,423.1 153.0,424.6 153.7,424.4 154.6,421.6 155.6,416.5 156.6,410.2 157.7,404.0 158.7,399.0 159.6,396.4 160.3,396.5 161.0,398.5 161.6,401.7 162.2,405.4 162.7,409.0 163.2,411.7 163.7,413.9 164.1,416.0 164.6,418.0 165.0,419.7 165.4,421.1 165.9,422.1 166.5,422.6 167.1,422.5 167.7,422.1 168.4,421.6 169.0,421.3 169.5,421.2 170.0,421.8 170.4,422.7 170.7,423.8 171.1,424.7 171.6,425.2 172.2,424.8 173.0,423.3 174.0,420.6 175.0,417.5 176.1,414.6 177.1,412.5 178.1,411.7 179.0,413.1 179.8,416.1 180.6,420.0 181.4,423.8 182.2,426.6 183.1,427.6 184.0,426.0 185.1,422.6 186.1,418.1 187.1,413.7 188.1,410.4 188.9,409.0 189.6,410.6 190.2,414.5 190.7,419.4 191.1,424.0 191.6,427.2 192.1,427.6 192.7,423.9 193.2,417.0 193.8,408.6 194.4,400.5 195.1,394.3 195.7,391.9 196.4,394.3 197.1,400.3 197.9,408.4 198.7,416.7 199.4,423.7 200.2,427.6 201.0,427.8 201.9,425.5 202.7,421.8 203.6,417.9 204.4,414.8 205.2,413.6 205.9,414.9 206.5,417.9 207.2,421.8 207.8,425.6 208.5,428.3 209.3,428.8 210.2,426.7 211.2,422.3 212.2,416.7 213.3,411.3 214.3,407.2 215.1,405.4 215.8,407.0 216.4,411.0 216.9,416.2 217.4,421.6 217.8,425.7 218.3,427.6 218.7,426.3 219.1,422.7 219.4,417.9 219.8,413.2 220.3,409.5 221.0,408.1 222.0,409.6 223.1,413.0 224.4,417.5 225.8,422.3 227.1,426.4 228.2,428.8 229.2,428.8 230.1,428.8 231.0,428.5 231.8,427.2 232.7,426.0 233.6,425.3 234.6,424.9 235.7,424.5 236.7,424.1 237.8,423.9 238.9,423.8 240.0,423.9 241.0,424.4 242.0,425.2 243.1,426.1 244.1,427.0 245.2,427.7 246.3,428.0 247.4,427.8 248.6,427.1 249.9,426.3 251.1,425.4 252.3,424.7 253.5,424.4 254.6,424.5 255.7,424.9 256.7,425.5 257.7,426.2 258.8,426.7 260.0,427.1 261.3,427.3 262.6,427.3 264.0,427.3 265.4,427.2 266.7,427.1 268.0,427.0 269.2,426.8 270.4,426.5 271.6,426.1 272.7,425.8 273.8,425.6 275.0,425.5 276.2,425.7 277.3,426.0 278.4,426.5 279.6,426.9 280.8,427.3 282.0,427.5 283.3,427.5 284.6,427.3 286.0,427.0 287.4,426.8 288.7,426.6 290.0,426.5 291.2,426.6 292.4,427.0 293.5,427.3 294.6,427.7 295.8,427.9 297.0,428.0 298.3,427.8 299.6,427.4 301.0,426.9 302.4,426.4 303.7,426.0 305.0,425.8 306.2,425.9 307.4,426.1 308.5,426.5 309.6,426.9 310.8,427.1 312.0,427.2 313.3,427.0 314.5,426.6 315.8,426.1 317.1,425.6 318.5,425.2 320.0,425.0 321.6,425.0 323.3,425.1 325.0,425.2 326.7,425.5 328.4,425.7 330.0,426.0 331.5,426.3 332.9,426.7 334.2,427.2 335.5,427.6 336.7,427.9 338.0,428.0 339.2,427.9 340.4,427.7 341.6,427.3 342.7,426.9 343.8,426.6 345.0,426.5 346.2,426.5 347.3,426.7 348.4,426.9 349.6,427.2 350.8,427.4 352.0,427.5 353.3,427.5 354.6,427.3 355.9,427.1 357.3,427.0 358.7,426.8 360.0,426.8 361.3,426.9 362.7,427.1 364.0,427.3 365.3,427.6 366.7,427.7 368.0,427.8 369.3,427.7 370.7,427.5 372.0,427.2 373.3,426.8 374.7,426.6 376.0,426.5 377.3,426.6 378.7,426.7 380.0,426.9 381.3,427.2 382.7,427.4 384.0,427.5 385.3,427.5 386.7,427.4 388.0,427.3 389.3,427.1 390.7,427.0 392.0,427.0 393.4,427.0 395.0,427.1 396.5,427.2 397.9,427.3 399.1,427.4 400.0,427.5" fill="none" stroke="#ff0000" stroke-width="2.2" stroke-linejoin="round" stroke-linecap="round" clip-path="url(#cE)"/>
<polyline points="108.1,425.3 108.5,417.8 109.0,406.4 109.7,393.4 110.3,381.0 111.0,371.5 111.6,367.1 112.1,369.9 112.5,378.5 113.0,390.1 113.4,401.5 113.9,409.9 114.3,412.2 114.6,407.4 115.0,397.7 115.3,385.0 115.6,371.0 115.9,357.8 116.3,347.2 116.6,338.2 116.9,329.3 117.2,321.0 117.5,314.2 117.8,309.6 118.1,307.9 118.3,309.5 118.5,313.8 118.7,320.4 119.0,328.5 119.3,337.6 119.7,347.2 120.2,359.2 120.9,374.5 121.7,390.9 122.5,405.9 123.2,417.2 123.9,422.6 124.5,419.4 125.1,409.2 125.6,395.2 126.2,381.1 126.8,370.2 127.5,366.2 128.4,370.6 129.5,381.2 130.6,395.1 131.7,409.4 132.7,421.3 133.6,428.0 134.3,428.4 135.0,424.5 135.6,418.2 136.1,411.3 136.7,405.7 137.2,403.2 137.7,404.5 138.2,408.6 138.7,413.8 139.2,418.9 139.6,422.5 140.2,423.0 140.8,419.6 141.4,413.1 142.1,405.1 142.7,396.9 143.4,390.2 144.0,386.5 144.5,386.3 145.0,388.6 145.5,392.3 146.0,396.4 146.5,399.8 147.0,401.4 147.5,401.5 148.1,401.0 148.6,399.8 149.2,397.9 149.7,394.9 150.1,391.0 150.4,386.2 150.7,380.7 150.8,374.3 151.0,366.7 151.3,357.7 151.6,347.2 152.2,332.3 152.8,312.8 153.5,291.9 154.2,272.9 154.9,259.1 155.5,253.7 156.1,258.6 156.7,271.5 157.3,289.6 157.9,310.1 158.5,330.2 159.1,347.2 159.8,363.2 160.5,380.9 161.1,398.2 161.8,413.2 162.5,423.6 163.2,427.6 163.9,423.1 164.6,411.5 165.3,395.4 166.0,377.6 166.7,360.6 167.3,347.2 167.8,336.2 168.2,325.1 168.5,315.0 168.9,306.6 169.2,301.0 169.5,298.9 169.9,301.0 170.2,306.8 170.4,315.2 170.8,325.4 171.1,336.3 171.5,347.2 171.9,359.6 172.4,374.6 172.9,390.4 173.4,405.2 174.1,417.1 174.9,424.4 176.0,425.6 177.3,421.8 178.7,415.2 180.2,407.8 181.6,401.6 182.9,398.7 184.1,399.6 185.2,402.9 186.2,407.3 187.3,411.9 188.3,415.4 189.4,416.7 190.5,414.9 191.5,410.9 192.6,405.7 193.7,400.7 194.7,397.2 195.7,396.4 196.6,399.1 197.5,404.6 198.4,411.6 199.2,418.6 200.1,424.5 201.1,428.0 202.3,428.6 203.5,427.1 204.9,424.6 206.1,421.6 207.3,419.2 208.4,418.1 209.1,418.7 209.6,420.4 210.0,422.6 210.5,424.6 211.1,425.7 212.0,425.3 213.2,422.5 214.7,417.6 216.4,411.9 218.1,406.3 219.6,402.2 221.0,400.5 222.1,401.9 223.1,405.7 224.0,410.8 224.8,416.3 225.6,421.0 226.4,423.9 227.2,424.9 228.0,424.5 228.8,423.5 229.5,422.2 230.2,421.1 230.9,420.8 231.6,421.3 232.2,422.4 232.8,423.7 233.3,425.0 233.9,425.9 234.5,426.2 235.1,425.6 235.7,424.2 236.3,422.5 237.0,420.8 237.7,419.5 238.6,419.0 239.7,419.4 241.0,420.6 242.4,422.2 243.8,423.8 245.1,425.0 246.3,425.3 247.2,424.5 248.0,422.8 248.8,420.7 249.5,418.6 250.1,417.0 250.8,416.3 251.5,416.8 252.1,418.3 252.8,420.3 253.4,422.2 253.9,423.8 254.4,424.4 254.8,423.9 255.1,422.5 255.4,420.8 255.6,418.9 255.8,417.4 256.0,416.5 256.2,416.3 256.4,416.6 256.5,417.2 256.7,417.9 256.9,418.7 257.1,419.4 257.4,420.1 257.7,420.9 258.1,421.8 258.4,422.7 258.7,423.4 259.0,424.0 259.2,424.5 259.4,424.9 259.5,425.3 259.6,425.5 259.8,425.5 260.0,425.3 260.3,424.7 260.6,423.6 260.9,422.4 261.2,421.2 261.6,420.3 262.0,420.0 262.4,420.5 262.9,421.5 263.3,422.9 263.8,424.2 264.4,425.4 265.0,426.0 265.7,425.9 266.5,425.4 267.3,424.7 268.2,423.9 269.1,423.2 270.0,423.0 270.9,423.3 271.9,423.9 272.9,424.7 273.9,425.5 274.9,426.1 276.0,426.5 277.1,426.5 278.3,426.3 279.4,425.9 280.6,425.5 281.8,425.2 283.0,425.0 284.2,425.0 285.3,425.1 286.4,425.3 287.6,425.5 288.8,425.8 290.0,426.0 291.3,426.3 292.6,426.6 294.0,427.0 295.4,427.3 296.7,427.5 298.0,427.5 299.2,427.2 300.4,426.7 301.6,426.0 302.7,425.3 303.8,424.8 305.0,424.5 306.2,424.5 307.4,424.7 308.6,425.0 309.7,425.3 310.9,425.7 312.0,426.0 313.1,426.3 314.1,426.6 315.1,427.0 316.1,427.3 317.1,427.5 318.0,427.5 318.9,427.3 319.7,427.0 320.6,426.5 321.4,426.0 322.2,425.7 323.0,425.5 323.8,425.7 324.7,426.2 325.6,426.8 326.4,427.3 327.2,427.4 328.0,427.0 328.7,425.7 329.3,423.6 330.0,421.2 330.5,418.9 331.1,417.2 331.7,416.5 332.3,417.2 332.8,418.8 333.3,421.1 333.8,423.5 334.4,425.6 335.0,427.0 335.7,427.7 336.4,428.0 337.1,428.0 337.9,427.9 338.9,427.6 340.0,427.5 341.4,427.4 343.1,427.1 344.9,426.9 346.7,426.6 348.4,426.3 350.0,426.0 351.3,425.7 352.6,425.3 353.7,425.0 354.8,424.7 355.9,424.5 357.0,424.5 358.2,424.8 359.3,425.3 360.4,425.9 361.6,426.5 362.8,427.1 364.0,427.5 365.3,427.7 366.6,427.8 367.9,427.9 369.3,427.9 370.7,427.8 372.0,427.8 373.3,427.7 374.7,427.7 376.0,427.6 377.3,427.4 378.7,427.2 380.0,427.0 381.4,426.7 382.7,426.2 384.1,425.7 385.5,425.3 386.8,424.9 388.0,424.8 389.1,424.9 390.1,425.3 391.1,425.7 392.1,426.2 393.0,426.7 394.0,427.0 395.1,427.2 396.2,427.3 397.4,427.4 398.4,427.4 399.3,427.5 400.0,427.5" fill="none" stroke="#0070c0" stroke-width="2.2" stroke-linejoin="round" stroke-linecap="round" clip-path="url(#cE)"/>
<path d="M108 347.4V428.3M99.2 428.3H400M99.2 347.4H108M99.2 428.3H108M108 428.3V437.1M254 428.3V437.1M400 428.3V437.1" stroke="#000" stroke-width="1.7" fill="none"/>
<text x="34.57" y="355.42" font-size="25" textLength="47.44" lengthAdjust="spacingAndGlyphs">0.05</text>
<text x="68.33" y="436.32" font-size="25" textLength="13.56" lengthAdjust="spacingAndGlyphs">0</text>
<text x="101.17" y="472.6" font-size="25" textLength="13.56" lengthAdjust="spacingAndGlyphs">0</text>
<text x="237.06" y="472.6" font-size="25" textLength="33.89" lengthAdjust="spacingAndGlyphs">0.5</text>
<text x="392.87" y="472.35" font-size="25" textLength="13.56" lengthAdjust="spacingAndGlyphs">1</text>
<polyline points="998.6,428.5 999.0,428.5 999.4,428.5 1000.0,428.5 1000.7,428.5 1001.4,428.5 1002.2,428.5 1003.2,422.6 1004.2,413.0 1005.4,402.1 1006.6,391.8 1007.6,384.0 1008.5,380.6 1009.2,382.9 1009.7,389.6 1010.2,398.7 1010.6,408.6 1011.1,417.3 1011.7,423.1 1012.6,425.8 1013.5,427.0 1014.6,427.1 1015.7,426.5 1016.7,425.6 1017.6,424.9 1018.3,423.9 1019.0,422.3 1019.6,420.5 1020.1,418.7 1020.7,417.3 1021.2,416.7 1021.7,417.1 1022.1,418.1 1022.6,419.5 1023.0,421.2 1023.4,422.7 1023.9,424.0 1024.4,425.2 1024.9,426.5 1025.4,427.9 1025.9,428.5 1026.4,428.5 1027.1,428.5 1027.7,427.3 1028.5,424.4 1029.3,421.0 1030.1,417.6 1030.9,414.9 1031.6,413.6 1032.2,413.8 1032.7,415.0 1033.2,417.0 1033.7,419.3 1034.2,421.4 1034.7,423.1 1035.3,424.4 1035.8,425.9 1036.3,427.2 1036.8,428.3 1037.4,428.5 1037.9,428.5 1038.4,428.0 1038.9,426.3 1039.4,424.1 1040.0,421.9 1040.5,420.2 1041.0,419.5 1041.6,419.9 1042.1,421.4 1042.7,423.3 1043.3,425.2 1043.9,426.6 1044.7,427.1 1045.5,426.4 1046.5,424.7 1047.6,422.5 1048.6,420.3 1049.6,418.6 1050.5,417.7 1051.3,417.7 1052.0,418.4 1052.7,419.5 1053.3,420.8 1054.0,422.1 1054.6,423.1 1055.2,423.8 1055.8,424.6 1056.4,425.3 1057.0,425.9 1057.6,426.4 1058.2,426.7 1058.8,426.7 1059.3,426.3 1059.9,425.9 1060.5,425.4 1061.1,425.0 1061.8,424.9 1062.6,425.1 1063.5,425.5 1064.4,426.0 1065.3,426.5 1066.3,426.8 1067.2,426.7 1068.3,426.1 1069.3,425.1 1070.5,423.8 1071.5,422.6 1072.6,421.7 1073.6,421.3 1074.4,421.4 1075.3,422.0 1076.0,422.8 1076.8,423.7 1077.4,424.6 1078.1,425.3 1078.6,425.9 1079.1,426.5 1079.5,427.1 1079.9,427.6 1080.3,427.9 1080.8,428.0 1081.3,427.9 1081.8,427.5 1082.3,426.9 1082.8,426.4 1083.4,426.0 1083.9,425.8 1084.6,425.9 1085.2,426.3 1085.9,426.9 1086.6,427.4 1087.3,427.8 1088.0,428.0 1088.7,428.1 1089.5,428.2 1090.3,428.2 1091.1,428.0 1091.8,427.5 1092.5,426.7 1093.2,425.2 1093.8,423.0 1094.4,420.5 1095.0,418.2 1095.5,416.5 1096.1,415.8 1096.8,416.5 1097.4,418.2 1098.0,420.4 1098.7,422.9 1099.2,425.1 1099.7,426.7 1100.1,427.6 1100.4,428.2 1100.6,428.5 1100.8,428.5 1101.1,428.5 1101.5,428.5 1102.1,428.5 1102.8,428.5 1103.5,428.3 1104.3,427.9 1105.2,427.5 1106.1,427.1 1107.0,426.8 1108.0,426.5 1109.1,426.2 1110.1,425.9 1111.3,425.8 1112.4,425.8 1113.5,426.0 1114.5,426.4 1115.6,427.0 1116.8,427.5 1118.1,427.9 1119.6,428.0 1121.5,427.8 1123.7,427.3 1126.1,426.7 1128.4,426.0 1130.5,425.5 1132.2,425.3 1133.3,425.5 1134.0,426.0 1134.3,426.7 1134.8,427.3 1135.5,427.8 1136.8,428.0 1138.8,427.9 1141.5,427.5 1144.5,427.0 1147.5,426.5 1150.1,426.0 1152.1,425.8 1153.3,425.7 1153.8,425.8 1154.1,426.0 1154.2,426.3 1154.4,426.5 1155.0,426.7 1155.9,426.8 1157.0,427.0 1158.2,427.2 1159.4,427.3 1160.7,427.5 1162.0,427.5 1163.3,427.5 1164.5,427.3 1165.8,427.1 1167.1,427.0 1168.5,426.8 1170.0,426.8 1171.6,426.9 1173.2,427.1 1174.9,427.3 1176.6,427.6 1178.3,427.7 1180.0,427.8 1181.7,427.7 1183.3,427.5 1185.0,427.3 1186.7,427.1 1188.3,426.9 1190.0,426.8 1191.7,426.8 1193.3,427.0 1195.0,427.2 1196.7,427.4 1198.3,427.5 1200.0,427.6 1201.7,427.6 1203.3,427.5 1205.0,427.3 1206.7,427.1 1208.3,427.0 1210.0,427.0 1211.6,427.1 1213.3,427.2 1214.9,427.4 1216.5,427.6 1218.2,427.8 1220.0,427.8 1221.9,427.7 1224.0,427.5 1226.1,427.2 1228.2,426.9 1230.2,426.7 1232.0,426.6 1233.5,426.7 1234.9,426.8 1236.1,427.1 1237.3,427.3 1238.6,427.5 1240.0,427.6 1241.5,427.6 1243.1,427.5 1244.8,427.4 1246.4,427.3 1248.2,427.2 1250.0,427.2 1251.9,427.3 1253.9,427.4 1256.0,427.5 1258.1,427.7 1260.1,427.8 1262.0,427.8 1263.8,427.8 1265.5,427.6 1267.1,427.5 1268.7,427.4 1270.4,427.2 1272.0,427.2 1273.7,427.2 1275.3,427.3 1277.0,427.5 1278.7,427.6 1280.3,427.7 1282.0,427.8 1283.8,427.8 1285.7,427.8 1287.6,427.7 1289.4,427.6 1290.9,427.5 1292.0,427.5" fill="none" stroke="#ff0000" stroke-width="2.2" stroke-linejoin="round" stroke-linecap="round" clip-path="url(#cF)"/>
<polyline points="998.6,428.0 998.9,427.7 999.3,427.6 999.7,427.4 1000.2,426.3 1000.7,423.8 1001.3,419.5 1002.0,411.6 1002.7,400.5 1003.5,388.0 1004.3,376.1 1005.0,366.6 1005.7,361.7 1006.2,361.9 1006.7,366.1 1007.1,372.7 1007.6,380.5 1008.0,388.1 1008.5,394.2 1009.1,399.1 1009.7,404.1 1010.4,409.0 1011.0,413.3 1011.6,416.9 1012.2,419.5 1012.6,421.1 1012.9,421.9 1013.3,422.1 1013.6,421.4 1013.9,420.0 1014.4,417.7 1015.0,413.6 1015.7,407.5 1016.4,400.7 1017.1,394.2 1017.8,389.1 1018.5,386.5 1019.1,387.0 1019.7,389.7 1020.3,393.9 1020.9,398.6 1021.5,403.2 1022.1,406.8 1022.7,409.6 1023.3,412.4 1024.0,415.0 1024.6,417.2 1025.2,419.1 1025.7,420.4 1026.2,421.7 1026.7,423.5 1027.2,424.7 1027.6,424.8 1028.0,423.0 1028.4,418.6 1028.8,410.1 1029.2,398.0 1029.6,384.0 1029.9,369.8 1030.2,357.2 1030.4,347.7 1030.5,341.6 1030.6,337.5 1030.5,334.9 1030.5,333.3 1030.6,332.2 1030.7,331.0 1030.9,329.8 1031.2,329.1 1031.6,328.9 1031.9,329.1 1032.2,329.8 1032.5,331.0 1032.6,332.1 1032.6,333.2 1032.6,334.7 1032.6,337.3 1032.6,341.4 1032.7,347.7 1033.0,357.5 1033.2,370.8 1033.6,385.7 1033.9,400.3 1034.3,412.8 1034.7,421.3 1035.2,425.3 1035.7,426.2 1036.2,425.0 1036.8,422.7 1037.3,420.2 1037.9,418.6 1038.5,417.3 1039.0,415.4 1039.6,413.5 1040.2,411.7 1040.9,410.6 1041.5,410.4 1042.2,411.6 1042.9,413.7 1043.6,416.5 1044.4,419.5 1045.0,422.1 1045.6,424.0 1046.0,425.1 1046.3,425.9 1046.5,426.5 1046.7,426.7 1047.0,426.8 1047.4,426.7 1047.9,426.3 1048.4,425.5 1049.1,424.5 1049.7,423.5 1050.4,422.6 1051.0,422.2 1051.6,422.3 1052.2,422.8 1052.8,423.5 1053.4,424.2 1054.0,424.4 1054.6,424.0 1055.2,422.5 1055.7,420.2 1056.2,417.5 1056.7,414.9 1057.4,412.8 1058.2,411.8 1059.2,411.9 1060.3,412.9 1061.6,414.4 1062.9,416.2 1064.2,418.0 1065.4,419.5 1066.7,420.8 1068.0,422.1 1069.4,423.5 1070.6,424.7 1071.8,425.8 1072.7,426.7 1073.3,427.4 1073.6,427.9 1073.8,428.3 1074.0,428.5 1074.2,428.5 1074.5,428.0 1074.9,427.1 1075.3,425.5 1075.8,423.7 1076.2,421.9 1076.7,420.4 1077.2,419.5 1077.6,419.3 1078.0,419.8 1078.5,420.6 1078.9,421.3 1079.4,421.6 1079.9,421.3 1080.4,419.8 1081.0,417.4 1081.7,414.6 1082.3,412.0 1082.9,410.1 1083.5,409.5 1084.0,410.6 1084.5,412.8 1085.0,415.8 1085.4,419.1 1085.8,421.9 1086.2,424.0 1086.5,425.2 1086.8,426.0 1087.1,426.5 1087.4,426.8 1087.7,426.8 1088.0,426.7 1088.4,426.2 1088.7,425.3 1089.1,424.2 1089.5,423.1 1089.9,422.2 1090.3,421.7 1090.6,421.8 1091.0,422.2 1091.3,422.8 1091.7,423.6 1092.1,424.3 1092.5,424.9 1093.0,425.4 1093.5,425.9 1094.0,426.3 1094.6,426.7 1095.3,427.0 1096.1,427.1 1097.1,427.0 1098.2,426.5 1099.4,426.0 1100.7,425.4 1102.0,425.0 1103.4,424.9 1104.7,425.1 1106.2,425.6 1107.6,426.3 1109.2,426.9 1110.8,427.4 1112.4,427.6 1114.1,427.3 1116.0,426.7 1117.9,425.9 1119.8,425.1 1121.6,424.6 1123.2,424.4 1124.7,424.8 1126.0,425.7 1127.2,426.7 1128.3,427.8 1129.4,428.5 1130.4,428.5 1131.4,428.5 1132.4,428.0 1133.3,427.0 1134.1,426.0 1135.0,425.3 1135.9,424.9 1136.7,425.0 1137.4,425.4 1138.0,426.0 1138.9,426.6 1139.9,427.2 1141.3,427.6 1143.2,427.7 1145.5,427.8 1148.0,427.8 1150.6,427.7 1153.0,427.6 1155.0,427.6 1156.5,427.6 1157.7,427.6 1158.7,427.6 1159.7,427.6 1160.7,427.5 1162.0,427.5 1163.5,427.4 1165.1,427.3 1166.8,427.2 1168.6,427.1 1170.3,427.0 1172.0,427.0 1173.6,427.1 1175.2,427.2 1176.8,427.5 1178.4,427.6 1180.2,427.8 1182.0,427.8 1184.0,427.7 1186.2,427.4 1188.5,427.1 1190.8,426.8 1193.0,426.6 1195.0,426.5 1196.8,426.6 1198.6,426.7 1200.2,427.0 1201.8,427.3 1203.4,427.5 1205.0,427.6 1206.6,427.6 1208.2,427.5 1209.8,427.4 1211.4,427.3 1213.2,427.2 1215.0,427.2 1217.0,427.3 1219.1,427.4 1221.4,427.5 1223.6,427.7 1225.9,427.8 1228.0,427.8 1230.1,427.7 1232.1,427.6 1234.1,427.4 1236.0,427.2 1238.0,427.1 1240.0,427.0 1242.0,427.0 1244.0,427.2 1245.9,427.3 1247.9,427.5 1249.9,427.6 1252.0,427.7 1254.1,427.7 1256.3,427.6 1258.4,427.5 1260.6,427.4 1262.8,427.3 1265.0,427.3 1267.2,427.3 1269.3,427.4 1271.4,427.5 1273.6,427.7 1275.8,427.8 1278.0,427.8 1280.4,427.8 1283.1,427.7 1285.8,427.7 1288.3,427.6 1290.5,427.5 1292.0,427.5" fill="none" stroke="#0070c0" stroke-width="2.2" stroke-linejoin="round" stroke-linecap="round" clip-path="url(#cF)"/>
<path d="M998.8 347V428M990 428H1292.2M990 347H998.8M990 428H998.8M998.8 428V436.8M1145.5 428V436.8M1292.2 428V436.8" stroke="#000" stroke-width="1.7" fill="none"/>
<text x="925.37" y="355.02" font-size="25" textLength="47.44" lengthAdjust="spacingAndGlyphs">0.05</text>
<text x="959.12" y="436.02" font-size="25" textLength="13.56" lengthAdjust="spacingAndGlyphs">0</text>
<text x="991.97" y="472.3" font-size="25" textLength="13.56" lengthAdjust="spacingAndGlyphs">0</text>
<text x="1128.56" y="472.3" font-size="25" textLength="33.89" lengthAdjust="spacingAndGlyphs">0.5</text>
<text x="1285.07" y="472.05" font-size="25" textLength="13.56" lengthAdjust="spacingAndGlyphs">1</text>
<polyline points="105.9,1024.9 106.2,1024.9 106.7,1024.8 107.3,1024.7 107.9,1024.5 108.5,1024.0 109.0,1023.1 109.6,1021.6 110.1,1019.3 110.6,1016.8 111.1,1014.5 111.7,1012.9 112.2,1012.3 112.7,1013.2 113.3,1015.3 113.8,1018.0 114.3,1020.9 114.8,1023.3 115.3,1024.9 115.8,1025.5 116.2,1025.5 116.5,1025.5 116.9,1025.0 117.4,1024.5 118.1,1024.0 118.9,1023.5 120.0,1022.8 121.2,1022.0 122.3,1021.2 123.4,1020.6 124.4,1020.4 125.2,1020.7 125.8,1021.4 126.4,1022.2 127.0,1023.1 127.5,1023.8 128.0,1024.0 128.4,1023.8 128.8,1023.1 129.1,1022.2 129.4,1021.3 129.8,1020.6 130.2,1020.4 130.8,1020.8 131.5,1021.6 132.2,1022.7 132.9,1023.7 133.6,1024.6 134.3,1024.9 135.0,1024.7 135.7,1024.1 136.4,1023.2 137.1,1022.3 137.7,1021.6 138.4,1021.3 138.9,1021.6 139.3,1022.2 139.7,1023.0 140.1,1023.8 140.7,1024.5 141.5,1024.9 142.5,1025.0 143.7,1024.8 144.9,1024.5 146.4,1024.1 147.9,1023.8 149.7,1023.6 151.6,1023.6 153.6,1023.7 155.8,1023.8 158.2,1023.9 160.6,1024.0 163.2,1024.0 166.0,1023.9 169.1,1023.7 172.2,1023.5 175.4,1023.3 178.5,1023.1 181.3,1023.1 183.6,1023.3 185.7,1023.7 187.6,1024.2 189.6,1024.6 191.9,1024.9 194.8,1024.9 198.5,1024.7 203.0,1024.1 207.7,1023.4 212.4,1022.7 216.7,1022.1 220.1,1021.8 222.5,1021.7 224.1,1021.7 225.2,1021.9 226.2,1022.1 227.4,1022.4 229.1,1022.7 231.3,1023.0 233.8,1023.5 236.5,1024.0 239.3,1024.5 241.9,1024.8 244.5,1024.9 247.0,1024.7 249.5,1024.3 252.1,1023.7 254.4,1023.1 256.4,1022.6 258.0,1022.2 259.0,1022.1 259.4,1022.1 259.5,1022.2 259.5,1022.3 259.6,1022.5 260.0,1022.7 260.6,1022.9 261.3,1023.3 262.0,1023.7 262.9,1024.1 263.8,1024.3 265.0,1024.5 266.4,1024.5 268.0,1024.3 269.7,1024.0 271.5,1023.8 273.3,1023.6 275.0,1023.5 276.6,1023.6 278.1,1023.8 279.7,1024.0 281.3,1024.3 283.0,1024.5 285.0,1024.6 287.2,1024.6 289.6,1024.4 292.2,1024.2 294.8,1024.0 297.4,1023.9 300.0,1023.8 302.5,1023.8 305.0,1024.0 307.5,1024.1 310.0,1024.3 312.5,1024.4 315.0,1024.5 317.5,1024.5 320.0,1024.4 322.5,1024.3 325.0,1024.1 327.5,1024.0 330.0,1024.0 332.5,1024.1 335.0,1024.2 337.5,1024.3 340.0,1024.5 342.5,1024.6 345.0,1024.6 347.5,1024.5 350.0,1024.4 352.5,1024.2 355.0,1024.1 357.5,1024.0 360.0,1023.9 362.5,1023.9 365.1,1024.1 367.6,1024.2 370.1,1024.4 372.6,1024.5 375.0,1024.5 377.3,1024.4 379.6,1024.2 381.8,1024.0 384.0,1023.8 386.0,1023.6 388.0,1023.5 390.0,1023.6 391.9,1023.7 393.8,1023.9 395.5,1024.1 396.9,1024.3 398.0,1024.4" fill="none" stroke="#ff0000" stroke-width="2.2" stroke-linejoin="round" stroke-linecap="round" clip-path="url(#cK)"/>
<polyline points="105.9,1024.9 106.2,1025.3 106.7,1025.5 107.3,1025.5 107.9,1025.5 108.5,1025.5 109.0,1023.1 109.6,1017.6 110.1,1009.9 110.6,1000.8 111.1,991.7 111.7,983.4 112.2,977.1 112.7,972.5 113.2,968.8 113.7,966.0 114.2,964.2 114.7,963.3 115.2,963.5 115.6,965.1 116.1,968.1 116.5,972.1 116.9,976.7 117.3,981.5 117.6,986.1 117.9,991.1 118.1,996.9 118.3,1002.8 118.4,1008.5 118.7,1013.3 119.0,1016.8 119.3,1018.8 119.6,1019.6 120.0,1019.6 120.4,1019.1 121.0,1018.4 121.7,1017.7 122.5,1016.8 123.6,1015.3 124.7,1013.6 125.9,1012.0 127.0,1010.9 128.0,1010.5 128.9,1011.2 129.7,1012.6 130.5,1014.5 131.2,1016.5 131.9,1018.3 132.5,1019.5 133.0,1020.4 133.4,1021.1 133.7,1021.6 134.0,1021.8 134.3,1021.4 134.8,1020.4 135.3,1018.2 135.9,1014.6 136.5,1010.6 137.2,1006.8 137.8,1004.1 138.4,1003.3 138.9,1005.0 139.5,1008.7 140.0,1013.5 140.5,1018.4 141.0,1022.6 141.5,1024.9 142.0,1025.3 142.5,1024.2 142.9,1022.3 143.4,1020.3 143.8,1018.5 144.2,1017.7 144.7,1018.0 145.1,1019.0 145.5,1020.4 145.9,1021.7 146.4,1022.8 147.0,1023.1 147.6,1022.6 148.2,1021.4 149.0,1019.9 149.7,1018.4 150.4,1017.2 151.0,1016.8 151.6,1017.5 152.1,1019.1 152.6,1021.1 153.1,1022.9 153.6,1024.1 154.2,1024.0 154.8,1022.3 155.3,1019.0 156.0,1015.2 156.6,1011.4 157.2,1008.5 157.8,1007.3 158.4,1008.3 158.9,1010.7 159.5,1014.1 160.1,1017.8 160.7,1021.0 161.4,1023.1 162.2,1024.2 163.1,1024.9 164.1,1025.1 165.0,1024.9 166.0,1024.6 166.8,1024.0 167.6,1023.1 168.3,1021.5 169.0,1019.8 169.6,1018.1 170.3,1016.9 170.9,1016.4 171.4,1016.9 171.9,1018.2 172.4,1019.9 172.9,1021.7 173.4,1023.2 174.0,1024.0 174.8,1024.1 175.7,1023.6 176.6,1022.9 177.6,1022.1 178.5,1021.5 179.5,1021.3 180.4,1021.8 181.3,1022.7 182.2,1023.8 183.1,1024.9 184.0,1025.5 184.9,1025.5 185.8,1025.3 186.7,1024.1 187.7,1022.6 188.6,1021.2 189.5,1020.0 190.3,1019.5 191.0,1019.9 191.6,1020.8 192.2,1022.2 192.8,1023.5 193.4,1024.5 193.9,1024.9 194.4,1024.6 194.9,1023.7 195.4,1022.5 195.9,1021.3 196.4,1020.4 197.1,1020.0 197.8,1020.3 198.6,1021.2 199.5,1022.4 200.3,1023.6 201.2,1024.5 202.0,1024.9 202.8,1024.6 203.6,1023.8 204.3,1022.7 205.1,1021.6 205.8,1020.8 206.5,1020.4 207.3,1020.7 208.0,1021.4 208.7,1022.4 209.4,1023.4 210.2,1024.3 211.1,1024.9 212.0,1025.2 212.9,1025.3 213.9,1025.2 215.0,1025.1 216.2,1025.0 217.4,1024.9 218.7,1025.0 220.0,1025.1 221.4,1025.3 222.9,1025.4 224.6,1025.4 226.4,1025.4 228.6,1025.2 231.1,1024.9 233.7,1024.6 236.4,1024.2 238.8,1023.9 240.9,1023.6 242.5,1023.3 243.9,1023.0 245.0,1022.6 246.1,1022.4 247.1,1022.2 248.1,1022.2 249.1,1022.5 250.0,1023.0 250.8,1023.6 251.7,1024.2 252.6,1024.7 253.5,1024.9 254.5,1025.0 255.5,1024.9 256.6,1024.6 257.7,1024.4 258.8,1024.2 260.0,1024.0 261.2,1024.0 262.4,1024.1 263.7,1024.2 265.0,1024.4 266.4,1024.5 268.0,1024.5 269.8,1024.5 271.7,1024.4 273.8,1024.2 275.9,1024.1 278.0,1024.0 280.0,1024.0 282.0,1024.1 284.0,1024.2 285.9,1024.4 287.9,1024.6 289.9,1024.7 292.0,1024.8 294.1,1024.8 296.3,1024.6 298.4,1024.5 300.6,1024.3 302.8,1024.2 305.0,1024.1 307.2,1024.1 309.3,1024.2 311.4,1024.4 313.6,1024.5 315.8,1024.6 318.0,1024.7 320.3,1024.7 322.6,1024.6 324.9,1024.5 327.2,1024.3 329.6,1024.2 332.0,1024.2 334.5,1024.3 337.0,1024.4 339.6,1024.5 342.1,1024.7 344.6,1024.8 347.0,1024.8 349.3,1024.7 351.4,1024.6 353.6,1024.4 355.7,1024.2 357.8,1024.1 360.0,1024.0 362.3,1024.0 364.7,1024.1 367.1,1024.3 369.4,1024.4 371.8,1024.5 374.0,1024.6 376.1,1024.6 378.1,1024.5 380.1,1024.4 382.1,1024.3 384.0,1024.2 386.0,1024.2 388.1,1024.2 390.4,1024.3 392.8,1024.4 394.9,1024.5 396.7,1024.5 398.0,1024.6" fill="none" stroke="#0070c0" stroke-width="2.2" stroke-linejoin="round" stroke-linecap="round" clip-path="url(#cK)"/>
<path d="M106 943.7V1025M97.2 1025H398M97.2 943.7H106M97.2 1025H106M106 1025V1033.8M252 1025V1033.8M398 1025V1033.8" stroke="#000" stroke-width="1.7" fill="none"/>
<text x="32.57" y="951.73" font-size="25" textLength="47.44" lengthAdjust="spacingAndGlyphs">0.05</text>
<text x="66.33" y="1033.03" font-size="25" textLength="13.56" lengthAdjust="spacingAndGlyphs">0</text>
<text x="99.17" y="1069.3" font-size="25" textLength="13.56" lengthAdjust="spacingAndGlyphs">0</text>
<text x="235.06" y="1069.3" font-size="25" textLength="33.89" lengthAdjust="spacingAndGlyphs">0.5</text>
<text x="390.87" y="1069.05" font-size="25" textLength="13.56" lengthAdjust="spacingAndGlyphs">1</text>
<polyline points="999.4,1025.9 999.9,1025.7 1000.6,1025.5 1001.5,1025.2 1002.4,1024.8 1003.3,1024.4 1004.1,1024.1 1004.8,1023.6 1005.4,1023.0 1006.0,1022.4 1006.6,1021.9 1007.3,1021.6 1008.0,1021.5 1008.8,1021.8 1009.6,1022.5 1010.4,1023.4 1011.3,1024.2 1012.2,1025.0 1013.2,1025.4 1014.2,1025.4 1015.2,1025.2 1016.3,1024.9 1017.4,1024.5 1018.6,1024.2 1019.7,1024.1 1020.6,1024.2 1021.3,1024.5 1022.0,1024.9 1022.9,1025.3 1024.2,1025.6 1026.1,1025.6 1028.9,1025.5 1032.4,1025.1 1036.3,1024.6 1040.2,1024.1 1043.9,1023.7 1046.9,1023.6 1049.2,1023.7 1051.0,1024.0 1052.4,1024.4 1053.8,1024.8 1055.4,1025.2 1057.3,1025.4 1059.6,1025.4 1062.2,1025.4 1064.9,1025.4 1067.7,1025.2 1070.4,1025.1 1072.9,1024.9 1075.3,1024.5 1077.6,1024.1 1079.9,1023.6 1082.0,1023.2 1084.0,1022.9 1085.9,1022.8 1087.5,1023.0 1088.9,1023.5 1090.2,1024.1 1091.4,1024.7 1092.6,1025.2 1093.6,1025.4 1094.6,1025.3 1095.4,1024.9 1096.1,1024.4 1096.8,1023.9 1097.7,1023.5 1098.8,1023.3 1100.1,1023.4 1101.5,1023.8 1103.1,1024.3 1104.8,1024.8 1106.8,1025.2 1109.2,1025.4 1112.1,1025.4 1115.6,1025.2 1119.3,1024.9 1123.1,1024.6 1126.7,1024.4 1130.0,1024.3 1132.8,1024.4 1135.4,1024.7 1137.8,1025.0 1140.2,1025.3 1142.7,1025.5 1145.6,1025.6 1148.6,1025.6 1151.7,1025.4 1155.0,1025.1 1158.5,1024.9 1162.2,1024.7 1166.3,1024.6 1171.0,1024.7 1176.1,1024.9 1181.6,1025.1 1187.1,1025.4 1192.5,1025.6 1197.5,1025.6 1202.1,1025.6 1206.5,1025.4 1210.8,1025.1 1215.0,1024.9 1219.2,1024.7 1223.4,1024.6 1227.6,1024.7 1231.5,1024.8 1235.4,1025.1 1239.5,1025.3 1244.1,1025.5 1249.4,1025.6 1256.0,1025.7 1263.9,1025.6 1272.2,1025.6 1280.1,1025.5 1286.9,1025.4 1291.7,1025.4" fill="none" stroke="#ff0000" stroke-width="2.2" stroke-linejoin="round" stroke-linecap="round" clip-path="url(#cL)"/>
<polyline points="999.4,1025.9 999.9,1025.3 1000.6,1024.4 1001.5,1023.4 1002.4,1022.4 1003.3,1021.2 1004.1,1020.2 1004.8,1019.0 1005.6,1017.5 1006.3,1015.9 1007.0,1014.6 1007.7,1013.8 1008.5,1013.7 1009.3,1014.8 1010.0,1017.0 1010.8,1019.7 1011.6,1022.1 1012.4,1023.8 1013.2,1024.1 1014.0,1022.2 1014.8,1018.6 1015.6,1014.1 1016.5,1009.8 1017.4,1006.6 1018.4,1005.4 1019.2,1006.7 1020.0,1009.9 1020.9,1014.2 1021.9,1018.8 1023.2,1022.8 1024.8,1025.4 1027.1,1026.4 1029.8,1026.4 1032.7,1026.4 1035.8,1025.8 1038.9,1025.2 1041.7,1024.9 1044.5,1024.8 1047.3,1024.6 1050.1,1024.5 1052.7,1024.4 1055.2,1024.4 1057.3,1024.3 1059.1,1024.4 1060.6,1024.5 1061.8,1024.7 1063.0,1024.8 1064.0,1024.9 1065.1,1024.9 1066.1,1024.6 1067.0,1024.2 1067.8,1023.7 1068.6,1023.2 1069.4,1022.9 1070.3,1022.8 1071.1,1023.0 1072.0,1023.6 1072.9,1024.3 1073.7,1025.0 1074.6,1025.4 1075.5,1025.4 1076.3,1024.8 1077.1,1023.6 1077.9,1022.3 1078.7,1021.0 1079.6,1020.0 1080.7,1019.7 1081.8,1020.1 1082.9,1021.2 1084.2,1022.7 1085.5,1024.1 1086.9,1025.3 1088.5,1025.9 1090.2,1025.8 1092.3,1025.1 1094.4,1024.2 1096.5,1023.3 1098.4,1022.6 1100.1,1022.3 1101.5,1022.5 1102.7,1023.1 1103.7,1024.0 1104.7,1024.8 1105.6,1025.5 1106.6,1025.9 1107.7,1025.9 1108.8,1025.7 1109.9,1025.3 1111.0,1024.8 1112.0,1024.5 1113.1,1024.3 1114.1,1024.4 1115.0,1024.7 1116.0,1025.0 1117.0,1025.3 1118.1,1025.6 1119.6,1025.6 1121.5,1025.5 1123.6,1025.2 1126.0,1024.8 1128.4,1024.5 1130.6,1024.2 1132.6,1024.1 1134.1,1024.2 1135.4,1024.5 1136.6,1024.8 1137.7,1025.2 1138.9,1025.5 1140.4,1025.6 1142.1,1025.6 1144.1,1025.3 1146.1,1025.0 1148.2,1024.7 1150.2,1024.4 1152.1,1024.3 1153.6,1024.4 1154.8,1024.7 1156.0,1025.0 1157.3,1025.3 1159.0,1025.5 1161.1,1025.6 1164.0,1025.6 1167.4,1025.4 1171.1,1025.1 1174.9,1024.9 1178.6,1024.7 1181.9,1024.6 1184.7,1024.7 1187.1,1024.9 1189.4,1025.1 1191.7,1025.3 1194.4,1025.5 1197.5,1025.6 1201.2,1025.6 1205.4,1025.5 1209.8,1025.4 1214.4,1025.3 1219.0,1025.2 1223.4,1025.1 1227.6,1025.2 1231.5,1025.2 1235.4,1025.3 1239.5,1025.5 1244.1,1025.6 1249.4,1025.6 1256.0,1025.7 1263.9,1025.7 1272.2,1025.7 1280.1,1025.7 1286.9,1025.6 1291.7,1025.6" fill="none" stroke="#0070c0" stroke-width="2.2" stroke-linejoin="round" stroke-linecap="round" clip-path="url(#cL)"/>
<path d="M999.4 944.9V1025.9M990.6 1025.9H1291.7M990.6 944.9H999.4M990.6 1025.9H999.4M999.4 1025.9V1034.7M1145.55 1025.9V1034.7M1291.7 1025.9V1034.7" stroke="#000" stroke-width="1.7" fill="none"/>
<text x="925.97" y="952.92" font-size="25" textLength="47.44" lengthAdjust="spacingAndGlyphs">0.05</text>
<text x="959.73" y="1033.93" font-size="25" textLength="13.56" lengthAdjust="spacingAndGlyphs">0</text>
<text x="992.57" y="1070.2" font-size="25" textLength="13.56" lengthAdjust="spacingAndGlyphs">0</text>
<text x="1128.61" y="1070.2" font-size="25" textLength="33.89" lengthAdjust="spacingAndGlyphs">0.5</text>
<text x="1284.57" y="1069.95" font-size="25" textLength="13.56" lengthAdjust="spacingAndGlyphs">1</text>
<polyline points="740.4,252.0 739.2,246.4 737.1,243.1 734.4,244.1 731.6,249.5 728.8,256.7 724.9,263.4 721.0,268.3 717.1,270.6 711.9,270.9 704.0,270.4 694.3,270.1 684.6,269.9 675.3,269.0 666.9,266.5 659.0,262.1 651.4,259.3 644.6,259.9 638.6,263.0 634.2,269.3 630.9,277.4 627.5,287.0 623.6,298.7 618.8,311.0 614.1,321.4 612.0,327.4 612.2,330.9 613.7,335.1 617.5,340.9 623.2,346.9 630.9,349.2 639.6,346.4 648.1,340.1 656.0,332.3 662.7,324.6 668.5,318.0 672.9,311.6 675.5,303.3 677.0,294.1 677.8,285.5 677.0,278.4 673.8,273.2 669.6,270.6 666.1,270.2 665.8,271.5 668.4,272.4 671.9,269.9 674.8,262.3 677.1,249.1 679.6,233.1 683.2,216.9 687.3,201.2 690.3,185.5 691.9,175.6 693.2,171.9 694.7,170.0 695.0,170.5 693.7,173.4 691.9,178.0 689.8,194.5 688.7,213.5 687.4,232.6 686.3,251.1 687.1,270.0 691.4,290.7 699.3,311.9 709.5,330.2 719.5,342.4 728.0,346.6 734.0,342.5 737.9,333.3 740.4,322.2 740.3,311.8 737.8,303.2 734.4,295.8 730.8,288.9 725.5,282.2 717.6,276.6 707.8,272.6 698.7,268.9 692.4,265.1 690.4,262.6 692.1,261.1 695.4,261.0 697.4,261.6 697.8,262.6 698.3,264.7 699.8,268.7 701.4,274.5 702.4,282.6 702.2,292.4 701.7,302.8 701.0,313.9 699.5,324.3 697.5,332.0 694.8,337.7 692.4,341.5 690.3,343.1 689.0,343.9 688.5,345.0 688.3,346.2 687.6,346.3 686.7,345.1 686.3,341.0 685.7,332.7 684.6,319.9 684.4,303.6 686.7,285.4 691.8,268.0 698.7,252.9 706.9,242.3 715.1,236.5 721.3,233.8 723.9,232.2 723.6,230.0 722.1,228.2 720.4,229.5 717.6,233.2 713.3,237.7 707.9,242.4 702.5,247.6 698.0,254.5 693.9,263.3 690.7,273.0 689.1,283.0 687.8,292.1 686.1,299.9 683.7,306.9 680.4,313.7 676.8,319.9 674.5,323.1 674.7,322.9 677.2,321.3 680.9,320.8 683.9,320.7 683.5,319.6 679.2,318.5 673.3,319.4 667.0,321.3 661.5,322.8 657.2,324.2 654.0,325.6 651.9,327.6 651.9,330.2 653.6,332.9 656.9,333.9 662.1,333.9 668.8,335.0 677.2,338.1 687.5,341.2 698.4,343.6 708.0,346.4 714.6,352.1 717.4,360.6 717.3,371.5 715.3,383.7 711.9,395.2 708.2,404.8 705.0,411.6 702.8,415.4 702.0,416.6 702.7,415.5 704.5,412.2 706.6,405.9 708.1,395.5 708.1,381.1 705.9,364.0 702.2,346.1 697.8,329.6 693.0,317.4 688.6,310.8 685.0,308.8 681.6,310.6 677.7,315.4 674.2,321.6 672.3,328.6 670.2,335.6 666.4,340.1 661.3,340.4 656.3,337.2 651.9,332.7 648.9,326.3 645.7,316.6 642.7,303.8 640.1,290.1 637.1,278.3 633.1,267.6 630.0,256.3 628.9,244.7 630.6,235.5 634.1,228.9 637.1,225.1 638.6,226.1 639.5,231.8 641.0,240.7 643.6,252.8 647.4,268.3 653.0,285.3 660.8,302.4 671.2,317.6 683.1,329.0 694.3,336.0 703.0,337.3 709.2,334.4 713.0,329.8 715.3,323.4 716.4,316.3 715.5,308.5 712.5,298.4 709.1,287.7 706.0,278.6 702.8,270.9 699.2,263.6 695.4,256.7 692.0,250.3 689.3,245.0 686.7,241.5 681.9,240.5 673.4,241.3 661.9,242.6 649.3,242.9 637.1,241.3 626.6,238.5 619.2,236.5 615.3,237.2 613.3,240.3 611.6,244.4 610.4,247.8 611.2,249.8 614.1,252.1 618.6,256.0 624.5,262.2 631.3,271.5 638.7,283.9 645.4,298.0 651.0,311.9 656.3,323.5 661.0,332.5 665.0,340.2 668.6,348.6 672.3,357.7 677.7,364.0 685.2,366.0 695.2,364.1 708.2,358.6 722.4,348.9 736.1,335.7 747.9,321.0 757.3,306.9 764.0,293.5 767.8,279.6 768.3,264.5 766.7,249.4 764.1,236.5 762.2,228.0 761.0,223.1 759.5,220.2 757.1,218.2 753.8,217.9 745.3,222.5 734.4,226.4 722.8,229.1 713.1,231.8 705.6,235.1 699.5,239.1 693.2,244.0 685.7,249.7 678.3,256.3 672.8,262.9 669.0,270.3 666.1,279.8 664.2,289.5 663.9,296.0 664.7,298.0 666.4,295.4 669.3,289.4 672.7,282.5 676.0,274.0 678.6,263.5 680.4,254.3 682.5,249.9 685.9,249.8 689.1,251.5 690.0,251.3 687.1,247.7 681.6,243.5 675.7,242.2 671.5,245.9 669.7,253.9 668.9,263.0 667.8,269.8 666.0,272.6 662.4,270.2 657.6,264.1 652.9,257.1 648.6,251.5 645.8,248.8 645.0,250.0 646.4,254.2 649.0,258.4 651.9,259.9 655.0,257.1 658.4,251.8 662.0,246.4 665.0,241.1 666.5,235.6 666.7,231.9 666.5,233.1 667.1,240.0 668.3,250.1 671.8,260.4 678.1,270.5 685.5,279.1 691.7,286.3 695.3,292.7 696.7,296.8 697.6,296.6 698.8,293.5 699.9,288.9 701.0,283.8 703.3,279.7 706.6,277.2 709.5,275.6 711.1,273.9 711.3,272.0 710.9,271.2 711.8,272.0 715.1,273.0 719.4,274.4 723.8,277.6 728.6,283.9 732.6,293.5 733.8,305.3 732.2,317.7 728.5,329.4 724.1,338.2 719.4,343.4 713.7,345.2 707.0,343.5 699.7,339.3 692.0,334.7 684.2,329.0 677.3,321.8 670.6,315.0 664.7,309.5 661.3,304.9 660.6,301.7 663.0,299.9 667.2,299.1 673.4,299.4 681.2,300.4 687.4,301.1 691.1,301.3 693.4,301.1 695.2,299.1 696.0,295.6 695.9,292.6 695.2,292.2 693.5,295.7 691.2,301.1 689.2,307.5 687.9,315.0 686.8,322.1 686.1,327.2 685.5,329.1 685.7,327.6 687.5,321.9 690.6,312.5 693.3,302.9 694.9,296.2 696.1,293.8 697.0,296.5 698.3,305.5 699.5,320.2 700.2,337.5 700.1,354.1 699.3,368.3 698.1,379.4 697.2,387.2 696.8,391.9 696.7,393.3 696.5,392.1 695.6,389.1 693.6,385.2 690.7,380.5 687.4,374.9 684.5,368.5 681.7,360.5 679.0,350.4 675.9,339.6 671.7,328.1 667.1,315.4 663.1,301.5 660.6,286.3 659.5,270.7 658.9,255.5 659.4,242.2 662.0,231.4 667.0,223.9 673.9,220.1 681.3,219.9 688.5,223.3 694.0,230.5 697.7,239.6 700.5,249.7 703.2,261.1 705.5,273.9 706.8,287.0 708.0,299.4 709.1,308.9 708.4,314.7 704.5,317.0 697.6,317.1 689.3,316.1 680.6,314.5 672.2,313.5 664.6,314.3 658.2,316.2 652.5,318.5 646.0,320.5 638.2,323.0 630.9,326.1 626.6,328.2 625.2,327.9 625.3,325.8 626.3,322.9 627.9,319.5 629.5,316.1 631.1,313.2 632.3,311.0 632.8,309.0 631.6,305.9 629.7,301.1 628.9,296.1 629.5,293.3 630.7,292.9 632.0,294.8 632.9,299.2 633.8,306.9 636.0,319.4 640.0,337.2 644.5,357.7 651.2,372.7 658.1,381.3 664.3,388.0 671.1,393.0 679.3,395.6 687.1,395.3 692.8,392.4 696.0,387.9 697.0,382.7 696.3,377.4 694.2,368.0 691.7,355.6 690.6,347.0 690.4,341.9 690.4,337.5 690.1,332.7 689.5,328.4 688.8,323.7 688.2,317.1 688.3,309.0 689.5,302.3 691.3,299.6 692.3,299.1 691.4,297.9 690.1,296.6 689.0,295.9 686.7,294.6 683.3,291.9 678.8,288.0 673.0,283.1 667.1,276.4 661.7,267.4 656.9,257.4 654.1,248.0 653.3,241.3 652.3,237.5 649.2,236.3 645.3,239.5 641.2,247.0 636.8,256.4 633.3,265.8 631.4,273.8 630.6,279.9 630.2,283.9 630.7,285.5 632.3,285.3 634.9,284.7 637.9,284.8 640.9,284.4 643.6,282.2 645.7,278.4 646.6,273.9 646.2,268.9 645.8,264.2 644.4,259.9 641.7,256.9 639.7,255.3 640.7,255.4 645.2,256.3 651.6,256.0 658.5,253.1 664.3,247.5 667.1,240.8 667.6,236.4 668.1,235.2 670.3,237.2 673.5,242.7 676.9,252.9 679.3,265.9 680.0,280.1 679.4,295.6 678.0,311.6 676.6,326.9 675.6,340.5 675.1,352.3 675.0,362.3 675.1,370.3 675.3,375.7 675.5,377.8 675.3,375.5 675.1,369.0 674.7,359.0 673.8,346.9 671.9,334.7 669.3,324.0 666.5,315.8 663.7,310.4 660.8,308.1 657.9,309.6 655.7,314.2 655.5,318.4 657.5,319.9 660.0,318.1 662.3,314.2 665.2,310.6 668.9,307.5 673.2,303.1 677.7,295.1 682.0,282.1 686.1,264.4 690.8,242.8 695.3,218.6 697.9,195.8 698.2,178.1 696.3,172.9 695.0,169.7 694.9,169.1 694.5,170.8 693.1,173.8 691.5,177.2 690.7,183.9 690.1,190.7 688.1,198.9 683.3,209.9 675.6,221.7 666.7,232.7 657.9,241.8 650.2,249.4 644.0,257.0 639.9,264.7 636.7,271.8 632.4,277.1 627.0,280.6 621.6,283.3 618.1,287.5 618.8,294.6 623.8,303.3 632.1,312.1 641.9,321.5 651.9,330.6 660.1,335.8 665.8,335.4 669.6,332.0 672.0,327.9 672.5,326.5 671.3,328.6 670.1,333.3 670.0,340.6 670.2,348.4 670.4,355.9 670.6,364.7 670.0,374.4 668.6,378.1 666.0,380.1 662.3,380.4 657.5,378.6 651.9,374.8 646.8,368.4 646.5,355.6 652.2,340.6 661.3,327.6 671.7,316.4 681.3,306.7 690.6,300.9 700.6,298.4 710.5,295.0 720.2,288.3 728.9,279.6 737.7,269.9 747.5,260.1 757.7,251.4 765.6,245.8 767.9,245.4 769.7,246.4 771.1,249.3 772.1,253.8 772.2,258.6 771.2,261.9 769.4,261.5 766.5,255.4 759.6,246.2 752.4,237.2 745.0,231.3 736.1,229.7 724.8,233.1 712.1,240.9 700.4,251.9 691.7,266.1 685.5,282.4 680.6,299.1 676.2,312.5 672.8,321.5 671.0,328.9 670.9,335.9 673.2,341.1 677.0,344.4 680.0,345.5 681.3,344.0 681.7,339.4 682.7,330.4 684.2,317.4 686.0,303.4 688.2,290.7 690.0,278.8 690.9,264.9 692.0,249.0 695.0,232.4 699.2,215.9 703.7,199.4 707.5,185.1 708.0,178.8 705.3,177.7 701.2,179.4 696.2,188.1 692.1,198.0 688.3,209.7 685.0,221.4 682.2,230.3 680.0,236.4 679.6,241.7 680.4,247.7 681.3,253.7 681.6,259.1 681.8,263.0 682.0,266.2 681.6,270.6 680.4,275.2 678.2,279.0 676.5,281.7 675.8,283.3 676.0,285.4 677.0,291.1 677.5,301.1 676.1,313.1 672.6,322.7 668.4,329.5 665.2,335.0 662.3,338.6 659.5,340.2 658.6,340.3 660.5,339.1 663.6,336.5 666.4,333.8 668.5,330.9 670.1,327.5 672.9,325.0 677.5,324.4 682.9,324.5 687.9,323.2 692.6,318.3 698.3,310.5 704.5,302.9 710.4,296.9 716.3,290.8 722.4,282.7 730.0,271.1 740.2,256.8 751.6,241.5 760.0,228.0 760.6,221.8 760.6,218.4 760.3,217.0 760.3,217.5 761.1,219.7 762.2,223.3 762.8,227.2 762.8,231.2 761.7,232.9 758.9,230.7 752.8,224.8 741.7,218.8 729.7,213.8 718.6,210.8 710.1,209.6 703.8,209.0 699.4,208.6 696.6,208.0 694.7,206.3 692.8,202.7 690.6,198.1 688.2,193.6 685.5,189.2 682.6,184.4 679.7,179.6 676.9,175.6 674.3,172.4 672.2,169.9 670.7,168.4 670.2,167.9 670.7,168.4 672.6,170.0 675.8,172.6 680.4,176.4 686.3,181.4 693.4,187.7 700.6,195.1 706.3,203.1 709.6,211.8 710.6,220.6 710.0,228.0 708.9,233.9 708.1,238.6 707.0,242.7 704.4,246.1 699.8,248.7 693.3,251.6 685.0,255.4 676.3,259.8 669.9,263.8 666.4,267.9 665.1,273.8 664.0,280.2 662.3,286.4 661.7,292.7 662.5,299.0 663.9,305.9 665.2,312.8 666.5,318.3 667.5,321.1 668.5,321.0 671.2,318.1 675.5,313.9 680.4,310.1 684.6,306.7 687.9,303.1 690.5,299.2 693.0,296.4 694.2,295.0 693.0,295.2 690.7,296.7 687.2,298.2 682.6,299.8 677.8,300.1 674.2,299.0 671.8,296.8 669.9,294.9 666.9,293.9 661.6,292.8 652.7,291.7 642.3,292.5 633.3,296.8 625.8,304.6 618.8,312.8 612.2,319.7 609.6,324.0 608.5,327.3 608.1,330.4 608.8,333.1 610.5,334.3 613.4,334.5 618.2,332.5 626.7,324.7 634.2,314.5 640.3,304.1 645.5,295.5 650.1,288.2 655.1,281.9 661.2,277.8 667.6,276.5 674.3,277.2 680.7,277.8 685.6,275.8 688.6,269.5 690.5,260.9 692.7,254.1 695.8,251.1 699.4,251.0 701.1,252.5 700.8,254.7 697.9,256.4 692.2,257.4 684.2,257.4 676.6,256.4 671.2,253.5 667.9,249.1 665.3,244.1 662.9,240.1 661.1,239.7 659.4,241.3 658.2,243.5 658.0,246.9 659.3,252.7 662.3,261.2 666.8,271.1 671.3,281.4 675.2,292.1 678.8,303.8 683.2,315.5 689.4,325.9 697.2,333.5 705.4,338.9 713.1,342.8 719.1,343.3 724.0,339.8 729.2,334.6 733.9,331.3 737.7,330.6 741.2,331.6 747.0,332.3 753.7,330.0 758.7,324.6 763.5,318.4 768.2,311.2 772.4,303.9 776.4,297.2 780.3,290.0 783.3,284.1 784.9,281.1 784.6,280.9 782.7,282.1 779.1,282.7 774.4,281.6 768.9,279.0 752.7,276.1 734.1,273.8 716.0,272.2 699.9,271.7 686.6,272.4 676.6,275.2 670.1,280.1 667.7,285.1 668.8,288.0 672.7,288.2 678.4,285.9 684.3,281.8 689.6,276.7 694.5,272.6 700.1,270.6 706.9,268.2 713.3,261.2 717.3,248.4 719.2,231.4 721.3,214.1 724.7,199.9 729.2,189.9 732.1,187.9 734.8,186.6 736.2,185.9 736.4,185.7 735.5,185.8 733.8,185.5 731.7,184.4 729.4,183.4 726.5,183.3 722.0,183.5 715.4,184.3 707.6,188.6 699.7,191.3 691.5,191.6 683.3,191.4 676.5,191.7 672.3,192.2 670.6,192.7 671.5,193.8 676.1,197.9 683.2,205.3 691.1,217.2 699.9,233.1 710.0,248.2 721.6,261.0 734.9,273.5 748.8,286.7 761.2,300.6 765.3,311.4 766.5,320.7 767.1,328.4 767.6,333.0 767.6,335.0 766.8,335.2 765.6,333.1 764.3,328.3 762.9,321.5 761.0,313.9 750.8,302.7 737.8,291.0 723.7,279.8 708.8,270.3 694.1,261.0 680.2,250.7 667.1,239.0 655.9,225.7 646.8,211.0 640.2,197.0 638.2,191.4 635.0,187.4 630.7,184.4 625.8,182.9 621.2,182.9 617.7,183.2 615.5,182.4 614.9,180.3 616.3,178.0 619.2,176.6 623.0,177.3 627.3,179.7 631.1,184.4 633.8,191.9 635.0,202.1 643.2,226.5 653.3,251.5 664.1,273.5 674.6,290.5 685.1,301.8 695.8,308.4 707.2,312.7 719.8,318.2 734.5,327.7 749.1,337.3 754.4,338.3 757.8,338.9 759.4,340.2 760.0,342.2 760.3,343.6 760.4,343.5 761.0,341.0 762.6,335.8 765.1,327.9 767.9,317.6 770.4,305.8 771.8,293.4 772.2,279.7 771.2,263.6 768.1,246.2 763.9,231.3 759.6,220.6 755.0,212.8 749.3,207.2 741.9,205.5 732.1,210.0 722.4,218.5 713.7,230.1 706.9,244.2 701.6,259.4 695.6,273.9 687.7,286.7 678.8,296.5 670.7,303.4 665.5,307.5 663.2,307.9 662.2,304.9 661.1,299.4 659.4,291.6 656.7,281.2 653.2,268.6 649.2,257.0 645.0,248.2 640.4,241.0 634.8,233.1 627.8,224.2 622.4,217.3 619.8,216.9 616.1,220.8 612.3,227.5 609.8,235.0 608.2,243.3 607.2,252.9 609.9,263.3 614.9,272.4 621.7,280.8 630.3,289.0 639.4,296.3 647.8,301.2 655.3,303.1 662.3,302.3 668.4,298.8 673.1,294.0 677.5,289.2 681.3,283.0 684.2,274.0 685.9,263.7 685.9,254.9 684.4,249.4 681.9,245.7 678.6,240.9 674.5,233.5 669.3,223.9 662.4,213.5 655.0,202.5 649.9,190.9 650.5,185.4 653.3,179.3 657.8,174.0 663.0,170.8 668.1,170.0 673.0,171.3 678.9,173.8 686.0,176.9 693.4,180.4 701.4,184.1 710.3,188.5 719.8,194.7 729.4,204.0 737.5,216.9 744.0,229.5 748.6,241.2 752.0,251.0 755.4,259.8 759.3,268.9 763.9,277.7 768.8,285.2 773.3,290.2 776.7,293.1 779.5,294.4 782.1,294.5 784.8,294.3 787.5,294.4 789.9,294.6 791.6,294.8 792.3,294.9 791.6,294.7 789.6,293.8 786.3,291.8 782.0,288.4 776.7,284.1 770.3,279.1 762.7,273.8 753.9,267.5 744.3,260.2 734.0,252.3 724.3,245.7 715.8,241.6 708.9,240.0 703.9,240.0 701.4,242.3 700.8,247.3 700.6,253.2 700.8,258.9 701.6,262.2 703.0,261.2 704.7,255.3 707.2,247.8 711.3,243.1 716.6,242.4 722.2,243.0 727.9,242.8 734.2,241.0 741.1,236.5 747.4,229.8 750.7,222.3 750.1,215.7 747.4,211.4 746.0,209.7 747.8,207.8 749.5,206.9 751.5,206.6 753.2,207.8 754.6,211.7 755.8,217.2 755.4,223.0 749.8,230.9 743.3,239.3 737.2,247.6 731.4,253.7 726.1,255.6 721.7,252.9 718.2,246.0 715.2,235.9 712.6,224.2 711.0,212.4 710.2,201.7 709.6,192.6 709.2,185.8 709.3,181.6 709.9,178.8 710.5,176.3 711.1,174.2 711.8,172.3 712.4,171.0 712.6,170.5 712.4,171.1 711.7,172.9 710.6,176.0 708.9,180.1 706.6,185.0 703.1,190.2 698.5,195.3 693.5,199.4 689.2,202.7 686.1,205.7 684.6,208.4 684.2,211.3 684.8,216.2 686.3,223.2 688.6,230.1 691.1,234.3 694.1,236.5 698.2,238.7 703.6,241.6 710.2,246.3 716.4,252.9 721.5,259.9 724.4,265.4 724.9,268.9 723.8,270.0 723.8,270.4 727.2,272.6 733.7,276.5 742.9,279.8 753.9,281.9 765.8,284.9 770.2,290.7 771.9,300.3 771.5,313.8 769.3,328.0 766.3,339.6 762.9,347.9 758.8,352.6 753.5,354.8 746.8,356.3 738.9,357.1 728.8,356.2 713.6,346.3 701.4,338.0 692.2,331.2 685.2,326.5 678.5,322.8 670.8,320.0 663.5,318.1 657.9,314.5 654.7,308.3 654.3,298.7 657.3,285.9 661.0,271.4 663.2,256.3 663.3,243.3 662.4,234.5 661.2,230.6 660.1,232.3 658.9,239.0 657.5,248.3 656.7,258.3 657.8,268.5 661.0,279.2 665.1,289.3 670.6,298.5 676.8,305.9 683.4,310.7 691.5,313.8 701.0,315.9 711.9,315.6 723.9,312.0 736.1,304.8 748.1,295.3 759.6,286.7 768.1,280.0 769.8,274.7 769.8,271.3 768.4,269.9 761.2,271.4 751.1,273.7 739.4,274.7 726.7,275.1 713.6,275.2 700.7,275.8 688.5,277.5 677.0,279.9 666.4,283.5 656.9,287.7 649.3,291.7 643.5,296.4 639.0,300.5 635.0,301.8 630.8,301.7 627.6,302.0 626.4,305.0 626.1,310.4 624.9,315.3 623.2,317.4 621.3,314.7 618.5,306.9 615.4,295.3 613.1,281.7 612.0,268.5 612.2,256.5 612.2,245.4 612.4,235.6 613.5,228.1 614.8,221.3 616.4,214.5 618.1,208.5 620.7,203.8 625.3,201.3 631.4,201.0 639.0,201.5 650.8,209.9 661.0,219.3 669.6,229.5 676.0,239.4 680.7,248.7 683.4,256.8 684.5,263.8 684.7,269.2 685.4,272.1 688.4,271.9 694.8,268.8 704.5,262.7 715.0,254.9 725.5,247.5 735.6,242.5 745.3,240.8 754.6,242.2 763.3,244.9 770.9,247.2 777.1,249.0 781.7,250.3 785.2,251.4 787.7,252.4 789.1,253.1 789.6,253.4 789.1,253.1 787.4,252.4 784.5,251.3 780.6,249.8 776.4,247.8 772.7,245.2 770.0,242.0 768.4,238.5 767.5,235.6 767.5,234.5 768.4,236.2 769.0,240.4 768.2,246.0 767.3,252.4 766.4,258.0 764.9,262.2 762.4,264.9 757.4,266.2 749.0,265.1 737.3,261.1 723.6,255.8 709.9,251.3 697.1,247.9 686.2,244.7 677.8,239.1 670.9,231.5 664.4,225.1 658.1,221.5 653.3,219.7 650.1,219.3 647.2,219.3 644.6,217.9 642.4,214.6 641.3,211.3 640.6,209.5 640.0,210.0 639.7,213.2 640.7,217.4 643.2,220.2 646.8,222.8 651.8,227.4 656.9,234.3 661.1,243.9 662.6,254.2 661.6,262.7 659.6,268.8 657.8,272.8 655.9,275.5 654.4,277.5 653.3,277.5 650.6,275.4 645.3,271.3 639.7,266.4 635.5,261.9 632.1,258.1 629.2,256.6 627.1,259.0 628.2,266.5 632.5,276.7 638.9,286.6 645.3,295.9 651.0,304.7 656.7,313.0 662.7,320.3 667.6,325.7 669.3,328.4 668.9,328.0 668.6,325.5 670.0,322.2 671.8,317.9 673.0,311.0 672.8,300.6 670.2,289.7 665.3,282.0 660.7,277.6 656.8,275.2 653.5,274.0 649.3,273.2 643.7,274.4 637.4,280.7 632.0,292.4 629.4,306.2 630.2,317.7 633.3,325.3 635.7,329.1 635.8,327.8 633.4,321.6 629.4,313.2 624.5,305.4 619.7,299.7 615.3,296.5 612.7,295.1 612.2,295.2 613.8,296.0 616.7,295.2 619.5,291.2 620.4,284.9 618.9,279.0 615.8,274.0 613.2,269.9 612.3,266.7 612.2,264.0 612.1,261.8 611.4,261.2 610.3,263.2 608.9,268.2 606.9,275.9 604.3,284.8 601.0,293.9 597.1,302.7 592.8,311.3 588.4,319.0 584.1,325.0 579.8,328.8 575.8,330.8 572.5,331.5 570.0,331.6 568.2,331.5 567.1,331.3 566.6,331.1 567.1,331.3 568.5,331.9 571.0,332.9 574.4,334.4 578.6,336.2 583.6,338.2 589.2,340.3 595.3,342.3 601.8,344.3 609.1,346.1 617.2,346.4 625.5,346.1 633.3,345.0 640.2,341.9 646.7,336.3 652.2,328.9 655.2,321.3 654.8,315.0 651.7,309.6 646.9,304.8 642.2,299.9 638.2,295.2 633.9,291.2 628.8,289.3 623.8,290.6 619.3,295.4 614.9,304.2 610.5,316.3 607.9,327.9 608.3,335.4 609.2,340.6 610.9,344.6 613.4,348.3 615.6,351.1 617.8,353.4 618.3,358.1 617.1,362.6 614.1,364.9 610.8,365.3 608.3,365.6 606.5,367.1 604.7,369.9 602.9,373.1 600.7,376.2 598.0,378.6 595.2,380.3 592.9,381.4 591.4,382.2 590.7,382.7 590.5,383.0 590.7,382.6 591.0,381.5 591.7,379.2 593.0,375.9 595.1,371.7 598.1,366.8 602.2,360.9 607.2,354.3 613.8,346.9 623.2,339.1 635.7,331.3 650.1,323.4 665.1,314.7 678.8,305.5 691.2,295.7 702.4,285.2 712.1,276.4 720.0,270.6 724.9,267.9 726.5,269.0 726.2,273.3 724.5,280.0 721.7,290.0 718.1,301.9 714.3,313.4 710.8,322.8 708.0,330.0 706.1,338.1 705.1,349.9 704.4,365.1 702.8,375.9 701.1,381.1 699.3,384.7 697.0,387.3 694.3,389.3 692.9,390.9 693.7,392.1 695.2,392.6 696.6,392.4 698.4,391.3 701.3,389.6 704.4,387.2 705.9,384.5 704.8,381.3 701.0,377.5 695.2,368.9 689.3,351.4 686.4,332.7 686.9,314.1 690.4,298.5 696.9,286.4 704.0,276.6 710.2,268.4 713.6,261.9 712.7,256.8 708.3,252.3 702.9,248.3 699.0,245.9 697.6,244.8 698.2,243.7 698.7,240.9 697.3,237.2 694.9,236.6 692.2,239.9 689.9,245.7 688.5,252.9 687.5,260.9 686.6,268.5 685.5,276.0 683.8,283.0 682.0,288.2 680.4,291.1 679.3,293.9 678.5,298.3 676.1,304.1 671.8,310.7 665.9,316.9 659.2,321.3 654.0,323.4 651.1,324.6 649.9,326.5 648.9,328.1 647.9,328.6 647.9,328.3 649.8,327.1 653.7,326.4 660.0,325.6 667.6,324.6 674.9,323.1 681.0,323.1 686.7,324.8 691.4,325.2 694.9,322.4 697.9,317.5 700.0,312.6 700.0,308.8 698.1,305.6 696.4,303.4 697.4,302.3 701.4,302.3 706.9,303.1 711.6,303.8 714.9,305.6 717.8,308.5 720.0,311.8 721.7,315.4 723.7,318.7 726.2,321.2 729.3,322.3 732.7,321.7 735.8,320.7 739.3,319.9 741.5,318.9 739.4,318.6 732.3,320.8 722.1,324.6 710.2,327.9 698.6,330.5 688.4,331.9 678.1,329.6 665.0,323.3 650.3,314.6 635.4,304.8 621.1,294.5 608.8,284.9 602.5,277.4 600.6,272.7 599.5,271.3 599.1,275.6 599.7,285.7 601.4,299.6 604.1,312.7 607.7,322.6 612.1,329.5 618.7,334.1 629.2,335.0 640.4,335.1 651.5,335.2 661.9,335.2 672.6,333.7 683.4,330.6 691.5,324.8 695.4,316.0 695.2,304.3 691.8,291.1 687.5,278.2 683.2,265.8 678.2,254.6 672.8,244.6 667.2,234.7 661.8,224.9 656.7,217.7 652.7,212.6 649.4,208.8 645.8,206.6 642.6,206.8 641.0,209.7 642.5,214.5 647.7,220.5 654.0,227.2 659.2,233.9 663.0,240.2 665.6,246.2 667.7,250.6 670.3,251.7 673.8,249.5 678.4,245.8 683.2,243.1 686.0,244.3 686.4,250.6 685.7,262.0 686.5,278.3 688.6,296.5 689.4,312.0 686.8,322.7 682.1,328.2 678.3,330.1 676.7,329.7 676.7,328.4 676.9,326.3 676.2,321.7 674.5,313.1 671.8,302.4 669.1,293.2 667.8,286.2 668.2,280.9 670.6,276.3 675.5,271.2 682.7,265.5 690.8,259.5 698.8,253.3 706.5,246.2 713.5,238.6 720.0,231.3 726.2,223.8 732.1,214.0 738.4,202.0 742.8,196.8 747.9,195.9 753.7,197.4 758.8,200.3 762.7,204.5 765.5,210.4 767.2,217.5 767.7,224.2 767.4,229.4 766.7,232.2 764.9,231.1 762.1,226.7 758.7,222.4 754.9,220.5 748.3,222.1 741.9,223.8 736.7,226.2 732.1,230.3 726.8,235.4 720.4,241.5 713.0,249.1 706.5,258.4 702.0,267.9 698.9,276.7 696.7,285.6 694.0,294.6 689.4,303.3 684.6,312.0 681.9,320.2 681.7,327.5 682.2,332.6 681.7,335.0 680.1,334.2 678.1,330.1 676.9,324.6 677.1,318.8 678.8,313.2 682.4,308.5 687.6,304.0 693.9,298.2 701.4,291.1 708.8,282.7 715.4,273.6 720.7,264.5 723.7,255.6 724.3,248.5 721.6,242.7 716.7,236.8 710.4,230.1 702.4,223.8 694.5,219.2 688.1,217.6 682.0,220.1 674.5,226.7 665.1,235.3 654.9,241.6 646.1,242.8 639.9,238.9 635.1,233.3 630.2,228.3 624.9,224.0 621.0,220.0 620.6,216.7 620.7,212.9 621.1,209.5 621.4,207.5 621.4,207.6 622.0,209.2 624.5,210.9 631.2,213.9 643.1,220.7 654.0,227.8 661.4,235.8 665.7,245.0 668.1,255.1 669.8,266.0 672.1,276.4 674.7,286.7 676.8,298.3 678.1,311.6 678.1,324.2 677.6,333.2 677.8,338.9 678.3,343.0 679.4,345.1 681.9,345.0 686.8,341.1 692.7,332.7 697.8,319.9 701.0,303.4 702.6,284.3 705.6,266.3 712.5,252.6 721.7,244.1 731.1,238.7 739.3,235.2 746.2,233.7 751.5,234.0 753.6,236.7 753.2,241.1 750.7,246.2 746.5,251.4 742.5,256.2 738.4,259.3 733.1,260.1 727.6,260.0 722.8,259.6 719.0,259.4 715.4,259.0 712.4,259.3 710.9,260.3 710.7,262.6 711.6,267.0 712.9,271.7 715.7,276.0 719.1,281.1 721.5,286.9 722.5,294.9 721.0,306.4 717.5,320.8 712.9,334.9 707.1,347.0 701.3,356.0 697.1,361.5 695.3,363.3 694.8,359.6 694.6,350.7 694.0,338.4 692.1,325.4 689.3,313.2 686.8,302.0 684.1,291.3 681.2,281.5 677.6,273.6 673.5,268.5 668.5,266.1 663.5,266.3 659.0,269.0 654.7,274.5 651.2,283.7 648.8,295.7 648.0,309.0 648.6,322.3 649.6,334.0 649.4,342.5 648.1,347.2 647.1,348.1 647.5,347.1 649.1,345.3 651.4,341.7 654.0,335.2 656.4,327.5 658.1,319.8 659.5,311.2 661.9,301.0 666.1,288.7 671.9,275.1 677.6,259.8 681.1,242.3 683.4,224.3 686.6,210.1 691.1,200.9 697.5,195.0 705.3,192.3 711.2,193.3 713.1,197.3 712.3,203.2 711.0,210.5 710.2,218.8 710.3,226.2 711.2,234.4 712.8,244.2 714.4,253.0 715.6,259.6 716.5,263.6 716.7,264.8 716.3,264.0 716.0,261.5 715.9,258.1 716.3,254.7 716.9,251.3 717.0,248.1 716.6,244.4 716.6,239.5 717.7,235.0 718.5,231.5 717.7,229.4 715.6,228.4 713.7,228.0 711.3,229.0 706.9,232.4 701.0,238.0 694.4,244.3" fill="none" stroke="#6e6e6e" stroke-width="1.9" stroke-linejoin="round" stroke-linecap="round"/>
<ellipse cx="685.99" cy="277.18" rx="94.24" ry="115.53" transform="rotate(14.01 685.99 277.18)" fill="none" stroke="#ff0000" stroke-width="2.8"/>
<path d="M526.8 118.7V429.6M518 429.6H845.4M518 118.7H526.8M518 170.52H526.8M518 222.33H526.8M518 274.15H526.8M518 325.97H526.8M518 377.78H526.8M518 429.6H526.8M526.8 429.6V438.4M579.9 429.6V438.4M633 429.6V438.4M686.1 429.6V438.4M739.2 429.6V438.4M792.3 429.6V438.4M845.4 429.6V438.4" stroke="#000" stroke-width="1.7" fill="none"/>
<text x="486.25" y="126.73" font-size="25" textLength="13.56" lengthAdjust="spacingAndGlyphs">3</text>
<text x="486.49" y="178.67" font-size="25" textLength="13.56" lengthAdjust="spacingAndGlyphs">2</text>
<text x="486.37" y="230.36" font-size="25" textLength="13.56" lengthAdjust="spacingAndGlyphs">1</text>
<text x="486.12" y="282.18" font-size="25" textLength="13.56" lengthAdjust="spacingAndGlyphs">0</text>
<text x="478.2" y="333.99" font-size="25" textLength="21.67" lengthAdjust="spacingAndGlyphs">-1</text>
<text x="478.32" y="385.93" font-size="25" textLength="21.67" lengthAdjust="spacingAndGlyphs">-2</text>
<text x="478.08" y="437.62" font-size="25" textLength="21.67" lengthAdjust="spacingAndGlyphs">-3</text>
<text x="515.89" y="473.9" font-size="25" textLength="21.67" lengthAdjust="spacingAndGlyphs">-3</text>
<text x="569.11" y="473.9" font-size="25" textLength="21.67" lengthAdjust="spacingAndGlyphs">-2</text>
<text x="622.15" y="473.65" font-size="25" textLength="21.67" lengthAdjust="spacingAndGlyphs">-1</text>
<text x="679.27" y="473.9" font-size="25" textLength="13.56" lengthAdjust="spacingAndGlyphs">0</text>
<text x="732.07" y="473.65" font-size="25" textLength="13.56" lengthAdjust="spacingAndGlyphs">1</text>
<text x="785.54" y="473.9" font-size="25" textLength="13.56" lengthAdjust="spacingAndGlyphs">2</text>
<text x="838.64" y="473.9" font-size="25" textLength="13.56" lengthAdjust="spacingAndGlyphs">3</text>
<polyline points="1598.0,279.5 1599.5,279.0 1602.9,279.5 1605.5,280.2 1606.4,278.8 1605.7,275.9 1604.2,271.7 1601.7,267.1 1600.5,263.3 1601.7,258.9 1603.9,253.8 1608.2,249.3 1613.3,246.2 1616.0,245.3 1617.6,243.7 1619.1,238.8 1621.4,232.9 1624.0,231.2 1625.3,233.3 1624.5,235.2 1621.6,237.6 1619.2,241.6 1617.6,244.1 1616.1,243.3 1613.0,240.8 1608.2,239.9 1603.6,241.3 1600.6,244.8 1599.3,251.2 1600.4,258.9 1601.5,264.3 1598.7,266.4 1593.6,267.8 1589.7,269.2 1588.6,270.0 1590.1,271.0 1592.6,271.2 1595.2,267.4 1596.9,259.9 1596.7,251.4 1595.3,244.9 1595.2,241.2 1595.3,240.3 1593.4,240.5 1589.7,240.6 1586.0,240.3 1583.9,239.7 1584.1,239.8 1585.3,242.3 1585.6,246.8 1583.7,251.6 1581.9,258.4 1580.6,268.5 1580.6,283.5 1581.5,301.3 1581.5,317.4 1580.1,330.6 1579.3,340.7 1579.6,347.5 1579.1,351.0 1576.2,351.9 1571.1,351.0 1566.1,348.0 1563.7,342.8 1564.3,336.2 1567.6,328.2 1573.0,319.0 1578.4,310.4 1581.1,302.9 1582.4,296.4 1584.0,290.2 1586.5,284.9 1590.2,280.9 1594.2,279.8 1599.2,279.3 1604.4,277.4 1609.8,276.6 1613.5,277.6 1614.0,278.6 1613.3,279.4 1613.8,279.9 1615.7,281.4 1619.0,285.1 1620.9,288.3 1620.5,288.2 1619.8,285.4 1619.4,283.6 1617.7,282.5 1614.6,280.1 1611.7,276.7 1610.6,271.9 1609.7,265.2 1608.2,259.6 1605.0,255.6 1599.8,252.3 1593.6,249.6 1587.3,248.6 1583.3,249.8 1584.2,251.2 1588.9,250.8 1593.7,248.4 1595.7,245.9 1595.0,243.8 1592.8,241.6 1589.9,239.1 1589.9,236.2 1593.6,233.7 1597.1,231.4 1598.6,229.9 1599.6,230.7 1600.7,234.2 1602.4,239.0 1605.1,244.1 1605.9,249.0 1603.3,253.7 1599.5,259.8 1595.8,268.3 1593.9,276.0 1594.4,280.3 1595.5,282.3 1595.7,282.8 1594.8,281.1 1593.6,279.8 1592.6,279.2 1591.7,278.4 1590.4,277.0 1586.9,274.3 1582.0,271.0 1578.8,267.6 1577.2,265.2 1576.7,263.8 1577.0,261.3 1577.7,257.7 1579.3,253.4 1581.5,248.1 1583.2,242.3 1584.6,236.9 1585.8,231.3 1585.9,225.7 1586.3,220.9 1588.7,216.7 1592.2,214.1 1594.4,212.9 1594.2,213.0 1593.6,214.3 1593.0,214.5 1591.9,214.2 1590.1,215.4 1588.6,218.0 1589.0,222.2 1591.0,229.0 1592.4,238.1 1593.7,247.3 1596.5,253.9 1599.4,257.4 1600.8,259.3 1600.7,261.3 1600.7,262.2 1601.4,262.5 1601.5,263.6 1599.2,266.9 1595.6,271.7 1593.0,277.4 1592.1,280.8 1592.0,279.7 1591.5,274.5 1591.4,268.8 1591.8,266.5 1593.6,267.6 1598.0,270.0 1603.0,273.3 1605.5,277.0 1605.7,279.5 1604.7,281.1 1602.6,281.5 1598.3,282.4 1595.0,284.3 1594.3,286.9 1596.0,289.8 1599.0,292.5 1598.9,293.4 1593.9,292.7 1587.1,292.1 1581.4,292.5 1576.5,293.2 1571.4,294.7 1566.5,295.4 1561.6,294.5 1556.8,292.7 1552.5,291.8 1549.1,291.6 1546.5,291.8 1543.6,291.7 1541.0,290.9 1538.6,289.1 1536.9,286.8 1535.6,284.8 1534.7,283.5 1534.3,282.9 1534.2,282.6 1534.2,282.5 1534.2,282.6 1534.2,283.0 1534.3,283.4 1534.3,284.1 1534.1,285.0 1534.1,286.1 1534.6,287.0 1535.5,287.1 1536.0,286.3 1535.4,285.6 1534.4,285.1 1534.3,285.2 1536.3,286.4 1539.3,287.4 1542.5,288.3 1545.5,289.0 1548.5,289.0 1552.6,287.4 1557.0,283.6 1559.8,279.7 1559.9,278.0 1559.4,276.0 1561.2,271.9 1565.4,267.5 1570.6,264.9 1577.0,265.6 1583.8,267.4 1589.8,269.6 1593.4,272.3 1594.9,273.1 1596.2,270.9 1597.2,268.1 1598.1,266.4 1599.1,265.5 1600.6,264.5 1602.2,262.3 1602.2,260.3 1601.2,259.6 1600.8,260.3 1599.8,260.8 1597.4,260.8 1595.1,263.1 1593.3,268.8 1591.2,275.2 1588.7,281.7 1587.9,287.9 1588.1,292.5 1587.4,296.3 1585.8,300.1 1584.9,304.6 1585.4,308.7 1587.8,309.8 1592.5,308.7 1597.3,307.8 1600.4,308.5 1601.1,311.2 1600.5,315.2 1598.8,321.2 1595.8,327.8 1592.3,333.2 1589.6,337.9 1587.5,342.8 1585.6,347.3 1583.4,351.3 1581.5,354.7 1580.8,357.2 1581.1,358.9 1581.6,359.9 1581.9,360.4 1582.0,360.6 1582.0,360.5 1581.8,360.2 1581.7,359.4 1581.4,358.0 1580.6,356.3 1579.7,354.9 1579.0,353.3 1578.5,351.7 1577.9,349.6 1575.6,346.4 1571.9,341.2 1568.1,334.8 1565.7,328.0 1566.1,321.4 1567.4,315.4 1568.9,312.1 1571.6,311.0 1575.2,309.4 1578.1,306.5 1579.6,304.4 1581.5,305.0 1585.7,308.7 1591.6,313.4 1595.6,318.4 1595.9,322.7 1596.0,325.1 1598.6,326.2 1602.1,326.5 1603.9,326.5 1604.3,327.0 1604.1,327.7 1604.3,326.0 1605.4,321.4 1607.5,315.0 1610.0,308.2 1611.6,301.2 1611.5,292.6 1609.6,281.9 1607.5,268.7 1606.1,254.4 1604.4,241.5 1601.1,229.7 1597.5,218.6 1594.1,209.4 1591.5,202.3 1590.0,196.1 1589.7,190.9 1589.8,187.8 1590.0,186.5 1590.0,186.2 1590.1,186.3 1590.4,186.3 1591.4,186.9 1593.1,189.2 1595.3,194.0 1598.4,200.1 1602.6,205.4 1607.3,208.6 1611.4,211.4 1615.4,215.5 1619.2,221.0 1621.7,226.5 1622.8,230.0 1623.8,230.9 1624.6,230.9 1623.7,232.2 1623.7,234.4 1626.2,238.3 1628.9,243.0 1629.4,245.6 1627.7,244.7 1625.2,241.5 1623.7,237.1 1623.6,232.5 1624.7,229.2 1626.6,228.1 1627.9,229.6 1628.9,231.5 1631.0,233.5 1632.7,235.3 1633.0,235.9 1633.8,235.5 1636.3,234.8 1640.1,235.6 1644.5,238.0 1648.8,239.4 1652.8,240.2 1656.3,241.2 1659.0,241.9 1660.6,241.6 1660.2,242.8 1658.2,245.5 1654.5,248.3 1651.8,250.7 1649.8,252.6 1645.8,253.4 1640.5,253.5 1636.0,254.7 1631.4,256.6 1627.0,259.3 1623.8,262.1 1623.2,262.9 1623.8,261.8 1623.5,260.4 1623.9,258.4 1627.3,255.5 1632.2,251.7 1635.7,248.3 1637.8,245.4 1638.5,243.0 1638.3,241.0 1637.1,237.1 1634.2,230.9 1630.1,224.2 1627.0,219.2 1625.7,216.1 1624.8,215.1 1624.4,216.8 1623.5,220.6 1621.5,226.3 1618.0,232.2 1613.1,235.1 1608.3,235.4 1605.0,235.7 1603.1,237.4 1602.2,241.1 1601.1,246.8 1600.5,253.2 1601.1,260.6 1602.0,267.1 1603.4,271.0 1606.6,272.3 1611.9,271.9 1618.1,270.2 1624.2,267.9 1629.0,267.2 1632.5,268.5 1635.1,269.4 1638.4,268.9 1642.1,268.4 1646.1,269.5 1649.5,271.7 1653.9,272.6 1660.4,270.2 1665.9,264.0 1667.2,255.6 1665.7,248.1 1662.6,242.1 1657.8,238.5 1650.7,235.0 1642.5,230.6 1633.7,227.7 1624.8,228.4 1617.1,231.5 1610.2,233.0 1603.5,232.5 1596.8,231.4 1591.1,230.3 1585.8,230.7 1582.6,232.1 1581.7,233.0 1581.6,234.6 1581.9,238.2 1582.3,242.4 1583.2,245.8 1584.3,247.7 1585.8,247.3 1589.1,246.8 1593.9,246.9 1598.8,246.9 1603.4,248.3 1609.0,252.0 1615.4,257.3 1620.5,262.9 1623.8,268.9 1625.4,276.0 1625.6,284.3 1626.4,292.1 1629.5,299.0 1631.8,305.2 1631.1,309.1 1629.0,309.8 1628.5,308.7 1629.7,308.1 1630.0,308.0 1628.2,307.5 1624.5,304.2 1620.1,298.3 1616.1,292.0 1613.2,287.3 1611.4,283.9 1608.1,280.7 1603.2,277.0 1599.3,273.3 1597.0,269.6 1596.7,265.0 1599.9,261.3 1604.8,259.5 1608.0,258.6 1609.0,257.8 1608.8,256.4 1609.1,254.4 1610.3,251.7 1610.8,249.3 1610.8,249.4 1611.8,251.7 1614.5,254.1 1616.7,257.1 1616.5,259.8 1615.9,261.3 1616.7,262.9 1619.1,265.3 1622.8,266.7 1626.3,267.2 1627.8,268.6 1627.1,270.2 1625.3,270.6 1622.9,269.3 1620.4,269.4 1617.8,272.7 1614.8,278.5 1612.6,284.5 1612.3,288.8 1613.2,290.3 1613.6,288.2 1612.1,283.3 1609.4,279.2 1608.3,277.5 1609.3,277.8 1611.3,279.1 1611.9,281.2 1610.5,282.0 1608.8,280.8 1606.5,277.7 1605.0,275.3 1604.8,273.7 1606.4,272.8 1609.2,273.0 1612.7,272.8 1615.7,272.1 1617.6,271.7 1619.3,270.5 1621.6,267.2 1624.5,265.0 1627.3,265.0 1627.6,266.1 1626.1,266.5 1625.7,264.3 1628.8,261.1 1634.1,259.3 1638.5,258.3 1640.7,256.4 1640.1,253.5 1637.7,252.2 1634.8,253.1 1633.8,256.2 1633.4,259.7 1630.7,261.0 1627.0,262.2 1623.9,265.9 1623.1,273.0 1622.6,281.0 1620.9,288.8 1617.8,296.0 1614.9,302.1 1611.9,307.7 1608.9,313.6 1606.3,319.7 1602.7,326.4 1598.1,331.0 1594.5,332.3 1592.2,330.1 1590.4,325.0 1589.4,318.8 1590.2,312.7 1592.4,309.2 1593.9,308.4 1594.1,307.4 1593.5,305.8 1593.4,306.4 1595.5,307.8 1599.1,308.3 1600.9,308.0 1600.1,304.8 1598.0,299.1 1597.2,292.3 1598.2,283.3 1599.8,272.7 1601.0,265.6 1601.2,261.9 1600.9,259.6 1600.4,257.8 1599.7,256.8 1598.6,255.5 1595.7,253.9 1593.1,253.1 1593.6,252.1 1595.8,252.3 1598.8,255.2 1601.4,260.1 1600.3,265.0 1596.9,268.6 1594.4,272.7 1594.8,276.4 1596.3,278.2 1598.4,280.1 1601.3,282.8 1604.7,286.1 1608.7,290.0 1613.7,292.6 1618.5,291.1 1622.6,287.4 1627.4,284.7 1633.4,284.1 1638.7,284.2 1642.3,283.9 1645.4,282.9 1648.6,280.7 1650.2,277.2 1649.5,271.7 1647.3,265.8 1645.1,262.2 1643.7,262.5 1643.1,264.3 1643.2,264.6 1643.9,264.2 1645.2,263.7 1647.3,261.2 1650.1,255.2 1651.5,247.0 1651.9,238.3 1652.6,231.5 1652.7,227.1 1651.0,225.0 1649.8,224.7 1650.2,224.8 1650.1,224.5 1648.3,225.7 1646.6,228.8 1645.9,231.9 1645.3,233.4 1642.7,234.4 1638.7,238.1 1634.9,243.9 1630.9,251.3 1627.9,258.1 1626.9,260.9 1626.4,259.6 1626.0,258.1 1624.9,258.1 1622.3,259.8 1620.6,262.6 1621.5,264.7 1624.4,264.8 1627.6,264.3 1629.4,263.3 1628.8,261.6 1627.2,260.3 1627.1,259.8 1630.0,259.6 1634.9,260.4 1639.5,263.6 1642.2,267.9 1642.5,271.1 1641.3,272.6 1638.6,272.0 1633.4,270.0 1626.1,269.6 1618.1,270.8 1611.0,273.8 1605.8,277.6 1602.9,279.8 1602.2,280.6 1602.6,281.4 1602.3,283.4 1601.5,286.3 1599.9,288.5 1597.1,287.5 1593.7,283.7 1589.0,280.4 1584.8,279.7 1580.9,281.5 1578.5,284.0 1579.0,286.7 1581.0,289.9 1583.7,293.9 1586.3,298.1 1587.2,300.9 1587.6,301.1 1590.1,297.0 1593.1,289.5 1595.1,281.5 1596.4,276.1 1599.1,274.8 1603.8,276.5 1610.0,277.5 1615.5,277.0 1618.0,276.2 1616.2,274.2 1612.8,270.4 1611.1,267.5 1612.3,265.6 1614.6,263.5 1616.2,260.6 1616.9,256.1 1616.4,251.1 1613.9,247.2 1611.8,243.7 1612.2,241.1 1614.9,239.4 1616.6,237.9 1615.8,238.9 1613.8,242.4 1612.9,245.6 1614.3,247.5 1618.3,250.0 1623.2,254.3 1627.3,259.7 1629.8,265.0 1629.6,268.9 1625.7,272.4 1619.8,276.0 1615.4,278.7 1613.6,281.0 1614.5,283.1 1617.5,284.2 1622.1,285.1 1626.8,285.4 1630.0,285.6 1630.6,285.6 1629.5,285.6 1628.5,286.2 1627.5,284.6 1625.8,280.3 1623.8,275.4 1623.5,271.1 1624.7,269.3 1626.2,270.8 1628.5,274.2 1631.5,277.8 1632.5,281.1 1631.5,284.5 1629.8,286.1 1628.1,285.5 1627.6,285.0 1627.8,285.7 1627.2,286.8 1625.5,287.3 1625.2,287.5 1627.9,289.1 1629.8,293.5 1629.2,299.0 1628.4,302.6 1627.8,303.8 1626.7,303.5 1626.6,303.2 1626.2,304.0 1622.8,304.1 1617.1,301.4 1612.2,297.1 1609.1,293.1 1606.8,290.6 1604.3,290.1 1602.5,291.3 1600.7,292.1 1598.4,290.4 1594.6,286.5 1591.0,281.4 1589.4,277.9 1588.9,277.4 1587.6,279.7 1584.3,282.9 1580.6,285.5 1578.0,289.0 1575.5,294.1 1573.0,299.4 1570.2,304.6 1566.5,310.2 1561.3,314.8 1555.9,317.6 1551.1,319.4 1547.1,321.0 1543.8,322.8 1540.9,324.9 1538.2,326.7 1535.6,328.2 1533.6,329.1 1532.4,329.4 1531.8,329.4 1531.5,329.3 1531.8,329.3 1532.4,329.2 1533.3,328.6 1534.4,327.4 1536.0,325.4 1538.2,322.3 1541.3,318.8 1545.7,315.9 1551.3,313.1 1557.4,310.0 1564.4,306.5 1571.4,302.6 1577.1,298.1 1581.8,292.2 1586.6,285.0 1591.7,279.3 1597.0,277.1 1602.3,277.1 1607.7,277.4 1612.0,277.8 1614.8,277.7 1615.6,279.4 1615.1,283.2 1614.7,286.9 1616.0,289.0 1618.8,289.3 1620.7,288.9 1620.5,288.3 1619.0,288.6 1617.6,289.8 1616.9,289.6 1616.5,287.7 1617.0,284.2 1618.1,280.6 1617.8,277.2 1614.6,273.7 1611.0,271.5 1609.8,270.5 1610.6,270.1 1612.9,269.9 1615.5,269.6 1616.6,267.4 1617.0,264.4 1617.1,262.4 1614.0,261.3 1608.7,260.2 1602.0,257.7 1595.2,253.9 1592.1,252.1 1591.5,253.8 1590.5,257.1 1587.1,259.6 1582.7,260.7 1580.9,261.0 1581.7,261.9 1585.0,264.8 1589.9,267.7 1594.2,269.8 1596.5,269.6 1596.1,266.9 1593.6,263.7 1590.3,262.9 1587.0,264.0 1585.9,264.4 1587.2,264.9 1590.0,267.0 1593.3,270.9 1598.1,276.1 1603.1,279.4 1606.7,278.7 1608.1,275.8 1608.7,273.7 1608.8,274.0 1607.9,275.5 1607.2,276.9 1608.1,278.1 1611.4,280.5 1615.8,283.6 1620.4,287.5 1624.2,292.2 1625.7,296.9 1623.1,300.4 1618.0,302.8 1613.9,304.5 1610.8,306.3 1607.4,309.3 1603.5,312.1 1599.6,312.7 1596.2,311.9 1594.6,311.2 1594.8,309.7 1593.2,307.3 1589.2,304.7 1584.4,302.1 1581.4,300.5 1581.7,300.2 1584.1,301.4 1587.2,301.8 1590.2,301.4 1592.2,301.2 1592.2,300.2 1590.0,298.2 1588.7,295.8 1587.3,294.6 1583.5,296.5 1578.4,302.2 1575.2,310.3 1575.1,317.6 1577.9,321.5 1581.4,321.4 1584.0,319.2 1586.2,317.4 1589.8,317.6 1594.6,319.3 1599.2,321.5 1603.6,322.6 1607.6,322.7 1611.5,321.8 1615.9,320.4 1621.3,319.7 1627.1,318.3 1632.3,312.8 1637.3,304.9 1641.3,297.2 1642.4,291.1 1641.1,286.8 1640.1,284.1 1638.9,281.0 1637.1,275.9 1636.5,270.6 1637.0,267.3 1637.0,264.8 1636.4,262.7 1634.4,263.0 1630.5,264.9 1624.1,266.5 1615.8,266.9 1608.5,266.8 1604.1,267.3 1601.8,268.8 1599.8,270.8 1596.9,272.6 1594.4,273.3 1594.6,274.0 1595.6,274.4 1595.8,274.3 1595.4,276.0 1594.2,279.2 1591.3,282.4 1588.9,284.5 1589.2,284.2 1591.4,280.1 1594.9,274.5 1600.4,271.3 1606.6,272.3 1609.9,276.2 1610.4,280.3 1610.6,281.6 1611.3,279.0 1611.6,272.9 1613.4,267.2 1617.5,266.1 1621.3,267.5 1623.3,268.2 1620.0,267.2 1612.3,265.0 1605.8,262.7 1603.0,261.7 1602.8,260.6 1601.7,258.9 1597.7,257.7 1591.8,257.4 1585.7,257.8 1579.6,259.0 1573.6,261.2 1569.6,263.2 1568.3,265.1 1568.9,267.3 1569.8,270.7 1570.5,274.9 1571.8,279.5 1574.4,284.8 1577.0,290.0 1577.8,295.7 1577.2,301.2 1577.4,305.8 1578.0,310.1 1579.1,314.5 1580.5,318.4 1581.5,321.2 1582.6,322.1 1583.6,320.1 1583.1,315.3 1582.2,308.8 1581.3,303.0 1581.2,300.7 1584.4,301.7 1590.5,304.9 1595.6,309.3 1597.2,312.2 1596.1,312.4 1594.0,311.3 1592.8,309.8 1592.2,306.1 1592.4,299.3 1592.3,293.4 1591.4,291.4 1591.5,291.3 1592.7,289.6 1591.4,286.6 1588.0,283.5 1584.6,281.1 1582.2,279.5 1580.6,279.0 1578.3,279.7 1574.9,279.7 1572.0,277.1 1570.6,272.8 1569.4,268.1 1568.0,265.4 1568.5,264.6 1572.0,265.1 1577.7,266.3 1585.1,266.7 1591.9,266.9 1597.8,266.2 1603.0,265.5 1606.0,264.8 1606.7,263.0 1607.7,261.6 1609.8,261.1 1612.2,260.4 1614.1,261.5 1616.2,264.0 1617.2,265.8 1616.8,266.1 1617.3,265.4 1617.6,262.9 1616.7,259.4 1616.1,257.9 1614.9,258.3 1611.8,258.5 1608.4,257.3 1604.1,255.7 1598.8,255.5 1591.8,257.6 1584.5,259.3 1580.8,260.6 1580.7,263.6 1581.4,269.2 1582.1,274.7 1583.2,276.5 1584.8,273.4 1586.7,267.7 1590.0,262.3 1593.9,257.8 1597.9,253.7 1602.0,249.6 1605.9,245.6 1608.8,242.9 1611.0,244.3 1614.0,248.9 1618.9,253.9 1623.8,256.9 1626.4,257.8 1626.8,258.0 1626.6,257.4 1626.5,254.5 1626.7,249.6 1628.0,246.2 1630.2,245.4 1630.9,246.1 1630.0,246.1 1628.0,244.0 1625.2,239.7 1624.6,235.8 1627.4,234.3 1632.2,233.9 1636.9,232.6 1639.4,230.5 1639.2,228.2 1638.5,227.3 1639.6,228.5 1641.9,230.3 1644.3,230.3 1647.2,228.7 1650.4,226.9 1653.6,225.6 1657.1,224.3 1659.6,223.3 1660.6,223.0 1660.7,223.2 1660.6,223.4 1660.8,223.3 1661.5,223.1 1662.4,223.5 1663.4,224.1 1664.0,224.7 1664.3,225.1 1664.4,225.3 1664.3,225.1 1663.9,224.8 1663.1,224.3 1662.0,223.8 1660.5,223.2 1658.8,222.6 1657.5,222.3 1656.4,222.5 1654.8,222.8 1653.0,223.1 1652.2,224.2 1652.8,226.4 1654.4,228.9 1655.3,230.8 1654.1,232.7 1650.1,235.3 1643.2,238.2 1635.1,240.7 1628.4,242.8 1624.6,244.6 1624.4,246.8 1624.0,249.6 1619.9,252.6 1613.5,255.4 1606.3,258.1 1599.9,260.9 1597.3,264.0 1598.5,267.2 1599.2,269.1 1597.1,268.7 1592.9,267.9 1588.9,266.5 1587.3,264.5 1587.4,261.7 1587.6,259.6 1586.7,259.1 1584.6,258.4 1582.5,257.1 1581.7,255.6 1582.0,254.8 1582.6,254.9 1584.9,254.6 1590.1,253.6 1598.1,251.6 1607.3,248.8 1615.5,246.1 1620.7,245.7 1622.5,247.1 1623.6,250.0 1625.3,256.4 1625.0,263.6 1622.5,267.8 1619.4,270.1 1617.2,272.5 1615.3,274.1 1614.1,275.8 1615.6,279.0 1619.5,283.9 1623.7,288.2 1625.5,289.4 1624.1,287.2 1621.8,284.1 1619.7,282.8 1618.1,282.4 1617.8,282.3 1618.0,282.2 1616.9,282.4 1615.0,281.4 1613.1,278.3 1612.0,274.4 1612.9,270.8 1615.9,267.8 1618.6,264.6 1619.7,262.6 1619.3,263.8 1617.2,266.9 1613.9,268.7 1611.8,268.8 1612.4,269.3 1614.3,269.7 1616.4,269.6 1617.3,270.4 1614.8,272.6 1610.4,273.3 1607.0,271.7 1604.9,268.4 1605.3,264.5 1606.8,263.4 1607.2,265.9 1607.9,270.0 1609.8,273.6 1610.7,275.8 1608.7,277.3 1606.9,277.8 1606.8,276.2 1607.2,275.0 1605.9,274.6 1602.1,275.0 1596.9,277.4 1592.6,281.5 1590.7,287.1 1590.8,292.9 1591.5,296.5 1591.7,298.4 1591.0,298.2 1589.5,295.7 1586.7,292.8 1584.8,290.0 1584.5,288.8 1584.6,291.8 1584.2,297.2 1582.2,301.2 1579.6,304.4 1578.6,309.1 1579.4,313.7 1579.2,314.8 1578.2,313.3 1577.9,312.2 1578.6,312.6 1579.3,314.1 1580.1,313.6 1581.4,310.2 1582.0,306.2 1580.9,302.4 1579.8,298.7 1580.3,295.8 1583.0,294.0 1587.8,292.8 1592.5,292.7 1595.2,292.9 1596.9,290.0 1599.3,284.8 1603.8,279.7 1609.7,276.5 1615.6,276.1 1618.8,276.8 1618.6,276.2 1616.1,272.7 1611.3,267.6 1607.6,263.3 1608.2,262.7 1610.6,264.4 1612.1,266.9 1613.1,269.2 1614.4,270.7 1616.5,269.7 1617.5,267.9 1618.7,267.6 1621.7,268.5 1625.4,269.2 1627.8,269.4 1627.5,269.7 1625.6,270.3 1623.5,270.7 1622.8,270.3 1623.6,271.6 1623.8,275.3 1623.0,278.8 1621.1,280.0 1618.8,280.3 1618.3,281.1 1619.3,283.3 1619.9,286.2 1618.7,288.5 1616.0,288.6 1613.0,286.8 1609.8,283.9 1605.6,282.0 1601.6,282.5 1598.7,285.4 1596.3,287.6 1595.5,287.1 1596.5,285.2 1596.7,282.4 1594.7,280.6 1589.6,281.5 1583.4,283.8 1578.5,286.3 1575.7,286.8 1574.3,284.4 1574.2,281.7 1572.4,282.2 1567.6,286.3 1561.6,291.8 1556.1,295.3 1554.3,295.9 1555.7,295.3 1558.2,295.0 1558.9,295.4 1557.8,295.5 1555.4,296.2 1552.8,295.6 1551.0,292.9 1550.1,291.3 1550.1,290.4 1551.6,289.2 1555.1,288.7 1559.2,289.3 1562.7,290.0 1565.5,290.0 1568.3,288.9 1571.3,287.9 1575.3,287.2 1580.1,284.9 1583.6,282.6 1585.0,281.8 1584.8,283.0 1583.6,286.3 1582.8,291.3 1584.3,297.6 1587.6,303.1 1590.5,306.5 1592.3,306.4 1592.6,303.0 1591.2,297.8 1587.6,291.5 1584.5,286.0 1583.0,281.9 1583.2,281.8 1584.3,284.7 1585.3,285.6 1586.9,283.5 1589.1,278.9 1591.0,272.5 1592.6,264.4 1595.4,257.0 1598.7,253.8 1601.8,254.4 1604.8,257.3 1607.0,260.7 1607.1,262.9 1607.2,264.5 1607.6,265.9 1607.0,265.5 1605.4,264.9 1605.1,266.9 1606.4,270.2 1607.0,272.1 1605.2,272.0 1602.1,269.4 1600.5,264.9 1600.9,260.2 1602.5,255.4 1604.4,250.2 1606.2,245.5 1606.5,244.5 1604.0,248.0 1601.0,252.7 1597.8,255.8 1594.4,256.6 1592.9,258.4 1592.6,261.2 1591.0,262.6 1588.3,261.3 1588.0,258.1 1590.1,256.0 1592.9,256.4 1595.9,258.8 1598.2,260.6 1599.5,260.2 1599.8,259.4 1599.8,260.1 1599.0,261.2 1595.4,262.6 1589.9,263.7 1585.2,263.9 1583.8,265.0 1586.8,267.8 1590.7,270.2 1593.6,271.8 1595.5,272.2 1595.9,270.5 1595.3,269.0 1595.2,269.6 1595.2,272.5 1596.3,276.6 1600.3,278.7 1608.2,278.0 1616.9,274.7 1622.5,269.6 1624.3,266.7 1622.5,268.7 1618.0,274.5 1613.6,280.6 1611.0,283.9 1610.0,285.2 1609.3,285.5 1609.1,285.7 1609.4,286.6 1609.0,288.2 1607.7,290.5 1605.2,291.5 1601.4,291.2 1597.7,291.6 1594.5,292.4 1591.4,291.2 1589.4,289.0 1587.6,287.7 1586.0,286.4 1586.5,284.7 1588.7,283.7 1592.0,282.6 1594.7,280.0 1596.5,277.6 1597.4,276.0 1598.2,274.4 1599.3,273.5 1599.0,273.9 1597.8,278.3 1596.0,286.9 1592.8,295.1 1588.2,300.5 1584.2,302.5 1580.8,302.1 1577.7,301.5 1575.4,302.6 1575.7,305.1 1578.9,305.0 1584.0,301.2 1589.1,297.9 1593.1,295.9 1596.0,293.6 1598.0,291.7 1600.5,290.0 1603.4,287.5 1605.1,284.1 1606.3,280.9 1607.4,278.2 1608.5,275.6 1610.1,273.1 1611.6,270.8 1612.5,268.7 1613.5,267.8 1613.7,268.4 1611.3,270.0 1606.5,272.3 1601.9,274.0 1600.1,276.9 1600.1,280.5 1599.8,283.6 1598.4,284.0 1596.8,281.1 1596.3,276.3 1597.4,273.4 1599.5,273.1 1600.4,271.8 1599.5,269.2 1598.3,266.9 1599.3,264.7 1601.4,262.9 1602.1,260.4 1600.9,257.0 1598.7,252.3 1597.5,246.9 1598.1,241.5 1599.6,236.9 1602.6,234.9 1605.8,236.1 1608.1,239.4 1609.6,242.2 1609.7,242.6 1608.8,241.6 1607.7,241.1 1606.5,241.6 1604.6,242.0 1601.8,241.5 1599.2,240.4 1597.8,239.8 1596.7,240.1 1595.0,242.0 1592.8,245.4 1592.2,251.3 1593.5,256.5 1595.5,257.1 1596.3,255.6 1595.7,253.5 1596.6,251.6 1601.2,252.1 1606.2,254.7 1609.7,258.7 1610.3,263.6 1608.1,269.0 1604.9,274.4 1602.4,278.6 1601.6,280.6 1600.8,282.8 1600.6,287.2 1601.7,292.8 1603.0,297.4 1603.1,298.5 1601.9,296.2 1599.7,291.7 1597.8,286.9 1598.3,283.3 1601.0,280.2 1603.1,278.0 1602.7,277.0 1601.9,276.6 1601.4,276.7 1599.9,275.4 1598.0,271.3 1597.5,266.7 1599.2,264.0 1602.8,262.2 1604.8,261.3 1603.8,261.1 1601.2,260.6 1598.5,260.2 1596.9,260.8 1595.1,264.2 1593.2,269.6 1592.6,275.9 1592.6,281.1 1593.4,283.4 1596.1,283.5 1599.6,283.2 1602.1,283.1 1602.6,283.1 1603.2,282.5 1603.2,279.0 1601.0,273.7 1598.2,269.7 1596.1,266.7 1594.9,264.9 1594.5,264.3 1594.2,264.8 1593.3,265.3 1592.4,264.5 1590.9,262.4 1588.1,261.2 1585.2,263.2 1583.2,268.7 1582.2,273.8 1582.7,276.6 1583.4,277.0 1583.5,276.0 1583.4,274.5 1584.8,271.0 1588.8,265.1 1594.4,259.9 1600.4,256.6 1603.3,254.4 1603.2,254.9 1602.5,256.8 1602.5,258.3 1602.0,259.3 1599.9,261.4 1596.8,265.4 1591.8,269.9 1586.1,273.6 1580.7,276.6 1576.5,279.0 1574.4,282.1 1573.6,286.3 1571.4,290.2 1567.2,292.0 1563.5,291.9 1560.5,292.5 1559.1,295.2 1561.6,297.4 1567.2,298.6 1571.7,299.4 1575.3,298.3 1577.9,294.8 1577.7,291.5 1575.7,288.7 1575.7,286.1 1579.4,284.1 1586.6,281.5 1593.0,279.0 1597.2,277.0 1598.6,274.8 1597.4,272.6 1595.9,269.0 1595.4,264.6 1595.2,263.1 1595.7,265.6 1598.5,270.1 1602.2,273.3 1604.1,273.8 1603.9,271.6 1603.1,268.0 1603.0,264.2 1603.6,260.8 1603.8,259.3 1602.9,260.3 1600.8,263.3 1598.4,266.9 1597.1,269.6 1598.3,269.8 1600.7,268.2 1603.9,264.1 1608.1,258.3 1613.6,254.8 1619.9,255.5 1626.3,259.2 1633.2,262.7 1639.3,264.6 1643.9,265.8 1645.8,267.4 1645.9,269.0 1646.5,269.7 1649.2,269.8 1653.2,269.8 1655.7,269.3 1656.8,268.7 1656.4,268.2 1655.9,267.0 1654.4,266.1 1649.2,266.0 1642.9,265.2 1639.0,263.3 1636.2,262.9 1632.0,265.6 1626.6,267.5 1621.8,266.0 1616.7,262.5 1611.4,258.7 1608.5,257.1 1609.5,258.6 1612.0,261.4 1612.2,263.0 1610.9,262.4 1610.1,260.7 1610.8,257.7 1612.2,253.6 1613.8,249.6 1615.8,247.5 1616.2,248.7 1614.8,252.2 1614.0,255.2 1616.2,256.2 1620.7,257.3 1624.9,261.3 1627.0,267.1 1627.6,270.7 1628.0,271.8 1628.7,271.9 1631.3,272.0 1634.9,273.9 1637.4,278.5 1636.8,283.7 1633.9,287.5 1631.3,290.1 1630.0,290.9 1630.2,287.4 1630.9,283.3 1628.7,283.6 1622.5,286.0 1616.5,286.8 1613.4,286.7 1612.4,286.7 1611.0,286.3 1607.8,285.3 1602.8,284.9 1596.5,284.9 1590.5,284.5 1586.0,284.9 1582.9,287.5 1581.1,291.2 1581.2,294.2 1582.7,295.8 1584.4,295.8 1585.7,293.9 1586.2,290.7 1585.7,289.5 1585.5,290.4 1587.1,291.4 1589.8,291.9 1592.8,292.6 1594.6,292.6 1596.6,291.9 1599.8,291.4 1602.9,291.8 1605.4,293.6 1607.4,294.9 1609.9,293.6 1613.7,291.4 1618.6,289.8 1621.9,289.0 1624.9,288.6 1627.8,286.1 1628.9,280.8 1630.0,274.9 1632.4,269.6 1633.5,265.0 1633.5,261.0 1632.8,259.1 1631.6,258.0 1630.1,256.1 1628.9,252.2 1628.6,247.1 1628.8,244.7 1628.3,245.4 1626.2,247.0 1622.4,248.9 1618.5,249.0 1614.4,248.7 1608.8,252.0 1602.8,259.2 1598.3,266.9 1596.9,273.5 1598.6,279.6 1601.5,285.2 1604.6,289.1 1606.8,292.0 1608.4,294.0 1609.2,294.5 1608.5,294.2 1606.2,293.7 1604.1,294.3 1603.9,295.1 1604.6,295.0 1605.7,294.8 1607.8,293.8 1610.5,292.8 1611.5,293.4 1609.0,297.2 1605.2,302.6 1604.2,306.5 1607.0,305.3 1610.4,300.0 1610.6,294.1 1608.9,288.7 1607.5,284.1 1606.4,281.1 1606.0,279.3 1605.6,278.1 1602.7,276.9 1599.2,275.3 1597.0,272.9 1596.3,269.3 1596.9,264.6 1599.7,260.6 1605.2,257.9 1611.7,256.3 1616.2,254.1 1618.0,250.9 1618.6,248.0 1620.4,247.4 1623.9,249.5 1627.6,253.2 1629.9,256.7 1630.7,256.5 1631.5,253.0 1632.9,248.5 1634.0,244.6 1634.2,242.6 1633.7,243.0 1632.2,244.4 1629.6,245.9 1626.5,246.6 1625.8,247.2 1628.6,247.6 1632.1,246.1 1633.6,243.7 1632.1,241.8 1628.2,241.8 1623.2,243.9 1619.3,245.7 1617.3,246.4 1616.6,246.0 1618.4,245.2 1622.7,244.7 1627.3,244.2 1629.4,242.8 1628.7,240.1 1627.1,238.2 1626.0,239.2 1623.5,242.6 1618.7,246.1 1613.3,249.6 1607.7,251.8 1603.4,253.2 1602.2,254.9 1602.7,256.2 1603.5,257.4 1604.2,257.7 1605.6,256.7 1607.9,254.8 1609.7,254.5 1609.7,257.2 1609.3,260.5 1609.9,260.5 1611.2,257.4 1612.5,255.8 1614.6,257.0 1616.5,258.0 1618.0,257.7 1619.3,256.6 1620.7,255.5 1621.5,254.3 1620.8,253.9 1619.0,252.6 1618.8,248.8 1621.0,242.7 1626.3,236.4 1632.4,231.1 1636.6,227.4 1639.2,225.7 1641.3,224.8 1642.6,224.5 1643.6,225.9 1644.3,230.7 1642.8,237.7 1638.0,244.3 1631.7,250.3 1625.4,256.3 1620.6,263.5 1619.1,271.7 1620.4,280.1 1622.4,288.4 1623.6,296.4 1623.5,303.9 1622.4,309.1 1620.9,311.8 1618.6,311.5 1616.8,309.3 1615.4,307.8 1614.3,305.9 1614.5,302.1 1615.6,296.1 1616.2,289.5 1614.7,283.7 1612.8,278.6 1614.0,274.7 1616.9,273.2 1617.4,274.6 1615.2,276.5 1612.2,277.1 1611.5,276.5 1612.7,273.8 1614.7,271.3 1616.7,271.2 1618.1,271.3 1619.7,269.1 1622.3,264.0 1624.5,257.4 1627.0,251.2 1630.9,246.6" fill="none" stroke="#6e6e6e" stroke-width="1.9" stroke-linejoin="round" stroke-linecap="round"/>
<ellipse cx="1606.11" cy="273.01" rx="44.18" ry="74.27" transform="rotate(22.4 1606.11 273.01)" fill="none" stroke="#ff0000" stroke-width="2.8"/>
<path d="M1446.5 116V428.2M1437.7 428.2H1765.4M1437.7 116H1446.5M1437.7 168.03H1446.5M1437.7 220.07H1446.5M1437.7 272.1H1446.5M1437.7 324.13H1446.5M1437.7 376.17H1446.5M1437.7 428.2H1446.5M1446.5 428.2V437M1499.65 428.2V437M1552.8 428.2V437M1605.95 428.2V437M1659.1 428.2V437M1712.25 428.2V437M1765.4 428.2V437" stroke="#000" stroke-width="1.7" fill="none"/>
<text x="1405.95" y="124.03" font-size="25" textLength="13.56" lengthAdjust="spacingAndGlyphs">3</text>
<text x="1406.19" y="176.18" font-size="25" textLength="13.56" lengthAdjust="spacingAndGlyphs">2</text>
<text x="1406.07" y="228.09" font-size="25" textLength="13.56" lengthAdjust="spacingAndGlyphs">1</text>
<text x="1405.83" y="280.12" font-size="25" textLength="13.56" lengthAdjust="spacingAndGlyphs">0</text>
<text x="1397.9" y="332.16" font-size="25" textLength="21.67" lengthAdjust="spacingAndGlyphs">-1</text>
<text x="1398.03" y="384.32" font-size="25" textLength="21.67" lengthAdjust="spacingAndGlyphs">-2</text>
<text x="1397.78" y="436.22" font-size="25" textLength="21.67" lengthAdjust="spacingAndGlyphs">-3</text>
<text x="1435.59" y="472.5" font-size="25" textLength="21.67" lengthAdjust="spacingAndGlyphs">-3</text>
<text x="1488.86" y="472.5" font-size="25" textLength="21.67" lengthAdjust="spacingAndGlyphs">-2</text>
<text x="1541.95" y="472.25" font-size="25" textLength="21.67" lengthAdjust="spacingAndGlyphs">-1</text>
<text x="1599.12" y="472.5" font-size="25" textLength="13.56" lengthAdjust="spacingAndGlyphs">0</text>
<text x="1651.97" y="472.25" font-size="25" textLength="13.56" lengthAdjust="spacingAndGlyphs">1</text>
<text x="1705.49" y="472.5" font-size="25" textLength="13.56" lengthAdjust="spacingAndGlyphs">2</text>
<text x="1758.64" y="472.5" font-size="25" textLength="13.56" lengthAdjust="spacingAndGlyphs">3</text>
<path d="M684.0,833.0 L685.8,832.7 L688.3,832.6 L691.1,832.6 L693.8,832.8 L696.2,833.2 L698.0,834.0 L699.1,835.2 L699.6,836.7 L699.9,838.6 L699.9,840.5 L699.9,842.3 L700.0,844.0 L700.1,845.4 L700.1,846.6 L700.1,847.8 L700.1,849.0 L700.0,850.4 L700.0,852.0 L700.0,853.9 L699.9,856.0 L699.9,858.3 L699.9,860.6 L699.9,862.9 L700.0,865.0 L700.2,866.9 L700.4,868.8 L700.7,870.6 L701.0,872.3 L701.5,874.1 L702.0,876.0 L702.7,878.0 L703.6,880.0 L704.6,882.1 L705.5,884.2 L706.4,886.2 L707.0,888.0 L707.5,889.7 L707.9,891.3 L708.1,892.8 L708.3,894.3 L708.2,895.7 L708.0,897.0 L707.5,898.3 L706.8,899.6 L705.9,900.8 L704.9,901.9 L703.9,903.0 L703.0,904.0 L702.2,905.0 L701.4,906.0 L700.7,906.9 L699.9,907.7 L699.0,908.4 L698.0,909.0 L696.9,909.5 L695.6,909.9 L694.3,910.2 L693.0,910.4 L691.7,910.3 L690.5,910.0 L689.4,909.3 L688.4,908.3 L687.4,907.1 L686.4,905.8 L685.5,904.4 L684.5,903.0 L683.6,901.6 L682.7,900.1 L681.8,898.6 L680.9,897.1 L680.0,895.5 L679.0,894.0 L677.9,892.5 L676.7,891.0 L675.5,889.6 L674.3,888.1 L673.1,886.6 L672.0,885.0 L670.9,883.4 L669.8,881.7 L668.7,879.9 L667.7,878.2 L666.8,876.6 L666.0,875.0 L665.4,873.5 L664.8,872.1 L664.4,870.8 L664.1,869.5 L663.9,868.2 L664.0,867.0 L664.3,865.9 L664.9,864.8 L665.6,863.8 L666.4,862.8 L667.2,861.7 L668.0,860.5 L668.8,859.1 L669.7,857.5 L670.6,855.8 L671.5,854.2 L672.3,852.5 L673.0,851.0 L673.5,849.5 L673.7,848.1 L673.9,846.7 L674.1,845.4 L674.5,844.1 L675.0,843.0 L675.8,842.0 L676.8,841.1 L677.9,840.3 L679.1,839.6 L680.1,838.8 L681.0,838.0 L681.5,837.1 L681.8,836.1 L682.0,835.1 L682.3,834.2 L682.9,833.5Z" fill="#808080"/>
<polyline points="691.8,887.8 693.7,887.4 693.7,889.2 692.8,889.3 691.1,886.3 690.3,882.5 690.4,879.7 689.7,878.0 689.3,876.7 688.1,877.2 685.2,877.4 681.3,877.5 675.2,877.1 669.6,875.9 665.7,875.0 662.5,874.9 658.1,876.0 653.7,877.2 650.9,876.6 647.8,874.0 644.0,871.4 642.1,871.3 641.8,871.9 641.0,874.8 640.2,876.7 638.6,873.5 635.0,869.0 632.2,866.2 632.6,865.2 636.0,864.9 638.8,865.8 638.5,866.9 637.4,868.6 637.7,870.2 639.6,871.4 641.8,872.4 643.2,872.2 642.8,872.3 642.3,871.7 643.4,869.0 646.1,866.1 649.5,863.4 653.7,861.2 658.0,861.7 661.9,867.4 664.3,873.9 665.2,878.3 666.1,878.2 666.2,873.7 665.7,868.2 666.2,862.7 668.8,860.8 673.9,864.5 679.6,869.2 683.8,868.9 685.5,867.7 685.6,869.0 687.0,872.8 686.9,878.0 685.4,880.7 684.0,879.9 683.1,877.4 684.3,877.1 688.5,881.3 693.1,885.0 694.6,886.8 693.7,888.7 692.3,890.6 692.8,891.2 693.7,889.9 694.9,887.9 696.5,885.9 696.1,883.7 695.3,883.3 695.2,884.2 695.0,883.7 694.5,881.9 693.2,878.9 692.1,876.8 690.9,877.5 690.0,880.0 689.7,880.5 688.9,879.7 687.0,877.1 684.0,872.0 682.2,864.6 682.8,854.4 682.1,842.9 678.2,833.9 673.6,829.8 671.5,830.8 673.6,830.9 676.3,826.6 677.1,821.6 676.1,818.1 672.7,815.0 668.9,810.9 666.7,808.1 667.3,806.9 667.1,808.2 665.7,808.6 665.9,804.6 668.3,802.4 670.8,804.3 671.6,808.7 671.3,811.3 671.5,809.5 673.2,805.2 675.8,804.9 677.3,808.0 675.7,811.6 675.2,812.5 679.3,808.7 684.8,803.2 688.8,800.7 688.2,801.0 685.2,801.4 686.1,798.8 690.3,793.1 691.9,785.9 688.5,780.0 684.8,776.3 684.2,776.6 685.8,777.6 689.1,775.6 693.9,771.9 698.6,769.6 702.3,773.1 703.2,780.8 702.0,788.1 698.0,790.5 691.5,790.5 687.5,792.6 687.4,796.3 688.4,799.6 689.6,801.2 690.9,801.7 692.9,802.2 695.1,800.7 696.7,798.1 698.8,795.2 703.2,790.8 708.4,786.0 712.1,782.8 714.8,780.2 714.9,776.3 714.9,773.3 717.2,774.0 720.1,776.3 721.0,776.2 721.6,773.7 722.4,770.3 722.3,770.2 722.0,774.3 722.0,778.3 720.9,784.5 719.5,791.5 716.2,795.6 710.8,800.1 709.2,806.9 711.6,814.5 711.4,820.0 707.3,824.6 702.9,831.3 700.4,840.5 698.6,849.7 697.6,854.1 697.4,853.7 697.3,852.0 695.0,853.9 690.0,857.7 686.0,861.2 684.0,862.7 681.9,859.6 682.3,855.0 684.4,851.8 686.3,850.7 687.8,848.8 689.3,845.2 690.2,841.8 689.3,838.5 689.1,832.9 691.1,829.6 693.1,829.3 692.6,829.0 691.2,828.3 690.5,825.1 691.6,818.9 692.2,812.5 692.0,807.9 692.4,805.8 692.1,805.8 691.4,809.5 691.9,813.6 695.7,816.2 699.0,819.8 700.0,822.6 699.3,822.6 698.1,822.3 697.6,823.7 698.3,826.8 699.4,831.0 699.1,836.1 697.9,841.0 696.2,844.6 694.6,847.2 693.1,848.8 692.2,849.6 691.4,851.5 690.1,853.3 689.1,854.3 690.5,856.1 694.3,859.4 697.9,863.5 699.7,865.4 699.6,866.2 698.2,868.7 696.5,871.2 694.5,872.5 691.0,874.2 688.4,876.6 688.7,880.3 690.3,883.5 690.5,883.4 689.3,881.9 689.1,883.6 689.6,885.3 689.0,883.9 687.6,879.6 687.7,877.1 690.8,880.3 695.5,884.4 699.3,885.8 700.7,883.8 699.7,880.7 696.8,878.4 693.5,876.6 692.5,875.4 694.3,876.9 695.2,876.8 693.4,875.2 689.6,874.0 686.5,875.1 686.0,879.1 688.4,885.3 692.8,890.0 696.9,891.1 698.1,890.9 696.2,891.5 693.5,894.0 691.7,894.1 690.0,888.2 688.1,882.2 685.8,880.1 686.5,879.8 688.2,879.8 689.9,882.1 692.2,885.2 693.1,890.4 691.3,898.5 688.4,904.8 687.4,907.5 689.7,909.1 694.9,910.4 699.6,910.7 699.2,915.1 697.5,923.3 697.8,929.0 698.8,930.6 697.5,924.8 694.1,918.6 691.0,915.6 691.2,912.5 693.5,908.5 695.4,904.3 697.3,900.7 700.0,897.4 702.7,893.0 703.3,887.0 700.8,881.6 699.8,878.7 699.9,878.8 698.9,880.2 697.5,881.8 696.6,885.5 696.8,889.0 696.0,891.0 693.1,892.2 688.7,891.5 684.7,889.4 684.0,887.9 685.4,888.8 686.0,889.9 687.1,891.9 688.9,894.9 689.8,895.3 689.1,892.1 686.5,890.2 682.6,891.0 680.7,892.9 681.0,897.8 682.4,903.9 683.2,906.8 683.3,905.6 684.1,903.0 686.4,899.9 690.0,894.9 692.3,889.4 691.0,886.8 687.9,887.8 684.9,888.4 686.1,887.2 690.2,886.5 694.7,885.0 698.1,882.2 697.6,880.9 693.8,880.6 690.4,878.5 689.2,875.4 689.9,875.5 692.0,880.7 694.6,890.1 695.9,900.4 696.1,904.6 697.2,900.5 700.4,893.4 703.8,887.9 702.7,886.3 697.1,888.3 692.4,893.7 690.7,898.9 690.7,899.1 690.3,894.8 688.9,890.6 688.3,887.7 690.2,886.9 692.1,887.1 692.0,885.8 691.5,884.3 693.2,884.0 697.0,881.9 699.8,877.8 699.8,873.8 698.1,869.3 695.6,864.1 693.2,857.9 690.5,851.0 687.7,848.4 684.0,853.5 681.9,862.0 683.3,869.3 687.4,875.9 690.8,883.0 693.0,888.3 694.6,891.3 696.6,892.0 700.2,892.5 703.9,894.4 704.9,896.0 703.4,898.4 701.0,902.6 699.2,907.6 698.4,911.8 698.8,913.7 699.2,911.2 697.8,904.7 696.2,899.1 696.6,896.4 695.3,895.9 691.7,897.1 690.1,897.3 690.7,893.3 691.9,888.9 694.7,886.0 697.9,886.0 698.0,887.1 694.9,885.7 690.8,882.9 688.3,879.2 687.5,876.4 687.9,877.0 689.0,879.6 689.8,879.8 689.6,877.2 688.7,873.6 686.2,874.1 684.5,877.8 686.9,879.6 691.2,880.6 694.4,880.1 694.5,881.3 693.3,885.5 694.2,886.5 695.8,887.1 696.1,890.3 694.5,891.4 691.3,889.5 689.2,885.4 689.9,885.2 691.2,888.1 687.9,891.6 682.2,892.6 679.8,892.5 682.0,892.9 684.9,895.6 685.9,898.2 685.5,898.5 684.3,897.3 683.0,894.9 681.4,893.4 680.1,895.5 680.6,898.5 685.1,897.9 689.5,892.5 691.4,884.7 692.7,879.3 692.6,879.9 691.0,885.3 690.3,890.9 690.5,891.6 688.7,887.3 685.5,882.5 681.0,878.2 676.8,872.9 676.0,868.2 679.4,866.3 685.0,865.3 690.1,864.9 690.7,866.7 688.8,867.6 688.9,867.5 692.1,869.8 694.9,873.7 695.6,876.4 695.5,877.8 694.5,877.5 693.7,876.7 694.7,874.6 697.2,870.6 696.8,866.6 693.2,863.4 690.1,862.9 688.4,866.1 688.2,870.7 690.7,874.7 695.5,874.6 699.2,872.9 701.0,873.0 700.8,873.0 698.7,870.0 695.5,865.2 693.8,860.9 696.0,858.6 698.7,860.4 699.5,864.8 697.0,871.0 694.1,875.8 692.9,876.9 693.0,878.6 694.4,881.2 696.8,883.2 698.1,883.7 697.0,885.2 695.6,888.6 695.6,890.1 695.1,890.2 694.5,892.8 692.8,898.2 690.8,904.4 690.6,907.1 690.8,905.0 689.0,902.1 685.1,900.0 682.4,896.9 682.4,894.0 684.6,893.2 686.5,892.8 687.4,889.9 688.2,886.8 691.2,883.2 697.8,878.6 706.1,874.9 712.0,872.3 712.8,872.9 709.6,878.6 706.6,884.4 705.5,884.9 706.3,881.8 707.1,879.0 706.9,877.9 706.8,878.4 707.4,880.4 709.4,882.0 711.3,882.4 710.6,880.9 708.3,878.4 704.4,876.7 700.1,875.5 696.0,876.3 691.0,880.9 686.9,887.6 685.1,891.4 685.2,890.5 687.2,886.5 688.9,881.2 691.2,877.0 693.3,875.1 693.4,876.1 693.0,878.8 693.2,881.7 692.6,884.3 691.3,888.4 693.9,893.5 698.1,896.5 700.3,893.3 699.3,884.9 697.0,877.5 693.1,876.6 689.7,877.9 688.6,876.7 689.4,875.4 690.7,874.7 691.0,872.9 690.8,867.4 689.3,860.9 687.1,855.9 685.1,853.5 682.7,854.8 680.8,859.3 680.3,862.4 680.2,861.3 679.6,859.9 678.4,862.8 676.9,869.9 676.3,878.7 676.2,881.9 674.8,882.3 672.7,883.8 669.5,886.2 665.6,887.6 664.9,883.0 668.5,873.3 672.9,867.0 673.9,869.1 670.7,876.2 666.0,883.0 662.0,888.1 661.8,889.2 663.0,884.8 662.7,878.3 660.3,873.0 657.7,868.9 655.9,864.8 655.5,862.9 657.1,864.0 660.4,869.6 664.5,875.6 665.5,877.4 662.0,875.2 655.0,871.6 649.7,869.6 648.7,872.5 650.1,879.1 652.9,883.7 655.8,884.9 658.2,883.9 659.3,880.7 659.5,877.1 658.9,876.5 657.0,883.9 654.8,894.4 654.2,900.1 656.0,899.4 660.2,893.7 664.1,884.7 665.5,876.9 665.6,872.0 665.9,868.6 666.8,867.4 668.4,866.9 670.5,867.5 671.8,871.6 672.5,877.7 671.5,880.4 670.0,880.8 670.0,882.4 670.8,884.4 672.9,885.2 677.1,884.2 681.6,885.2 685.0,889.7 685.1,892.1 682.8,891.8 682.1,890.5 684.2,890.7 687.4,888.9 694.7,883.4 703.6,876.2 707.2,871.2 706.4,869.4 703.0,868.0 698.2,864.2 696.7,860.6 697.1,860.0 696.5,861.4 695.0,863.1 693.5,864.2 692.2,865.3 690.4,867.1 688.0,869.3 686.5,870.2 685.7,870.8 686.2,872.6 686.9,874.1 685.5,875.1 683.3,874.8 682.5,875.1 683.7,878.6 684.5,883.0 684.1,884.0 684.9,882.1 687.6,878.5 690.2,874.1 691.2,871.3 691.4,869.8 690.5,871.1 691.1,872.9 692.9,870.6 693.2,867.3 691.6,868.3 693.0,872.6 697.8,874.9 700.9,872.3 700.6,866.7 698.5,862.7 696.3,862.0 694.8,862.9 694.4,862.9 694.2,860.4 692.8,854.7 690.9,850.6 690.9,850.3 693.2,850.6 695.8,849.2 697.2,848.1 699.7,847.2 702.4,845.8 702.7,844.0 700.0,840.3 696.6,835.7 694.5,830.7 693.8,826.1 693.1,824.3 693.0,823.8 693.4,822.1 694.5,818.6 696.3,814.9 697.8,812.4 697.2,811.3 695.9,811.4 696.6,812.0 699.3,813.1 702.9,813.9 706.3,813.9 708.6,815.2 708.0,816.7 706.8,818.0 705.3,821.4 706.2,824.6 709.1,825.0 710.5,825.3 710.2,825.4 708.5,827.0 707.9,830.0 707.0,830.8 704.6,829.5 701.4,828.9 699.3,829.9 699.0,831.5 699.4,834.5 699.2,837.6 698.9,841.0 698.4,844.6 697.0,847.4 694.3,847.0 691.7,843.0 689.7,840.6 686.3,841.6 683.4,845.7 683.8,849.9 687.1,853.5 691.5,854.3 694.2,850.7 695.3,846.0 696.2,844.2 698.4,844.8 700.0,847.1 699.1,853.2 696.6,863.9 691.9,872.5 686.2,874.4 683.4,872.1 685.5,871.3 690.6,873.6 694.3,876.3 695.3,876.0 695.4,874.2 695.8,872.8 696.2,874.0 695.7,877.5 695.4,881.8 696.7,882.6 698.8,880.1 700.0,878.2 697.3,876.9 693.3,875.3 692.4,874.8 693.1,874.1 692.5,870.4 691.7,866.1 691.9,863.1 691.3,864.6 688.8,868.5 685.6,871.1 682.0,869.8 680.7,867.5 682.0,867.3 681.7,869.3 679.5,871.4 678.2,873.0 678.8,875.2 680.3,878.5 681.5,881.2 682.1,880.5 683.5,878.2 684.4,876.8 684.6,876.1 685.8,876.0 687.2,876.1 686.5,874.4 685.1,872.3 683.2,872.2 680.8,873.4 678.8,875.0 678.0,876.0 677.6,876.3 676.3,874.5 675.3,872.2 675.5,870.8 676.8,869.8 678.4,867.2 680.6,863.7 683.0,860.7 683.5,859.9 683.2,863.3 683.7,870.1 686.4,874.8 691.3,875.6 696.2,873.2 698.7,866.8 697.5,860.8 694.2,860.2 691.0,864.9 689.4,870.9 689.4,874.2 690.8,874.0 691.8,871.5 692.1,868.2 692.9,868.1 693.5,869.5 692.7,868.4 689.4,864.4 686.9,862.6 688.7,865.9 691.9,871.4 693.0,875.7 692.8,874.6 692.7,869.5 693.0,866.0 691.7,866.6 689.7,867.7 689.4,866.6 690.2,862.8 689.7,861.7 688.0,863.7 686.4,866.3 686.6,867.6 687.3,869.2 688.8,870.9 690.5,870.2 693.2,870.3 696.0,872.3 696.1,873.7 693.1,875.6 689.9,878.2 689.7,882.1 692.3,885.6 695.1,886.8 694.7,887.1 690.3,887.8 686.2,888.4 685.9,887.3 688.6,885.9 691.9,886.6 693.3,889.6 692.2,892.0 690.1,893.4 688.3,892.5 687.3,889.4 689.1,884.5 693.3,880.2 696.3,877.7 695.7,878.3 693.9,879.7 693.7,878.6 692.8,877.5 690.3,881.0 689.2,887.3 690.7,891.4 691.1,891.2 690.0,888.2 689.3,884.4 690.2,882.7 691.9,886.1 694.5,891.6 697.4,894.0 698.7,892.5 698.1,888.3 696.2,886.5 694.7,888.0 693.2,890.1 692.2,890.4 692.7,889.3 695.9,887.3 698.5,884.9 699.9,883.8 700.1,885.2 698.8,886.6 696.8,884.3 693.8,878.8 692.8,874.0 693.1,874.4 692.6,879.3 691.3,880.1 689.2,876.1 686.7,872.4 685.9,870.3 685.8,868.8 685.4,868.7 687.1,871.7 689.5,873.5 689.5,873.2 688.3,872.0 688.4,871.6 690.1,871.3 692.7,870.6 694.0,868.5 695.5,863.5 696.8,858.4 696.6,855.7 697.3,854.1 698.1,852.6 697.9,850.2 698.2,849.6 699.6,853.7 700.8,860.8 701.8,864.9 703.5,863.4 704.6,861.4 704.3,866.1 704.1,874.4 704.1,878.5 703.5,879.0 702.6,879.8 703.2,880.1 704.2,878.7 703.1,877.7 701.8,878.1 703.2,880.5 705.4,883.8 706.3,884.9 706.1,884.8 706.4,888.2 709.6,892.5 712.7,892.3 715.1,890.8 717.9,892.5 721.1,893.7 723.7,894.4 723.7,896.4 723.1,896.6 725.0,892.7 730.2,888.5 736.6,889.1 741.1,893.6 740.8,894.2 737.8,890.8 736.1,887.5 736.2,885.8 735.4,885.2 734.5,885.4 736.2,885.1 739.3,883.4 741.6,882.2 741.4,881.8 740.1,883.1 738.9,886.4 737.7,889.4 737.7,890.6 738.7,890.7 735.4,890.1 728.8,888.3 724.2,886.5 721.6,887.3 717.9,888.3 713.0,888.3 708.3,890.8 704.4,893.2 703.1,890.2 702.7,884.8 700.4,880.4 698.4,876.6 697.0,874.2 696.2,871.2 697.2,868.4 698.2,866.7 698.4,866.2 697.1,866.6 694.7,866.0 691.8,867.4 689.6,872.7 689.0,877.5 687.8,880.4 686.8,879.7 686.8,878.3 687.5,876.8 687.7,876.1 687.2,877.1 685.8,880.1 685.1,883.0 685.0,882.6 684.4,882.6 685.2,885.0 687.2,888.6 688.3,888.9 688.5,884.9 685.9,878.0 682.6,873.0 681.8,873.7 682.8,878.4 685.1,884.4 688.5,891.5 691.5,894.6 693.9,893.1 695.2,889.3 695.7,884.2 697.0,880.3 699.1,880.4 700.4,884.0 699.9,887.4 697.8,886.4 695.5,884.0 695.1,883.2 695.7,883.0 695.6,885.4 695.1,889.3 693.7,893.2 690.0,895.6 685.7,898.3 683.2,900.8 682.1,900.0 683.2,897.4 686.2,893.7 687.3,889.8 688.0,888.5 690.1,889.0 691.3,888.3 688.2,886.2 683.8,883.2 682.7,879.6 683.4,876.4 683.7,873.9 685.5,872.0 685.3,869.2 682.0,864.8 678.1,863.7 675.4,866.9 674.5,874.0 675.9,880.6 678.6,880.1 681.1,875.3 680.8,871.6 677.9,869.0 674.8,867.5 673.7,867.0 675.6,866.6 678.4,866.3 680.1,866.8 680.4,871.9 680.1,878.9 679.0,883.3 679.3,884.3 682.8,885.8 688.9,885.5 691.6,884.4 689.6,885.9 686.4,888.9 684.1,891.9 684.1,891.2 684.4,887.7 684.4,883.7 684.4,877.8 684.2,872.9 685.0,871.6 686.4,873.4 687.6,875.9 688.9,878.6 688.5,879.8 686.7,879.1 685.0,878.6 685.2,877.6 686.0,876.4 685.6,877.1 685.0,881.1 686.2,885.4 687.7,890.8 685.7,897.1 682.2,899.5 678.3,898.6 674.2,897.8 670.8,896.0 668.9,893.4 668.5,890.2 669.0,889.0 669.1,891.5 668.1,895.0 666.9,897.1 668.5,896.8 669.5,894.8 668.6,892.1 668.2,892.8 668.1,895.1 667.5,895.8 665.2,892.0 662.5,885.1 663.2,880.4 667.3,878.7 672.8,879.0 676.8,877.1 677.6,873.5 676.3,870.0 673.9,867.9 672.3,869.9 671.8,874.5 671.7,878.8 672.6,881.8 675.0,881.9 677.9,878.8 679.6,874.5 679.4,870.9 678.9,868.3 678.4,868.4 678.2,871.4 678.2,872.2 678.8,870.0 679.8,868.0 680.7,868.4 682.0,872.6 683.6,879.2 685.0,883.1 684.0,881.6 680.0,879.6 675.4,880.5 674.1,881.8 677.7,881.3 682.9,879.6 685.7,877.7 687.1,874.5 689.0,873.8 690.5,875.4 692.6,878.2 693.7,882.2 693.3,883.0 692.0,879.9 692.0,875.8 694.2,873.2 695.8,873.2 694.8,873.2 692.4,872.7 690.5,872.9 690.1,873.5 690.4,873.1 690.8,872.5 691.3,871.9 692.2,870.7 692.5,870.0 691.4,872.4 689.9,877.0 689.0,881.2 689.9,883.9 692.3,883.0 695.2,880.5 697.9,878.6 699.5,876.7 698.9,875.2 698.2,873.5 698.1,870.2 698.0,868.3 699.9,869.7 702.6,873.5 705.8,877.4 708.6,880.4 708.8,882.0 705.0,880.0 698.2,876.4 692.8,873.7 692.0,874.7 694.4,877.9 696.9,879.8 698.3,880.4 698.8,879.2 697.6,877.5 694.4,877.2 691.3,876.7 689.8,875.5 688.2,875.1 686.7,877.6 686.4,879.1 687.0,877.2 686.0,876.3 684.5,877.8 684.6,879.5 685.8,881.7 685.5,885.1 682.2,887.0 681.0,889.1 683.4,891.5 685.5,893.3 688.0,892.4 689.1,888.3 688.3,885.9 688.3,886.0 689.1,886.2 688.9,884.4 686.9,883.4 686.8,884.4 690.3,882.8 693.6,877.5 694.1,872.0 692.8,868.6 689.8,867.5 686.0,867.7 682.3,868.2 682.0,867.8 686.0,867.9 690.4,870.4 691.6,872.1 689.6,872.1 688.7,872.5 689.0,872.8 688.2,872.4 687.3,871.8 687.8,869.9 688.1,867.8 686.9,867.4 685.6,870.3 685.5,872.9 686.7,874.4 688.5,875.1 689.3,875.7 690.3,876.5 691.9,877.0 691.5,877.4 688.2,878.2 685.3,881.6 684.3,884.1 683.4,885.2 684.6,886.6 687.1,888.4 689.4,887.5 690.6,881.3 691.6,873.3 692.0,868.4 691.2,869.5 690.1,874.9 691.2,878.6 693.7,878.2 694.0,877.3 692.3,877.6 691.7,877.0 691.5,874.8 691.4,871.7 692.7,866.2 694.0,861.7 694.5,858.9 696.4,856.9 698.7,854.3 699.5,851.8 698.7,849.6 698.8,847.5 699.7,846.0 699.5,845.6 699.1,848.8 700.0,855.1 701.1,859.8 701.9,860.3 703.1,860.4 705.1,863.0 706.5,866.4 706.4,870.3 705.7,873.1 706.4,873.9 707.3,872.6 709.8,867.6 713.5,862.8 715.9,864.1 716.9,866.3 716.4,863.5 715.5,859.4 714.8,857.1 713.4,855.3 712.5,851.8 713.0,848.6 712.5,845.0 710.4,841.4 709.3,840.9 709.3,842.9 709.0,845.0 709.3,844.8 711.0,844.6 712.5,845.8 711.0,847.4 709.6,850.1 710.0,852.7 710.9,855.3 713.6,857.2 716.3,856.4 718.0,853.9 721.4,850.6 724.8,848.5 725.1,846.8 722.8,845.3 720.6,843.4 720.9,841.4 722.0,841.3 721.6,840.9 719.9,838.9 718.6,836.9 717.4,834.6 715.3,832.0 712.2,830.2 710.5,830.2 710.6,832.9 709.5,833.8 707.6,831.0 705.1,829.7 703.2,830.0 703.2,831.5 705.9,834.5 710.3,840.9 714.1,851.2 716.2,862.4 716.7,870.6 715.2,874.5 712.6,873.3 708.7,866.9 707.3,860.4 709.9,855.8 712.8,852.7 713.4,852.1 712.2,854.1 710.0,856.2 707.5,857.2 704.4,855.1 701.4,851.9 699.2,851.4 697.7,854.1 696.8,859.6 695.2,867.0 694.4,872.7 692.3,877.3 687.9,879.6 683.9,879.8 682.5,878.7 683.3,874.6 686.5,868.9 688.6,866.2 687.0,868.6 683.9,873.9 683.1,880.0 685.4,883.4 687.9,881.7 689.7,877.6 690.4,876.9 690.6,877.5 692.7,876.5 696.1,877.4 699.2,879.7 701.1,880.6 702.3,879.2 701.6,875.9 697.8,873.4 693.2,874.3 690.2,876.9 692.1,878.5 697.0,878.0 699.8,879.8 698.0,884.2 695.1,888.8 693.8,892.4 693.1,895.9 691.4,902.8 690.5,909.2 691.1,911.0 691.7,908.1 692.5,902.4 691.9,898.6 690.7,901.0 691.5,906.5 693.9,910.5 695.7,912.1 696.1,909.9 696.5,905.5 698.8,900.8 702.8,899.6 705.3,899.1 703.7,895.1 699.0,889.2 695.3,884.4 693.4,882.2 691.6,880.2 689.0,877.5 686.5,876.2 685.3,876.7 684.2,875.8 683.9,875.4 683.4,877.7 682.3,879.6 682.9,876.6 684.5,871.8 685.4,871.0 686.8,872.0 689.4,873.1 690.7,876.9 688.8,881.7 686.5,882.6 685.2,879.6 685.0,873.0 685.0,865.5 684.9,861.5 684.6,863.8 684.8,866.8 686.4,866.5 689.4,864.9 691.7,865.1 691.0,865.1 688.5,861.8 686.5,858.9 685.4,859.2 686.8,860.1 689.3,861.7 692.5,863.9 697.0,864.9 699.5,863.9 698.9,861.7 696.7,864.3 695.6,870.1 695.9,873.6 697.0,874.9 697.5,876.7 698.3,879.1 698.1,880.1 696.6,882.3 696.1,883.7 697.0,880.0 696.4,876.4 693.6,877.3 691.1,881.6 688.1,886.2 684.6,887.2 683.4,886.3 684.0,884.2 684.1,880.7 682.7,878.4 683.6,874.9 685.9,871.4 687.7,870.1 688.4,871.4 688.0,872.4 688.3,872.4 689.4,871.9 691.5,873.0 694.2,872.2 696.5,868.0 698.1,861.6 698.1,856.4 697.3,857.4 696.2,862.3 693.8,867.3 690.3,873.0 689.0,877.7 690.5,879.5 692.9,878.9 692.5,877.2 688.9,877.6 686.5,880.9 687.7,883.0 689.6,881.9 688.9,880.0 686.9,880.8 685.4,883.2 684.6,887.8 684.9,891.6 686.4,891.2 688.9,889.7 691.4,889.6 693.1,889.3 692.8,885.7 691.2,883.7 689.4,884.0 688.7,883.6 688.6,882.4 687.1,881.7 684.7,882.2 684.2,884.7 684.4,888.5 684.2,891.3 684.7,892.8 686.0,894.4 688.3,898.6 692.1,905.1 694.6,909.6 694.3,910.9 690.3,906.9 686.1,903.0 685.9,903.3 688.1,905.8 688.8,909.7 688.4,913.1 688.0,914.3 688.3,913.8 688.3,913.6 686.4,912.8 684.0,910.3 683.4,908.4 683.9,909.5 684.6,913.8 685.0,918.8 685.4,922.0 687.2,921.3 689.3,915.4 689.4,909.5 688.6,906.6 688.0,903.5 686.7,898.3 684.9,893.4 683.4,891.9 683.2,895.2 684.3,897.7 686.5,896.0 688.6,892.8 687.9,888.4 685.0,886.5 683.3,885.8 683.0,886.8 683.6,888.1 685.7,889.9 686.4,892.5 684.9,894.0 683.7,894.6 683.2,897.2 682.3,900.4 681.6,900.5 679.9,899.1 678.2,902.5 679.4,908.6 681.4,910.7 683.6,908.5 685.5,903.9 685.4,899.6 683.6,896.1 682.3,893.9 682.2,893.8 683.5,894.7 686.8,895.5 691.2,895.8 694.1,894.4 695.9,891.3 696.0,887.5 695.0,882.5 695.0,878.2 695.9,877.0 695.6,880.5 694.2,885.2 694.3,887.9 696.5,886.5 698.0,880.1 697.3,871.9 695.5,866.5 692.4,864.5 689.4,866.7 685.8,872.7 684.3,878.2 687.1,880.2 690.8,879.7 692.1,874.9 691.1,866.9 689.3,859.3 687.1,854.3 684.1,851.6 680.7,850.0 678.6,848.9 678.8,851.3 680.4,854.5 683.9,853.4 687.6,850.9 690.0,851.8 690.4,853.7 687.8,853.4 683.0,850.4 679.2,845.8 679.3,845.0 681.8,845.7 683.4,846.2 683.6,846.9 684.9,849.1 686.9,853.7 688.5,856.9 689.6,858.3 688.9,859.2 686.8,858.6 684.3,856.9 682.1,855.9 680.7,858.5 679.6,865.0 679.3,870.5 679.8,873.4 680.7,875.6 680.2,875.0 678.7,873.7 679.5,873.7 683.4,873.3 687.4,871.6 689.1,872.9 688.8,879.2 687.4,884.5 686.4,885.2 687.1,881.1 687.8,873.5 686.5,864.9 683.8,860.9 682.4,862.7 682.4,867.6 684.4,871.8 687.3,872.1 688.6,872.5 688.1,875.8 686.9,881.2 685.2,885.4 684.0,888.0 684.6,888.7 686.8,887.0 690.0,886.0 693.5,887.2 694.4,886.5 694.2,881.6 693.7,874.2 693.5,866.9 694.4,861.7 695.6,857.6 696.3,852.5 696.9,849.8 698.4,852.7 700.0,856.0 699.4,856.3 698.0,853.1 698.2,849.4 700.8,847.4 703.9,847.9 707.1,851.6 708.4,856.8 707.1,862.0 705.7,866.0 703.2,868.5 698.6,869.6 695.5,869.3 694.0,868.6 693.4,867.1 693.0,863.5 690.9,861.8 688.9,864.8 687.0,870.2 685.6,874.3 683.2,874.8 680.7,874.9 678.8,875.9 676.9,877.0 677.6,879.8 681.8,884.5 685.5,886.4 687.4,884.2 688.0,880.8 687.7,880.0 687.5,883.0 687.5,886.3 688.7,884.0 690.5,879.1 692.5,876.3 692.3,878.4 691.6,881.0 693.6,881.0 693.5,878.2 691.1,875.1 690.7,873.7 690.9,872.1 689.6,869.3 686.8,869.4 685.1,872.7 685.0,874.8 683.6,875.4 682.5,876.3 681.2,877.5 679.1,877.4 677.6,874.9 678.0,871.4 679.3,872.1 681.0,877.9 683.6,885.5 685.6,891.2 686.4,893.3 686.3,892.8 687.4,891.6 688.8,892.3 687.8,894.9 684.3,897.1 679.5,897.9 676.1,898.9 677.3,899.1 681.0,897.7 684.6,895.1 687.1,891.9 688.9,887.4 688.5,882.4 685.4,878.4 682.8,875.2 681.7,872.4 681.5,870.1 682.8,867.6 684.3,866.2 686.3,868.0 689.8,869.2 694.1,867.6 697.8,865.7 699.2,864.9 696.6,865.0 689.6,864.1 684.6,861.7 684.9,858.1 689.2,854.5 692.3,852.4 691.6,853.9 689.0,858.6 688.6,863.3 691.5,868.0 696.5,871.5 698.9,874.0 696.9,874.4 694.5,870.7 692.7,863.4 691.2,855.1 690.4,851.7 693.5,854.5 699.4,858.2 702.5,859.7 700.8,858.4 698.2,857.0 696.6,856.0 695.7,854.6 694.1,853.1 690.7,852.7 685.7,855.1 681.9,859.6 680.4,862.4 680.7,861.3 682.7,858.1 685.0,854.8 685.4,856.9 682.6,865.0 679.6,869.3 677.3,867.1 676.3,863.9 676.8,859.8 676.9,855.6 675.3,855.5 674.2,857.0 676.1,859.3 679.1,862.9 681.8,865.4 684.2,864.6 686.5,860.7 689.5,857.1 691.6,856.8 691.8,856.4 691.7,854.6 691.1,855.5 690.4,858.1 688.8,860.2 687.4,863.1 687.6,865.3 688.8,866.6 689.4,866.9 687.6,866.1 686.9,862.6 687.9,858.5 687.9,859.0 687.0,865.0 686.1,869.6 687.3,869.3 688.5,869.4 686.6,870.6 683.8,872.4 685.1,875.3 692.0,877.3 699.1,878.2 700.0,878.1 696.1,879.0 692.2,879.6 691.4,878.3 693.8,875.5 696.4,872.6 698.1,868.4 699.3,864.7 698.4,864.9 697.0,868.5 695.9,873.7 694.5,877.8 692.2,877.9 689.0,878.1 685.9,879.4 684.8,882.6 685.8,887.1 688.1,889.2 690.2,889.9 690.3,889.7 690.5,891.3 691.3,892.0 692.6,889.1 694.9,883.5 697.5,879.6 699.7,878.2 700.5,878.3 699.7,880.4 697.8,882.7 696.2,884.0 695.4,881.3 695.3,875.7 694.9,871.1 693.7,869.0 692.8,870.9 691.8,875.0 690.3,879.4 690.2,880.7 691.0,878.6 690.2,874.5 687.8,870.9 687.1,871.7 690.3,876.6 695.6,878.9 700.5,875.4 703.3,866.8 704.3,860.0 704.2,857.6 704.7,857.0 704.5,859.2 702.1,861.9 698.9,862.9 694.9,861.0 691.2,857.0 689.5,854.6 690.7,854.9 692.4,858.1 693.7,863.3 694.5,869.1 694.8,871.7 693.3,870.3 691.6,867.6 692.5,866.0 693.5,867.2 694.0,872.5 694.0,878.1 693.3,878.9 692.9,876.8 692.5,875.6 691.4,878.3 690.8,883.3 692.3,886.1 695.8,885.4 698.5,884.5 698.7,885.8 697.4,886.6 695.9,885.7" fill="none" stroke="#787878" stroke-width="1.9" stroke-linejoin="round" stroke-linecap="round"/>
<ellipse cx="687.98" cy="868.32" rx="54.6" ry="33.72" transform="rotate(-91.93 687.98 868.32)" fill="none" stroke="#ff0000" stroke-width="2.8"/>
<path d="M526.6 712V1027.2M517.8 1027.2H849.1M517.8 712H526.6M517.8 764.53H526.6M517.8 817.07H526.6M517.8 869.6H526.6M517.8 922.13H526.6M517.8 974.67H526.6M517.8 1027.2H526.6M526.6 1027.2V1036M580.35 1027.2V1036M634.1 1027.2V1036M687.85 1027.2V1036M741.6 1027.2V1036M795.35 1027.2V1036M849.1 1027.2V1036" stroke="#000" stroke-width="1.7" fill="none"/>
<text x="486.05" y="720.02" font-size="25" textLength="13.56" lengthAdjust="spacingAndGlyphs">3</text>
<text x="486.29" y="772.68" font-size="25" textLength="13.56" lengthAdjust="spacingAndGlyphs">2</text>
<text x="486.17" y="825.09" font-size="25" textLength="13.56" lengthAdjust="spacingAndGlyphs">1</text>
<text x="485.93" y="877.62" font-size="25" textLength="13.56" lengthAdjust="spacingAndGlyphs">0</text>
<text x="478" y="930.16" font-size="25" textLength="21.67" lengthAdjust="spacingAndGlyphs">-1</text>
<text x="478.12" y="982.82" font-size="25" textLength="21.67" lengthAdjust="spacingAndGlyphs">-2</text>
<text x="477.88" y="1035.23" font-size="25" textLength="21.67" lengthAdjust="spacingAndGlyphs">-3</text>
<text x="515.69" y="1071.5" font-size="25" textLength="21.67" lengthAdjust="spacingAndGlyphs">-3</text>
<text x="569.56" y="1071.5" font-size="25" textLength="21.67" lengthAdjust="spacingAndGlyphs">-2</text>
<text x="623.25" y="1071.25" font-size="25" textLength="21.67" lengthAdjust="spacingAndGlyphs">-1</text>
<text x="681.02" y="1071.5" font-size="25" textLength="13.56" lengthAdjust="spacingAndGlyphs">0</text>
<text x="734.47" y="1071.25" font-size="25" textLength="13.56" lengthAdjust="spacingAndGlyphs">1</text>
<text x="788.59" y="1071.5" font-size="25" textLength="13.56" lengthAdjust="spacingAndGlyphs">2</text>
<text x="842.34" y="1071.5" font-size="25" textLength="13.56" lengthAdjust="spacingAndGlyphs">3</text>
<path d="M1624.0,869.5 L1624.0,871.4 L1623.8,873.4 L1623.6,875.3 L1623.4,877.3 L1623.0,879.2 L1622.6,881.0 L1622.1,882.7 L1621.6,884.5 L1621.0,886.2 L1620.3,887.8 L1619.5,889.3 L1618.7,890.7 L1617.9,892.0 L1617.0,893.3 L1616.0,894.4 L1615.0,895.5 L1613.9,896.4 L1612.9,897.2 L1611.8,897.9 L1610.7,898.5 L1609.5,898.9 L1608.3,899.2 L1607.2,899.4 L1606.0,899.5 L1604.8,899.4 L1603.7,899.2 L1602.5,898.9 L1601.3,898.5 L1600.2,897.9 L1599.1,897.2 L1598.1,896.4 L1597.0,895.5 L1596.0,894.4 L1595.0,893.3 L1594.1,892.0 L1593.3,890.7 L1592.5,889.3 L1591.7,887.8 L1591.0,886.2 L1590.4,884.5 L1589.9,882.7 L1589.4,881.0 L1589.0,879.2 L1588.6,877.3 L1588.4,875.3 L1588.2,873.4 L1588.0,871.4 L1588.0,869.5 L1588.0,867.6 L1588.2,865.6 L1588.4,863.7 L1588.6,861.7 L1589.0,859.8 L1589.4,858.0 L1589.9,856.3 L1590.4,854.5 L1591.0,852.8 L1591.7,851.2 L1592.5,849.7 L1593.3,848.3 L1594.1,847.0 L1595.0,845.7 L1596.0,844.6 L1597.0,843.5 L1598.1,842.6 L1599.1,841.8 L1600.2,841.1 L1601.3,840.5 L1602.5,840.1 L1603.7,839.8 L1604.8,839.6 L1606.0,839.5 L1607.2,839.6 L1608.3,839.8 L1609.5,840.1 L1610.7,840.5 L1611.8,841.1 L1612.9,841.8 L1613.9,842.6 L1615.0,843.5 L1616.0,844.6 L1617.0,845.7 L1617.9,847.0 L1618.7,848.3 L1619.5,849.7 L1620.3,851.2 L1621.0,852.8 L1621.6,854.5 L1622.1,856.3 L1622.6,858.0 L1623.0,859.8 L1623.4,861.7 L1623.6,863.7 L1623.8,865.6 L1624.0,867.6Z" fill="#808080"/>
<polyline points="1588.1,852.3 1586.3,856.4 1585.5,861.2 1582.8,864.7 1579.0,867.0 1574.2,868.2 1568.3,870.1 1564.3,872.7 1563.8,874.7 1563.6,872.8 1564.2,869.0 1565.9,866.0 1568.4,865.8 1572.6,866.0 1578.4,866.0 1584.0,865.3 1588.4,864.0 1591.9,862.7 1593.9,861.4 1592.2,859.7 1590.9,858.9 1593.8,859.5 1599.0,860.4 1603.0,861.1 1605.6,860.7 1606.6,860.7 1606.7,861.2 1606.9,860.8 1606.7,860.5 1605.9,863.3 1606.3,865.6 1607.2,864.7 1607.4,862.1 1605.5,857.8 1604.0,853.6 1606.1,852.8 1610.5,856.2 1612.3,861.0 1608.6,865.6 1602.2,867.1 1597.8,865.3 1596.3,864.5 1594.0,865.7 1589.6,866.5 1586.3,864.7 1587.6,861.9 1591.6,858.7 1594.6,855.8 1595.6,856.3 1594.8,858.7 1591.6,859.0 1589.2,855.7 1589.3,852.1 1588.4,848.5 1585.1,846.6 1581.4,847.5 1580.6,849.9 1582.3,852.2 1586.8,853.4 1592.0,854.3 1595.1,854.7 1595.8,852.3 1594.6,849.0 1593.6,846.4 1595.5,844.3 1598.3,842.9 1600.1,843.0 1600.4,843.5 1599.1,845.0 1596.5,847.1 1592.4,849.9 1588.7,851.6 1586.4,849.5 1586.6,845.1 1590.0,843.5 1591.6,844.9 1589.6,848.4 1585.4,850.4 1580.4,847.8 1576.6,844.3 1573.5,843.2 1573.3,844.3 1575.4,844.9 1575.9,844.2 1573.4,843.0 1571.6,841.6 1571.7,841.5 1573.7,842.6 1576.7,843.9 1578.7,846.4 1578.8,851.2 1578.2,853.0 1578.7,852.4 1579.6,852.3 1578.9,852.5 1576.8,852.9 1574.9,855.6 1575.5,858.8 1576.8,861.0 1577.0,861.0 1577.2,859.4 1579.2,857.3 1582.3,856.1 1584.4,857.8 1583.7,860.6 1583.2,862.1 1584.9,861.0 1589.3,860.7 1593.8,860.2 1596.8,861.3 1599.6,863.7 1599.1,864.0 1596.5,865.0 1594.6,866.2 1593.8,868.0 1597.2,867.5 1603.2,862.6 1606.2,856.1 1604.4,854.2 1598.6,857.0 1593.6,858.9 1592.9,859.7 1594.5,858.5 1595.1,857.1 1594.5,855.5 1595.6,853.8 1599.6,852.5 1601.8,853.4 1599.8,856.7 1596.9,860.5 1595.5,864.6 1595.7,867.8 1596.7,867.9 1597.5,865.3 1600.2,863.0 1605.5,862.5 1610.0,861.2 1612.1,858.5 1610.8,855.6 1607.0,851.7 1601.9,848.9 1597.4,849.1 1594.3,850.8 1593.5,852.0 1594.7,852.7 1596.3,854.8 1599.1,857.5 1602.5,857.5 1604.9,855.2 1605.3,850.1 1604.1,845.7 1604.6,842.8 1605.8,840.4 1606.5,841.9 1609.1,845.2 1614.1,846.1 1618.0,840.5 1618.1,833.0 1615.1,828.8 1611.6,828.3 1609.9,830.9 1607.2,833.9 1605.1,835.0 1605.8,834.9 1608.9,835.1 1610.3,835.2 1607.7,837.6 1604.7,840.6 1602.0,843.4 1599.7,846.2 1598.3,845.9 1596.9,844.8 1595.7,845.6 1595.7,847.4 1595.2,848.3 1594.6,848.2 1595.1,848.2 1595.4,847.8 1596.9,845.3 1600.5,843.6 1604.9,845.4 1609.1,848.4 1613.1,848.8 1614.8,846.1 1615.3,843.2 1616.9,841.6 1618.9,841.5 1620.6,845.2 1621.4,852.8 1620.5,856.5 1618.0,855.2 1616.3,852.9 1615.2,850.2 1613.5,851.3 1613.2,855.8 1614.0,860.1 1614.6,863.5 1612.2,866.0 1609.9,867.0 1609.8,866.9 1610.7,867.3 1610.5,867.1 1608.3,867.4 1606.6,869.3 1605.6,870.9 1606.2,875.1 1606.6,881.5 1605.3,882.2 1603.4,878.0 1600.0,874.3 1597.6,871.8 1598.2,871.2 1600.4,873.0 1602.0,875.2 1602.0,877.3 1600.0,876.7 1598.7,871.4 1599.4,867.0 1600.3,867.7 1598.7,870.5 1596.8,872.5 1596.4,868.9 1596.3,861.6 1597.1,857.3 1598.4,858.5 1599.3,862.9 1601.5,868.4 1604.6,872.3 1607.6,874.1 1609.2,871.4 1607.9,867.5 1604.3,866.2 1600.6,868.8 1597.9,874.8 1598.4,881.8 1600.0,887.1 1598.7,888.9 1595.3,888.5 1594.7,887.5 1598.2,886.2 1601.5,886.6 1603.0,886.6 1604.6,882.7 1606.5,879.3 1608.1,879.2 1609.8,880.4 1610.1,879.7 1607.7,875.9 1605.6,873.1 1604.0,871.2 1601.3,870.0 1600.1,868.6 1600.0,868.9 1600.4,871.4 1602.3,873.7 1604.4,873.7 1606.4,871.4 1609.1,870.5 1612.2,872.2 1615.6,873.8 1617.3,871.2 1616.3,865.7 1611.6,861.8 1603.5,861.0 1598.3,862.6 1597.9,864.1 1599.8,864.7 1601.9,865.5 1603.1,867.0 1602.4,866.5 1599.9,864.7 1598.8,863.7 1600.8,862.9 1604.9,862.8 1606.9,861.5 1604.6,859.4 1600.6,858.5 1597.8,861.3 1596.4,866.4 1596.9,871.2 1598.9,873.8 1602.4,874.3 1606.5,874.3 1610.1,877.0 1613.2,880.5 1614.8,881.9 1616.1,879.0 1617.5,873.8 1617.4,869.8 1616.5,870.0 1616.2,875.3 1616.1,882.0 1614.8,885.3 1612.1,885.1 1611.9,884.9 1614.4,886.9 1614.7,887.0 1611.5,882.4 1605.6,876.8 1600.2,874.9 1597.8,877.6 1595.8,879.2 1592.5,875.3 1588.5,869.0 1586.4,863.8 1588.3,861.3 1594.1,860.9 1598.4,861.2 1600.5,862.2 1601.4,863.8 1602.2,866.0 1602.4,867.2 1599.8,865.0 1598.4,864.1 1599.4,866.4 1600.2,866.4 1601.1,862.7 1603.8,860.2 1606.2,861.0 1606.7,866.2 1607.1,871.4 1606.6,872.8 1605.1,871.1 1603.0,869.3 1599.7,869.6 1594.5,871.4 1589.6,872.4 1588.8,871.3 1591.3,870.9 1594.3,872.6 1599.1,876.4 1605.9,880.3 1610.8,881.8 1613.1,881.4 1615.1,879.5 1616.4,879.4 1616.8,880.4 1617.4,878.2 1620.2,874.3 1623.8,873.9 1624.0,876.9 1622.7,878.3 1621.7,876.9 1620.6,877.4 1620.1,880.9 1620.6,883.3 1621.5,882.9 1620.0,882.8 1619.0,881.5 1619.9,878.2 1621.7,876.7 1621.4,876.3 1616.6,874.8 1610.0,873.1 1605.5,873.8 1604.5,875.0 1606.9,875.5 1608.0,875.5 1605.2,874.5 1600.4,873.4 1598.7,873.5 1600.1,873.0 1598.7,872.8 1592.2,873.1 1585.6,874.4 1584.2,876.0 1588.2,874.6 1593.8,870.8 1596.2,868.0 1597.4,867.9 1598.9,868.1 1598.5,866.4 1599.9,864.6 1603.8,862.8 1607.2,861.4 1608.5,863.5 1609.6,869.6 1610.7,877.5 1610.8,884.7 1611.6,890.0 1613.1,893.3 1613.4,895.2 1612.2,895.3 1611.0,892.2 1608.8,889.9 1605.6,890.8 1604.2,892.0 1603.8,890.4 1603.0,887.4 1604.8,886.1 1608.0,887.4 1610.1,889.7 1611.1,889.3 1611.2,886.4 1612.4,882.1 1613.8,877.0 1613.5,873.6 1613.9,872.4 1614.0,872.5 1611.9,875.3 1609.4,879.5 1607.3,883.5 1608.0,886.8 1611.2,888.9 1614.1,889.6 1615.4,889.4 1615.7,889.4 1614.8,890.9 1611.5,892.2 1607.2,891.6 1604.4,890.3 1603.7,889.2 1604.5,888.1 1607.3,887.5 1611.3,886.7 1615.3,885.9 1616.1,884.9 1612.7,883.1 1606.1,880.9 1599.7,879.5 1595.9,878.7 1595.5,877.9 1598.0,878.0 1600.0,880.0 1599.8,884.5 1599.2,887.5 1599.4,886.6 1601.1,885.0 1602.7,885.5 1604.5,887.7 1604.3,890.2 1601.0,891.1 1598.2,890.6 1598.4,890.5 1599.8,890.1 1602.9,887.5 1607.1,885.2 1607.3,886.8 1603.9,890.4 1601.3,890.8 1600.9,886.3 1601.1,879.9 1603.0,874.7 1604.7,870.3 1603.8,866.8 1601.4,862.6 1599.0,858.8 1599.5,857.9 1602.3,860.2 1605.7,863.8 1609.0,867.0 1609.8,868.1 1609.5,866.9 1608.6,864.8 1606.8,865.1 1606.8,867.9 1609.4,872.9 1612.2,878.3 1612.7,879.6 1612.2,880.9 1613.4,883.7 1614.1,887.7 1611.4,891.1 1608.5,892.2 1607.6,890.4 1607.5,888.5 1606.4,888.2 1604.9,886.6 1604.7,883.8 1605.5,880.8 1606.1,878.4 1605.1,874.3 1602.1,868.5 1597.2,865.0 1593.1,865.4 1592.6,866.9 1594.2,866.4 1595.8,863.5 1598.5,861.0 1600.4,862.4 1599.5,865.2 1596.7,867.9 1593.4,869.1 1592.3,867.5 1595.9,864.1 1601.4,859.6 1606.3,856.2 1608.2,857.9 1607.5,863.2 1605.4,866.7 1604.9,868.1 1606.0,869.3 1605.8,873.6 1603.2,880.7 1599.9,884.2 1601.4,884.6 1607.0,886.2 1611.4,888.3 1613.2,888.9 1614.3,889.9 1616.5,890.1 1618.8,890.2 1618.7,890.3 1617.6,889.4 1620.3,887.4 1622.8,885.4 1622.8,885.0 1620.6,885.0 1617.8,883.9 1615.6,882.6 1612.5,881.4 1608.8,878.4 1607.4,873.0 1607.5,866.1 1605.1,860.6 1602.4,857.5 1602.6,854.6 1603.7,852.5 1604.4,851.4 1605.1,851.0 1605.1,853.8 1603.3,858.7 1601.3,863.9 1599.5,868.8 1596.8,869.6 1593.8,866.8 1590.3,863.3 1585.2,860.3 1580.8,859.3 1578.4,862.8 1577.7,870.4 1580.2,878.4 1583.7,883.4 1586.2,884.1 1588.6,880.3 1591.5,876.0 1594.2,874.1 1595.8,874.7 1597.3,874.7 1598.5,875.3 1599.2,878.9 1599.1,882.1 1597.7,881.4 1594.1,877.0 1589.9,872.3 1587.0,868.3 1586.0,864.2 1584.1,860.3 1582.1,857.9 1579.9,860.4 1578.4,867.4 1578.3,873.1 1579.3,874.4 1579.9,870.8 1579.5,865.2 1577.9,861.1 1576.8,861.5 1576.2,863.6 1576.3,863.9 1577.9,862.9 1578.8,862.4 1578.1,862.1 1577.6,862.1 1578.5,860.8 1580.8,858.0 1583.3,858.5 1584.6,861.7 1585.0,863.2 1584.9,863.3 1584.1,862.0 1582.1,860.6 1579.7,862.4 1577.7,864.7 1577.5,865.5 1579.8,866.4 1584.0,868.3 1587.4,869.3 1588.9,867.1 1589.4,864.3 1589.5,864.2 1591.4,867.0 1594.6,869.6 1597.7,869.7 1600.0,869.2 1601.5,870.1 1601.6,871.1 1599.8,871.8 1599.0,870.4 1597.6,868.4 1597.1,867.2 1598.8,868.6 1600.8,872.0 1601.2,874.8 1600.6,874.3 1601.9,871.6 1605.5,868.8 1607.6,867.1 1608.9,867.1 1612.2,869.0 1615.4,873.2 1614.7,877.3 1611.3,876.9 1607.4,871.9 1602.2,866.4 1598.6,865.9 1601.0,870.4 1606.7,873.0 1609.9,872.1 1610.3,872.7 1609.0,877.4 1605.4,882.4 1600.3,883.7 1596.3,880.4 1594.4,877.2 1594.0,876.6 1594.2,876.0 1594.5,872.7 1594.3,867.2 1594.1,864.2 1594.5,864.8 1596.9,867.4 1601.3,869.6 1605.6,871.3 1610.5,873.5 1615.4,873.2 1617.7,870.9 1617.7,870.5 1617.0,870.9 1617.4,871.4 1618.7,872.1 1619.0,873.8 1617.8,877.8 1616.4,883.5 1616.0,886.0 1615.3,884.5 1614.2,882.2 1612.9,879.8 1610.6,877.8 1607.3,874.6 1604.1,871.1 1603.0,867.5 1603.2,866.0 1604.3,866.7 1606.4,866.2 1606.9,864.3 1604.5,863.1 1603.0,862.2 1605.0,861.4 1608.3,862.5 1611.4,863.4 1614.4,862.8 1617.0,861.7 1619.3,862.0 1619.4,864.9 1618.5,866.6 1616.2,867.4 1613.0,868.9 1610.2,869.7 1608.1,870.6 1609.0,874.3 1611.6,880.0 1612.5,884.8 1610.8,889.1 1609.9,891.5 1609.0,891.0 1608.2,888.5 1607.9,886.7 1607.1,887.2 1605.4,887.9 1604.1,885.3 1603.9,879.5 1603.8,873.3 1605.3,866.8 1608.8,861.3 1611.7,857.5 1610.8,855.1 1605.7,853.2 1601.7,852.2 1602.9,852.4 1608.2,853.3 1613.7,856.0 1616.9,858.5 1617.3,859.9 1615.0,860.4 1612.3,860.2 1610.4,860.8 1610.1,861.6 1609.8,863.2 1609.4,865.5 1608.8,868.6 1607.2,872.4 1604.9,875.4 1602.5,877.1 1600.2,877.5 1597.8,878.4 1597.9,879.5 1599.6,881.2 1601.0,884.4 1601.3,886.9 1600.7,886.9 1601.5,882.2 1602.8,875.5 1602.4,872.2 1602.3,874.3 1604.0,877.8 1606.1,878.9 1607.0,875.0 1607.4,870.1 1605.5,868.2 1601.6,868.9 1599.3,869.0 1599.3,869.5 1600.8,871.9 1600.4,876.8 1600.0,879.3 1601.6,878.1 1602.2,878.2 1601.0,879.6 1601.2,880.1 1602.9,879.6 1604.4,877.4 1607.1,874.2 1610.6,874.1 1611.3,874.8 1608.7,873.2 1606.7,871.2 1607.6,870.9 1610.4,872.6 1614.7,875.9 1619.4,877.9 1623.0,877.3 1624.3,874.0 1623.3,872.5 1621.2,874.3 1617.7,876.1 1614.0,875.2 1612.2,871.6 1614.0,869.5 1617.7,869.9 1618.5,871.8 1615.6,871.5 1612.7,868.4 1610.3,864.1 1607.2,862.3 1603.0,862.3 1599.8,863.4 1600.5,866.7 1604.6,869.3 1608.9,869.5 1610.1,869.0 1609.3,869.5 1609.3,866.4 1612.3,859.8 1616.9,853.8 1620.3,852.2 1618.8,853.9 1613.2,854.2 1606.3,852.5 1602.9,850.5 1605.1,849.2 1607.3,849.4 1605.2,851.5 1602.6,855.9 1601.8,859.7 1603.3,861.1 1606.9,859.9 1608.5,857.1 1606.0,856.3 1602.6,857.8 1602.5,860.4 1604.5,861.4 1605.3,860.1 1604.8,859.3 1604.3,859.6 1603.8,862.8 1606.3,866.0 1610.2,866.0 1612.9,865.2 1615.3,865.6 1616.7,865.4 1619.3,866.5 1622.9,867.8 1624.4,868.0 1623.4,867.7 1623.3,868.6 1626.1,869.8 1629.3,869.3 1631.1,870.1 1631.7,871.7 1628.9,873.1 1624.2,873.3 1622.7,872.7 1624.4,874.1 1627.2,877.8 1628.9,880.2 1629.1,876.5 1628.0,871.6 1627.3,870.4 1627.9,870.8 1629.2,870.2 1630.2,869.4 1630.0,870.5 1630.8,871.5 1632.2,871.2 1633.3,870.8 1635.8,871.4 1638.4,873.5 1640.1,875.2 1641.2,875.1 1640.3,875.6 1639.8,877.9 1640.1,881.2 1640.4,884.4 1640.9,885.9 1641.7,885.0 1641.7,883.1 1640.1,883.1 1636.8,883.8 1633.0,884.8 1630.9,884.8 1630.8,884.8 1631.4,886.1 1631.3,885.9 1629.9,883.0 1628.6,879.7 1626.8,880.0 1623.9,883.6 1621.0,889.2 1618.6,892.6 1617.4,891.6 1619.1,884.5 1619.2,874.4 1615.8,868.1 1612.5,865.6 1611.8,863.5 1613.0,859.5 1613.2,855.3 1611.0,852.9 1608.1,853.2 1607.3,855.0 1607.6,855.0 1609.8,851.6 1612.0,847.2 1611.3,843.6 1609.6,841.6 1608.7,841.6 1607.5,844.5 1605.7,846.0 1603.7,845.4 1602.7,848.3 1603.7,854.7 1605.3,861.1 1606.5,865.8 1607.7,868.1 1609.1,868.0 1612.1,866.5 1614.5,863.8 1614.5,860.4 1610.6,859.7 1605.9,865.9 1602.8,874.7 1601.1,878.5 1601.7,878.6 1604.1,879.3 1606.2,881.3 1607.4,882.5 1607.2,882.4 1607.4,881.4 1608.9,878.2 1610.4,873.6 1611.0,871.2 1609.7,873.6 1610.0,878.1 1609.8,882.0 1606.9,883.5 1605.0,882.0 1604.3,880.7 1602.3,882.1 1599.5,883.6 1598.3,883.5 1598.2,882.2 1600.3,879.6 1602.7,876.7 1602.4,877.6 1600.1,884.3 1598.5,890.2 1600.7,891.7 1604.0,890.8 1607.8,889.2 1608.2,887.3 1604.8,883.4 1600.9,880.2 1597.1,879.1 1594.6,879.4 1595.7,879.8 1599.6,879.1 1602.4,877.7 1602.5,875.6 1602.2,874.9 1601.0,876.2 1599.8,877.7 1598.5,877.0 1597.9,874.1 1599.1,870.8 1601.2,869.0 1602.1,868.5 1602.5,868.0 1605.5,868.1 1611.0,867.7 1617.1,868.2 1622.1,869.4 1624.6,867.8 1625.5,864.5 1625.0,863.2 1621.1,862.5 1615.1,860.5 1609.6,859.6 1607.1,858.1 1607.0,856.8 1606.7,857.6 1607.9,858.1 1609.5,858.8 1606.7,858.6 1600.1,857.9 1593.5,856.6 1589.9,853.0 1588.1,848.9 1587.1,846.7 1587.0,847.8 1589.5,847.2 1592.0,842.8 1593.4,840.5 1593.5,841.0 1594.5,840.2 1598.9,839.1 1604.1,840.2 1607.0,842.9 1607.2,846.6 1606.8,849.9 1608.1,850.4 1609.0,848.0 1606.5,844.7 1600.2,844.4 1595.4,847.0 1595.4,849.1 1598.1,852.2 1599.1,858.9 1598.4,865.0 1597.7,867.3 1598.4,867.3 1601.2,867.1 1603.2,864.6 1602.2,858.8 1601.6,852.3 1600.3,846.0 1599.5,842.2 1599.6,841.7 1600.4,842.0 1602.6,842.4 1606.2,842.7 1610.1,840.8 1611.6,839.3 1609.7,840.0 1603.8,843.2 1599.5,845.4 1599.5,846.6 1601.3,849.4 1601.5,851.3 1599.7,851.2 1597.3,849.0 1596.2,845.7 1598.4,842.2 1600.9,839.6 1601.6,840.4 1601.2,845.9 1599.5,852.3 1597.6,856.8 1598.3,859.9 1600.4,863.8 1600.7,866.2 1599.3,864.3 1597.2,858.2 1596.0,851.4 1595.9,847.4 1596.4,845.9 1596.5,845.8 1595.6,845.6 1592.7,847.5 1592.0,850.2 1595.3,852.2 1599.3,851.9 1600.6,850.0 1598.1,848.1 1594.5,846.9 1593.1,846.9 1593.5,848.1 1593.3,851.0 1592.0,855.0 1590.8,857.7 1591.3,857.5 1594.2,855.6 1598.8,854.4 1604.7,854.6 1609.7,857.3 1610.9,860.9 1609.9,866.0 1609.5,871.1 1610.1,873.5 1611.3,871.8 1613.1,867.2 1615.1,864.6 1616.0,866.4 1616.7,869.2 1617.2,870.3 1616.6,869.2 1615.9,866.5 1616.7,864.6 1616.8,867.0 1615.8,872.2 1614.6,876.2 1612.6,877.4 1609.1,875.6 1606.1,874.3 1605.0,875.6 1605.1,878.1 1605.1,878.8 1605.6,875.5 1608.5,871.6 1612.7,867.5 1615.7,864.5 1617.9,863.6 1620.9,863.4 1623.4,865.1 1622.2,865.3 1616.7,862.7 1609.7,859.6 1605.6,857.7 1606.2,857.9 1607.1,860.3 1605.9,863.5 1604.8,863.8 1604.4,863.3 1604.1,864.7 1603.6,867.5 1602.7,871.0 1600.2,873.4 1598.3,873.2 1597.1,872.2 1597.7,872.9 1600.4,873.7 1601.5,872.9 1600.9,871.9 1599.1,871.7 1598.0,869.2 1599.4,863.0 1600.1,855.9 1598.1,852.4 1597.0,851.7 1597.8,853.4 1599.9,856.4 1603.8,859.8 1608.3,862.3 1612.6,861.8 1615.0,860.2 1614.7,860.5 1614.0,861.3 1614.3,861.9 1614.3,863.0 1612.0,865.2 1607.6,868.1 1605.1,869.5 1605.1,868.7 1605.5,867.7 1605.3,869.8 1604.7,873.4 1604.2,874.1 1605.3,870.9 1608.4,866.0 1610.7,864.1 1609.6,864.9 1606.1,865.5 1602.8,864.5 1599.5,865.1 1598.2,869.5 1599.3,874.9 1599.7,879.4 1600.3,882.0 1604.3,884.3 1610.2,885.9 1612.8,887.0 1611.1,887.2 1608.8,883.6 1608.4,877.8 1608.9,872.6 1609.9,870.1 1608.5,868.7 1605.0,867.9 1602.3,870.5 1602.7,873.1 1603.9,874.5 1605.8,875.6 1607.5,877.1 1609.1,878.1 1609.8,879.4 1610.2,882.1 1609.7,885.0 1608.8,887.2 1606.5,888.0 1604.6,886.6 1604.5,886.3 1605.7,888.6 1604.2,893.0 1599.4,897.1 1597.0,897.9 1600.1,894.6 1605.6,891.6 1609.7,891.4 1612.4,893.1 1614.0,896.8 1615.7,901.1 1619.0,903.8 1622.0,903.7 1621.4,902.3 1616.9,900.7 1610.4,898.5 1606.6,896.4 1606.9,892.6 1608.7,889.4 1611.4,889.1 1613.6,892.7 1614.3,898.8 1613.5,903.3 1612.2,904.4 1611.1,901.4 1611.0,896.8 1612.0,891.5 1614.4,887.1 1619.4,885.1 1625.2,884.8 1627.7,884.9 1626.6,885.0 1625.1,885.2 1624.5,886.1 1623.7,887.3 1622.9,886.7 1624.0,884.4 1623.7,882.0 1618.5,879.0 1611.3,874.3 1606.8,870.2 1606.6,869.4 1607.0,872.8 1605.2,876.4 1601.7,878.9 1598.0,880.9 1595.6,884.4 1595.2,888.5 1596.8,891.1 1599.0,890.6 1602.8,888.4 1608.0,885.9 1612.5,882.5 1613.7,880.6 1613.1,880.6 1612.8,882.5 1611.5,884.7 1608.5,885.8 1605.4,886.6 1603.4,888.4 1603.7,891.7 1604.9,893.1 1603.7,892.2 1601.0,889.2 1599.4,884.2 1599.2,882.3 1599.8,884.2 1602.2,883.9 1604.0,881.4 1603.5,879.0 1602.3,876.5 1598.7,874.1 1596.3,874.9 1596.8,878.7 1597.0,881.3 1596.9,880.5 1598.2,876.6 1599.9,872.2 1599.2,868.0 1596.9,863.4 1595.8,860.1 1595.6,858.7 1596.3,857.6 1596.8,856.8 1596.3,855.6 1595.1,854.9 1593.5,855.2 1591.8,855.1 1590.9,856.5 1591.6,861.6 1592.7,868.1 1594.9,871.5 1600.0,872.5 1604.9,871.8 1606.0,869.9 1603.7,868.6 1601.3,870.2 1599.5,872.8 1600.4,874.6 1604.1,876.5 1606.3,878.4 1605.5,880.5 1604.1,883.5 1604.1,886.5 1606.1,887.2 1608.4,885.1 1610.1,882.3 1610.0,881.4 1609.4,883.2 1611.2,883.8 1614.0,882.4 1611.3,881.2 1603.9,879.8 1599.9,877.1 1600.6,874.0 1602.4,872.4 1602.9,870.9 1601.9,868.4 1601.0,866.4 1602.7,864.7 1606.7,862.6 1611.2,859.6 1613.2,858.7 1613.0,860.3 1613.5,861.0 1615.5,859.6 1616.5,855.4 1614.3,850.0 1610.2,844.8 1605.3,841.8 1600.7,842.5 1598.3,846.3 1599.1,849.9 1602.6,851.5 1604.3,852.4 1603.8,852.5 1604.4,852.7 1606.1,851.8 1605.8,849.7 1604.4,849.1 1606.3,850.0 1610.1,851.2 1611.5,851.3 1609.2,849.2 1606.2,844.6 1605.0,841.0 1605.4,838.2 1608.3,837.5 1612.0,840.6 1615.1,841.5 1616.9,837.5 1617.3,831.9 1615.3,827.3 1612.3,826.4 1612.0,829.5 1612.3,833.5 1609.3,836.0 1605.3,835.6 1604.2,834.8 1604.9,833.7 1606.5,830.3 1607.5,828.2 1608.7,830.6 1609.9,833.9 1610.2,835.7 1610.8,838.5 1611.1,840.9 1611.8,842.2 1612.6,844.7 1610.8,848.1 1606.3,850.3 1602.7,851.4 1600.8,851.2 1599.4,848.2 1599.8,844.8 1602.7,841.1 1605.1,838.4 1602.7,839.2 1599.7,843.4 1598.2,849.4 1598.4,854.0 1599.0,856.9 1599.0,857.6 1599.6,855.3 1601.8,852.9 1604.7,851.6 1605.4,851.4 1604.7,853.1 1604.1,856.4 1604.1,858.5 1604.2,859.8 1603.1,861.2 1600.0,862.1 1598.2,863.7 1599.5,866.7 1601.3,867.8 1601.3,864.8 1601.1,860.6 1601.2,856.4 1600.4,854.5 1597.9,855.9 1596.8,857.7 1600.1,858.5 1604.7,857.9 1606.4,856.7 1605.7,856.0 1606.4,856.0 1607.8,858.4 1608.4,860.4 1609.5,861.3 1610.2,860.8 1610.6,859.5 1611.0,858.6 1610.9,859.4 1609.4,863.8 1609.3,868.3 1613.3,870.5 1619.2,869.8 1622.3,868.9 1621.4,867.4 1618.7,862.9 1616.2,858.9 1614.3,857.3 1613.0,856.3 1611.3,854.5 1609.9,854.5 1609.3,854.4 1608.3,854.4 1604.9,856.4 1600.0,857.4 1596.5,858.3 1596.2,859.5 1598.2,858.8 1600.0,855.7 1601.1,854.7 1602.5,856.4 1607.0,857.9 1611.7,858.1 1613.3,857.8 1612.1,859.6 1611.0,863.9 1610.0,867.9 1608.9,867.4 1608.4,863.4 1608.0,860.4 1610.2,862.3 1613.4,867.8 1614.1,872.5 1611.4,873.1 1606.8,871.4 1603.2,871.6 1602.1,873.8 1603.2,872.3 1605.0,866.8 1607.1,862.8 1606.8,860.6 1605.7,860.6 1605.3,863.4 1605.3,867.1 1604.9,867.4 1602.5,866.3 1599.3,864.1 1596.6,862.3 1594.2,863.3 1592.1,865.5 1592.4,866.6 1594.4,867.3 1593.9,865.9 1590.1,862.0 1586.7,860.2 1586.3,861.8 1588.4,865.8 1590.8,870.3 1594.2,874.6 1599.1,877.3 1602.8,875.5 1603.3,869.4 1601.2,865.3 1597.9,865.5 1596.8,867.4 1596.6,868.6 1596.4,870.0 1599.1,870.7 1601.7,870.3 1600.7,869.8 1598.1,869.4 1595.0,870.5 1592.8,870.2 1592.8,869.0 1594.3,866.5 1596.7,862.6 1598.6,861.2 1597.6,861.7 1595.8,860.7 1595.2,860.1 1596.2,861.3 1599.5,863.5 1604.3,864.0 1609.7,862.3 1613.2,860.9 1613.5,860.5 1610.2,861.7 1605.0,864.2 1603.4,864.8 1605.8,862.8 1607.3,857.1 1606.1,850.8 1604.8,847.1 1604.6,845.7 1604.7,846.5 1607.3,849.2 1609.6,851.5 1610.1,854.3 1607.8,857.5 1602.9,861.2 1599.2,864.5 1598.8,867.4 1601.3,869.9 1603.3,869.6 1604.1,868.9 1604.6,870.5 1604.9,873.7 1605.8,877.7 1607.8,883.1 1612.1,887.9 1616.7,891.4 1620.3,893.3 1622.8,890.4 1622.3,884.4 1620.6,880.0 1619.6,876.1 1619.1,872.2 1618.0,867.9 1615.9,862.7 1612.1,859.8 1608.3,860.1 1606.6,862.3 1606.8,862.8 1607.1,860.9 1605.4,858.0 1602.4,855.8 1600.3,854.2 1598.3,853.5 1595.7,856.0 1595.3,857.5 1597.6,854.9 1598.9,852.6 1598.5,853.8 1597.7,854.5 1597.7,855.8 1596.5,860.1 1595.1,865.0 1594.2,867.1 1594.2,866.7 1595.1,867.0 1596.9,868.1 1598.8,871.1 1600.3,874.3 1603.6,874.7 1606.8,875.5 1609.0,880.1 1610.2,885.3 1609.5,886.8 1608.0,884.8 1607.1,880.0 1607.3,875.5 1609.0,870.1 1612.7,862.5 1617.2,857.1 1621.0,854.3 1621.2,854.1 1618.7,857.2 1617.9,861.4 1619.0,863.7 1621.0,863.5 1624.7,860.7 1627.4,858.5 1627.7,857.9 1626.2,858.7 1623.2,860.2 1620.4,861.7 1618.9,861.6 1620.1,861.2 1622.7,862.9 1624.0,864.7 1624.0,867.5 1622.3,871.3 1620.5,870.4 1620.6,865.7 1620.3,860.5 1618.6,857.2 1618.5,855.5 1618.1,855.0 1618.5,855.6 1619.1,857.3 1618.4,857.9 1618.7,856.5 1621.2,856.3 1623.3,858.7 1623.7,860.4 1624.6,859.9 1625.7,858.9 1627.2,858.7 1628.5,860.9 1628.2,864.8 1627.1,869.1 1624.8,870.3 1622.6,868.5 1621.4,867.5 1621.5,870.1 1622.6,873.9 1624.0,877.1 1626.1,880.1 1628.9,881.7 1632.2,880.5 1633.1,878.1 1631.6,877.1 1630.3,875.3 1628.3,871.0 1624.7,865.6 1621.6,860.6 1619.8,856.9 1617.9,857.0 1614.8,859.6 1612.5,859.3 1610.5,858.4 1608.8,859.0 1604.8,861.9 1598.0,865.8 1593.6,867.8 1593.7,866.7 1597.4,864.8 1601.3,864.5 1603.3,866.1 1605.5,870.9 1607.7,876.0 1609.5,878.5 1608.7,879.5 1604.8,880.9 1599.7,881.4 1596.3,881.4 1594.9,882.3 1594.0,883.7 1594.2,883.5 1596.1,883.0 1598.6,884.1 1599.4,887.7 1600.5,892.4 1602.7,894.1 1605.4,891.2 1607.9,888.1 1609.9,886.1 1611.4,883.5 1614.5,881.6 1619.0,880.9 1621.0,880.2 1618.9,879.9 1615.4,880.3 1612.2,880.9 1612.5,879.8 1613.8,878.5 1614.7,880.8 1616.9,885.5 1617.1,889.3 1613.6,890.1 1610.3,888.4 1610.4,886.6 1613.5,885.3 1616.7,883.1 1618.1,882.3 1618.2,881.7 1616.0,882.2 1611.3,882.1 1607.9,880.5 1609.0,879.3 1613.3,879.3 1617.8,880.1 1619.4,883.7 1618.4,889.2 1615.7,893.9 1612.3,895.0 1609.0,893.4 1605.8,891.1 1603.3,888.4 1601.7,885.4 1600.5,882.5 1599.8,878.3 1600.0,873.8 1600.7,871.7 1600.3,871.8 1599.1,871.2 1601.1,869.7 1606.1,868.7 1609.1,867.3 1606.6,864.6 1602.4,860.2 1601.1,857.0 1602.1,858.0 1603.8,862.2 1606.7,866.2 1610.0,867.7 1614.2,867.2 1616.4,866.3 1614.5,866.4 1610.9,864.8 1609.3,861.4 1611.3,860.5 1615.2,862.3 1619.3,862.4 1621.3,859.0 1622.6,856.4 1625.5,857.6 1628.2,859.7 1629.9,859.4 1629.5,857.1 1628.3,854.2 1625.1,851.7 1620.6,850.4 1617.9,852.2 1617.0,857.3 1615.4,862.2 1613.0,864.3 1609.7,862.7 1605.9,860.9 1604.0,862.5 1605.7,865.3 1609.1,868.0 1612.4,870.4 1614.2,869.2 1615.4,866.7 1615.9,866.2 1615.7,868.1 1615.4,871.3 1615.6,873.3 1614.7,874.1 1611.9,873.8 1610.1,872.0 1609.7,872.1 1609.4,873.8 1608.7,876.3 1606.0,876.9 1601.6,874.7 1596.2,871.2 1592.1,868.6 1590.4,866.9 1591.1,864.6 1592.6,862.3 1592.3,862.8 1592.6,865.9 1594.0,870.1 1595.8,871.9 1598.8,872.0 1601.1,872.5 1601.8,870.7 1603.9,866.1 1606.4,863.0 1607.3,864.0 1607.3,867.7 1608.0,871.8 1609.2,874.2 1609.6,873.8 1608.5,871.0 1606.7,870.3 1605.9,873.3 1608.5,878.6 1612.8,884.1 1613.8,885.8 1610.4,882.8 1606.3,877.4 1603.1,872.0 1600.6,867.2 1598.3,865.0 1596.9,866.8 1597.3,871.2 1598.3,874.3 1599.4,874.2 1600.4,873.6 1601.6,873.8 1601.8,873.3 1602.8,873.4 1606.9,875.1 1612.7,878.9 1615.7,882.7 1614.6,881.5 1612.8,876.6 1611.5,872.8 1609.9,870.9 1610.4,872.2 1614.8,876.6 1620.2,881.9 1623.4,885.3 1623.2,883.9 1623.3,877.6 1623.4,871.6 1621.7,869.8 1618.6,871.3 1614.2,872.4 1611.9,872.5 1613.0,872.9 1615.8,871.2 1618.8,868.1 1619.4,866.9 1619.0,868.1 1618.2,871.5 1615.6,875.1 1614.2,875.8 1614.5,877.5 1613.7,881.5 1611.4,883.2 1607.8,879.7 1604.9,873.5 1601.8,872.1 1598.9,873.9 1597.5,872.1 1596.6,868.5 1595.9,867.2 1596.2,867.2 1595.6,867.8 1594.6,869.8 1593.8,871.0 1592.6,870.3 1592.3,867.6 1595.1,865.1 1598.8,866.3 1601.3,871.1 1603.4,877.7 1604.5,882.0 1604.6,882.3 1604.6,880.0 1605.1,876.8 1607.2,877.0 1610.4,877.2 1610.1,875.1 1607.1,873.3 1603.7,871.5 1601.2,869.2 1600.2,866.5 1599.9,865.9 1600.1,868.1 1601.5,870.7 1604.5,871.4 1606.3,870.3 1604.5,870.3 1602.6,872.8 1601.9,874.8 1604.5,873.4 1609.6,869.6 1613.9,865.4 1616.1,863.0 1616.1,863.2 1614.5,866.9 1611.6,874.0 1608.9,879.9 1607.9,881.9 1607.2,880.8 1607.3,878.1 1604.7,874.0 1599.4,869.1 1594.7,866.0 1592.4,866.0 1592.0,867.9 1591.1,869.7 1590.7,872.4 1590.2,874.3 1586.7,870.6 1583.0,862.6 1582.5,856.3 1584.9,856.3 1588.9,858.1 1593.9,858.5 1596.1,859.0 1595.4,860.4 1594.7,861.9 1594.2,865.4 1593.4,869.3 1592.9,869.9 1594.1,867.9 1597.2,867.6 1602.2,870.6 1606.5,874.7 1607.7,876.7 1605.4,878.1 1601.8,880.4 1599.8,879.1 1601.1,873.8 1604.9,869.3 1607.5,867.6 1606.5,868.0 1603.0,871.6 1601.2,877.1 1600.6,880.9 1600.6,882.1" fill="none" stroke="#787878" stroke-width="1.9" stroke-linejoin="round" stroke-linecap="round"/>
<ellipse cx="1605.72" cy="869.37" rx="33.69" ry="22.71" transform="rotate(-91.47 1605.72 869.37)" fill="none" stroke="#ff0000" stroke-width="2.8"/>
<path d="M1444.8 713.9V1025.5M1436 1025.5H1765.4M1436 713.9H1444.8M1436 765.83H1444.8M1436 817.77H1444.8M1436 869.7H1444.8M1436 921.63H1444.8M1436 973.57H1444.8M1436 1025.5H1444.8M1444.8 1025.5V1034.3M1498.23 1025.5V1034.3M1551.67 1025.5V1034.3M1605.1 1025.5V1034.3M1658.53 1025.5V1034.3M1711.97 1025.5V1034.3M1765.4 1025.5V1034.3" stroke="#000" stroke-width="1.7" fill="none"/>
<text x="1404.25" y="721.92" font-size="25" textLength="13.56" lengthAdjust="spacingAndGlyphs">3</text>
<text x="1404.49" y="773.98" font-size="25" textLength="13.56" lengthAdjust="spacingAndGlyphs">2</text>
<text x="1404.37" y="825.79" font-size="25" textLength="13.56" lengthAdjust="spacingAndGlyphs">1</text>
<text x="1404.12" y="877.73" font-size="25" textLength="13.56" lengthAdjust="spacingAndGlyphs">0</text>
<text x="1396.2" y="929.66" font-size="25" textLength="21.67" lengthAdjust="spacingAndGlyphs">-1</text>
<text x="1396.33" y="981.72" font-size="25" textLength="21.67" lengthAdjust="spacingAndGlyphs">-2</text>
<text x="1396.08" y="1033.53" font-size="25" textLength="21.67" lengthAdjust="spacingAndGlyphs">-3</text>
<text x="1433.89" y="1069.8" font-size="25" textLength="21.67" lengthAdjust="spacingAndGlyphs">-3</text>
<text x="1487.45" y="1069.8" font-size="25" textLength="21.67" lengthAdjust="spacingAndGlyphs">-2</text>
<text x="1540.82" y="1069.55" font-size="25" textLength="21.67" lengthAdjust="spacingAndGlyphs">-1</text>
<text x="1598.27" y="1069.8" font-size="25" textLength="13.56" lengthAdjust="spacingAndGlyphs">0</text>
<text x="1651.4" y="1069.55" font-size="25" textLength="13.56" lengthAdjust="spacingAndGlyphs">1</text>
<text x="1705.2" y="1069.8" font-size="25" textLength="13.56" lengthAdjust="spacingAndGlyphs">2</text>
<text x="1758.64" y="1069.8" font-size="25" textLength="13.56" lengthAdjust="spacingAndGlyphs">3</text>
<text x="884.2" y="26.73" font-size="37" font-weight="normal" textLength="92.51" lengthAdjust="spacingAndGlyphs" fill="#000">Foam</text>
<text x="890.67" y="604.02" font-size="37.96" font-weight="normal" textLength="80.64" lengthAdjust="spacingAndGlyphs" fill="#000">Solid</text>
<text x="452.79" y="74.09" font-size="35.63" font-weight="normal" textLength="39.16" lengthAdjust="spacingAndGlyphs" fill="#000" style="stroke-width:0.7px">EC</text>
<text x="1357.7" y="74.49" font-size="36.2" font-weight="normal" textLength="44.17" lengthAdjust="spacingAndGlyphs" fill="#000" style="stroke-width:0.7px">EO</text>
<text x="464.58" y="667.2" font-size="35.49" font-weight="normal" textLength="39.38" lengthAdjust="spacingAndGlyphs" fill="#000" style="stroke-width:0.7px">EC</text>
<text x="1363.81" y="667.69" font-size="36.2" font-weight="normal" textLength="44.06" lengthAdjust="spacingAndGlyphs" fill="#000" style="stroke-width:0.7px">EO</text>
<text x="67.98" y="47.9" font-size="28.99" font-weight="bold" textLength="20.91" lengthAdjust="spacingAndGlyphs" fill="#000">A</text>
<text x="538.02" y="47.9" font-size="28.99" font-weight="bold" textLength="19.77" lengthAdjust="spacingAndGlyphs" fill="#000">B</text>
<text x="1032.36" y="47.81" font-size="29.15" font-weight="bold" textLength="20.62" lengthAdjust="spacingAndGlyphs" fill="#000">C</text>
<text x="1464.8" y="47.6" font-size="28.55" font-weight="bold" textLength="21.14" lengthAdjust="spacingAndGlyphs" fill="#000">D</text>
<text x="69.21" y="312.5" font-size="28.7" font-weight="bold" textLength="17.35" lengthAdjust="spacingAndGlyphs" fill="#000">E</text>
<text x="1014.44" y="312.5" font-size="28.7" font-weight="bold" textLength="16.53" lengthAdjust="spacingAndGlyphs" fill="#000">F</text>
<text x="69" y="669.1" font-size="29.86" font-weight="bold" textLength="21.32" lengthAdjust="spacingAndGlyphs" fill="#000">G</text>
<text x="538.07" y="669.2" font-size="29.57" font-weight="bold" textLength="20.32" lengthAdjust="spacingAndGlyphs" fill="#000">H</text>
<text x="1032.55" y="669.2" font-size="30" font-weight="bold" textLength="7.47" lengthAdjust="spacingAndGlyphs" fill="#000">I</text>
<text x="1464.89" y="669.11" font-size="29.43" font-weight="bold" textLength="15.34" lengthAdjust="spacingAndGlyphs" fill="#000">J</text>
<text x="115.27" y="940.95" font-size="28.84" font-weight="normal" textLength="14.04" lengthAdjust="spacingAndGlyphs" fill="#000" style="stroke-width:0.5px">K</text>
<text x="1013.94" y="929.85" font-size="28.26" font-weight="normal" textLength="11.87" lengthAdjust="spacingAndGlyphs" fill="#000" style="stroke-width:0.5px">L</text>
<text transform="rotate(-90)" x="-270.85" y="23" font-size="24.3" textLength="197.44" lengthAdjust="spacingAndGlyphs">CoP position (cm)</text>
<text transform="rotate(-90)" x="-284.14" y="911.3" font-size="24.3" textLength="197.24" lengthAdjust="spacingAndGlyphs">CoP position (cm)</text>
<text transform="rotate(-90)" x="-859.54" y="23.3" font-size="24.3" textLength="197.34" lengthAdjust="spacingAndGlyphs">CoP position (cm)</text>
<text transform="rotate(-90)" x="-858.55" y="912.5" font-size="24.3" textLength="197.54" lengthAdjust="spacingAndGlyphs">CoP position (cm)</text>
<text transform="rotate(-90)" x="-472.65" y="20.3" font-size="24.3" textLength="162.79" lengthAdjust="spacingAndGlyphs">Spetrum (cm²)</text>
<text transform="rotate(-90)" x="-472.64" y="911.7" font-size="24.3" textLength="162.18" lengthAdjust="spacingAndGlyphs">Spetrum (cm²)</text>
<text transform="rotate(-90)" x="-1070.14" y="20.6" font-size="24.3" textLength="162.28" lengthAdjust="spacingAndGlyphs">Spetrum (cm²)</text>
<text transform="rotate(-90)" x="-1071.54" y="909.3" font-size="24.3" textLength="161.97" lengthAdjust="spacingAndGlyphs">Spetrum (cm²)</text>
<text transform="rotate(-90)" x="-393.5" y="461.1" font-size="24.3" textLength="233.94" lengthAdjust="spacingAndGlyphs">AP CoP position (cm)</text>
<text transform="rotate(-90)" x="-391.9" y="1379.1" font-size="24.3" textLength="234.04" lengthAdjust="spacingAndGlyphs">AP CoP position (cm)</text>
<text transform="rotate(-90)" x="-988.8" y="465.5" font-size="24.3" textLength="233.64" lengthAdjust="spacingAndGlyphs">AP CoP position (cm)</text>
<text transform="rotate(-90)" x="-1001.4" y="1380.2" font-size="24.3" textLength="234.14" lengthAdjust="spacingAndGlyphs">AP CoP position (cm)</text>
<text x="208.41" y="295.1" font-size="24.3" font-weight="normal" textLength="89.47" lengthAdjust="spacingAndGlyphs" fill="#000">Time (<tspan font-style="italic">s</tspan>)</text>
<text x="1100.21" y="296.3" font-size="24.3" font-weight="normal" textLength="89.47" lengthAdjust="spacingAndGlyphs" fill="#000">Time (<tspan font-style="italic">s</tspan>)</text>
<text x="206.01" y="887.4" font-size="24.3" font-weight="normal" textLength="89.57" lengthAdjust="spacingAndGlyphs" fill="#000">Time (<tspan font-style="italic">s</tspan>)</text>
<text x="1102.91" y="886.8" font-size="24.3" font-weight="normal" textLength="89.37" lengthAdjust="spacingAndGlyphs" fill="#000">Time (<tspan font-style="italic">s</tspan>)</text>
<text x="171.95" y="505.8" font-size="24.3" font-weight="normal" textLength="168.03" lengthAdjust="spacingAndGlyphs" fill="#000">Frequency (Hz)</text>
<text x="1060.35" y="505.6" font-size="24.3" font-weight="normal" textLength="168.14" lengthAdjust="spacingAndGlyphs" fill="#000">Frequency (Hz)</text>
<text x="166.95" y="1105.1" font-size="24.3" font-weight="normal" textLength="168.34" lengthAdjust="spacingAndGlyphs" fill="#000">Frequency (Hz)</text>
<text x="1063.44" y="1104" font-size="24.3" font-weight="normal" textLength="168.44" lengthAdjust="spacingAndGlyphs" fill="#000">Frequency (Hz)</text>
<text x="562.6" y="505.8" font-size="24.3" font-weight="normal" textLength="239.51" lengthAdjust="spacingAndGlyphs" fill="#000">ML CoP position (cm)</text>
<text x="1486.4" y="506.8" font-size="24.3" font-weight="normal" textLength="239.1" lengthAdjust="spacingAndGlyphs" fill="#000">ML CoP position (cm)</text>
<text x="564.09" y="1105.6" font-size="24.3" font-weight="normal" textLength="240.01" lengthAdjust="spacingAndGlyphs" fill="#000">ML CoP position (cm)</text>
<text x="1485.49" y="1107.5" font-size="24.3" font-weight="normal" textLength="240.01" lengthAdjust="spacingAndGlyphs" fill="#000">ML CoP position (cm)</text>
<path d="M275 343.3H313" stroke="#ff0000" stroke-width="2.6"/>
<path d="M275 365.4H313" stroke="#0050b0" stroke-width="2.4"/>
<text x="332.41" y="353.4" font-size="24.2" font-weight="normal" textLength="34.62" lengthAdjust="spacingAndGlyphs" fill="#000">ML</text>
<text x="333.2" y="379.5" font-size="23.77" font-weight="normal" textLength="28.66" lengthAdjust="spacingAndGlyphs" fill="#000">AP</text>
</svg>
</body></html>
